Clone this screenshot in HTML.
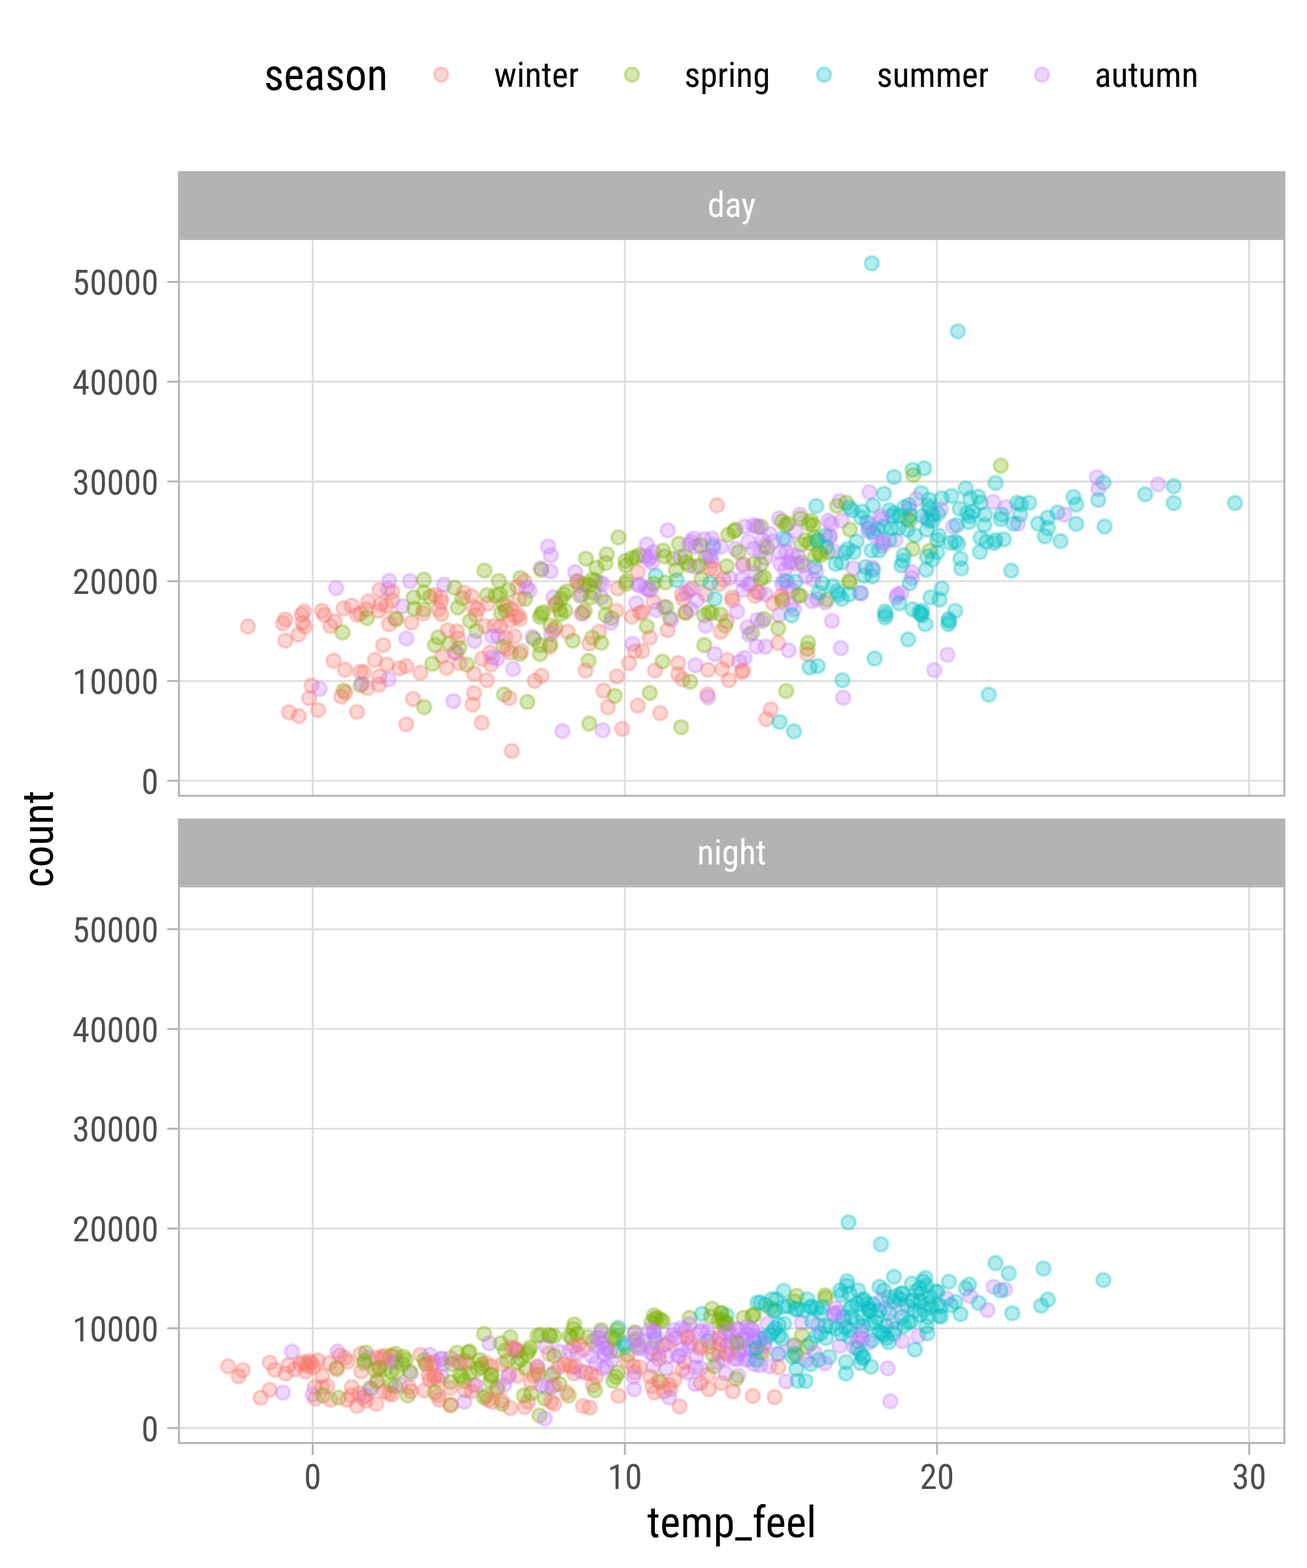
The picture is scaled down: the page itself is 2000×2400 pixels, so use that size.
<!DOCTYPE html><html><head><meta charset="utf-8"><style>html,body{margin:0;padding:0;background:#fff;}svg{display:block}text{font-family:'Roboto Condensed','Liberation Sans',sans-serif;}</style></head><body>
<svg width="2000" height="2400" viewBox="0 0 2000 2400">
<rect width="2000" height="2400" fill="#fff"/>
<text x="403.9" y="138.2" font-size="68.7" fill="#000" textLength="189.72" lengthAdjust="spacingAndGlyphs">season</text>
<circle cx="675.1" cy="114.3" r="10.7" fill="#F8766D" fill-opacity="0.3" stroke="#F8766D" stroke-opacity="0.3" stroke-width="4"/>
<text x="756.1" y="133.2" font-size="53.33" fill="#000" textLength="129.77" lengthAdjust="spacingAndGlyphs">winter</text>
<circle cx="967" cy="114.3" r="10.7" fill="#7CAE00" fill-opacity="0.3" stroke="#7CAE00" stroke-opacity="0.3" stroke-width="4"/>
<text x="1047.2" y="133.2" font-size="53.33" fill="#000" textLength="131.25" lengthAdjust="spacingAndGlyphs">spring</text>
<circle cx="1261" cy="114.3" r="10.7" fill="#00BFC4" fill-opacity="0.3" stroke="#00BFC4" stroke-opacity="0.3" stroke-width="4"/>
<text x="1341.4" y="133.2" font-size="53.33" fill="#000" textLength="171.66" lengthAdjust="spacingAndGlyphs">summer</text>
<circle cx="1594.5" cy="114.3" r="10.7" fill="#C77CFF" fill-opacity="0.3" stroke="#C77CFF" stroke-opacity="0.3" stroke-width="4"/>
<text x="1674.9" y="133.2" font-size="53.33" fill="#000" textLength="158.88" lengthAdjust="spacingAndGlyphs">autumn</text>
<rect x="272.3" y="262.0" width="1694.6000000000001" height="102.30000000000001" fill="#B3B3B3"/>
<text x="1119.6" y="332.0" font-size="53.33" fill="#fff" text-anchor="middle" textLength="73.83" lengthAdjust="spacingAndGlyphs">day</text>
<clipPath id="cp0"><rect x="272.3" y="364.3" width="1694.6000000000001" height="855.2"/></clipPath>
<g clip-path="url(#cp0)">
<rect x="272.3" y="364.3" width="1694.6000000000001" height="855.2" fill="#fff"/>
<line x1="478.50" y1="364.3" x2="478.50" y2="1219.5" stroke="#DEDEDE" stroke-width="2.9"/>
<line x1="956.17" y1="364.3" x2="956.17" y2="1219.5" stroke="#DEDEDE" stroke-width="2.9"/>
<line x1="1433.84" y1="364.3" x2="1433.84" y2="1219.5" stroke="#DEDEDE" stroke-width="2.9"/>
<line x1="1911.51" y1="364.3" x2="1911.51" y2="1219.5" stroke="#DEDEDE" stroke-width="2.9"/>
<line x1="272.3" y1="1195.10" x2="1966.9" y2="1195.10" stroke="#DEDEDE" stroke-width="2.9"/>
<line x1="272.3" y1="1042.38" x2="1966.9" y2="1042.38" stroke="#DEDEDE" stroke-width="2.9"/>
<line x1="272.3" y1="889.66" x2="1966.9" y2="889.66" stroke="#DEDEDE" stroke-width="2.9"/>
<line x1="272.3" y1="736.94" x2="1966.9" y2="736.94" stroke="#DEDEDE" stroke-width="2.9"/>
<line x1="272.3" y1="584.22" x2="1966.9" y2="584.22" stroke="#DEDEDE" stroke-width="2.9"/>
<line x1="272.3" y1="431.50" x2="1966.9" y2="431.50" stroke="#DEDEDE" stroke-width="2.9"/>
<circle cx="1334.1" cy="403.0" r="10.7" fill="#00BFC4" fill-opacity="0.3" stroke="#00BFC4" stroke-opacity="0.3" stroke-width="4"/>
<circle cx="1465.7" cy="507.1" r="10.7" fill="#00BFC4" fill-opacity="0.3" stroke="#00BFC4" stroke-opacity="0.3" stroke-width="4"/>
<circle cx="379.4" cy="958.9" r="10.7" fill="#F8766D" fill-opacity="0.3" stroke="#F8766D" stroke-opacity="0.3" stroke-width="4"/>
<circle cx="436.6" cy="948.1" r="10.7" fill="#F8766D" fill-opacity="0.3" stroke="#F8766D" stroke-opacity="0.3" stroke-width="4"/>
<circle cx="433.1" cy="954.3" r="10.7" fill="#F8766D" fill-opacity="0.3" stroke="#F8766D" stroke-opacity="0.3" stroke-width="4"/>
<circle cx="465.1" cy="936.0" r="10.7" fill="#F8766D" fill-opacity="0.3" stroke="#F8766D" stroke-opacity="0.3" stroke-width="4"/>
<circle cx="461.7" cy="940.6" r="10.7" fill="#F8766D" fill-opacity="0.3" stroke="#F8766D" stroke-opacity="0.3" stroke-width="4"/>
<circle cx="462.9" cy="953.1" r="10.7" fill="#F8766D" fill-opacity="0.3" stroke="#F8766D" stroke-opacity="0.3" stroke-width="4"/>
<circle cx="466.3" cy="958.9" r="10.7" fill="#F8766D" fill-opacity="0.3" stroke="#F8766D" stroke-opacity="0.3" stroke-width="4"/>
<circle cx="456.5" cy="971.4" r="10.7" fill="#F8766D" fill-opacity="0.3" stroke="#F8766D" stroke-opacity="0.3" stroke-width="4"/>
<circle cx="436.6" cy="980.6" r="10.7" fill="#F8766D" fill-opacity="0.3" stroke="#F8766D" stroke-opacity="0.3" stroke-width="4"/>
<circle cx="492.6" cy="934.9" r="10.7" fill="#F8766D" fill-opacity="0.3" stroke="#F8766D" stroke-opacity="0.3" stroke-width="4"/>
<circle cx="496.5" cy="941.3" r="10.7" fill="#F8766D" fill-opacity="0.3" stroke="#F8766D" stroke-opacity="0.3" stroke-width="4"/>
<circle cx="512.0" cy="951.3" r="10.7" fill="#F8766D" fill-opacity="0.3" stroke="#F8766D" stroke-opacity="0.3" stroke-width="4"/>
<circle cx="505.8" cy="958.2" r="10.7" fill="#F8766D" fill-opacity="0.3" stroke="#F8766D" stroke-opacity="0.3" stroke-width="4"/>
<circle cx="524.1" cy="968.0" r="10.7" fill="#7CAE00" fill-opacity="0.3" stroke="#7CAE00" stroke-opacity="0.3" stroke-width="4"/>
<circle cx="514.3" cy="900.1" r="10.7" fill="#C77CFF" fill-opacity="0.3" stroke="#C77CFF" stroke-opacity="0.3" stroke-width="4"/>
<circle cx="525.7" cy="931.4" r="10.7" fill="#F8766D" fill-opacity="0.3" stroke="#F8766D" stroke-opacity="0.3" stroke-width="4"/>
<circle cx="538.3" cy="926.9" r="10.7" fill="#F8766D" fill-opacity="0.3" stroke="#F8766D" stroke-opacity="0.3" stroke-width="4"/>
<circle cx="546.3" cy="941.3" r="10.7" fill="#F8766D" fill-opacity="0.3" stroke="#F8766D" stroke-opacity="0.3" stroke-width="4"/>
<circle cx="551.5" cy="939.0" r="10.7" fill="#F8766D" fill-opacity="0.3" stroke="#F8766D" stroke-opacity="0.3" stroke-width="4"/>
<circle cx="563.4" cy="920.7" r="10.7" fill="#F8766D" fill-opacity="0.3" stroke="#F8766D" stroke-opacity="0.3" stroke-width="4"/>
<circle cx="560.7" cy="932.6" r="10.7" fill="#F8766D" fill-opacity="0.3" stroke="#F8766D" stroke-opacity="0.3" stroke-width="4"/>
<circle cx="561.6" cy="945.8" r="10.7" fill="#7CAE00" fill-opacity="0.3" stroke="#7CAE00" stroke-opacity="0.3" stroke-width="4"/>
<circle cx="580.6" cy="902.9" r="10.7" fill="#F8766D" fill-opacity="0.3" stroke="#F8766D" stroke-opacity="0.3" stroke-width="4"/>
<circle cx="595.4" cy="889.1" r="10.7" fill="#C77CFF" fill-opacity="0.3" stroke="#C77CFF" stroke-opacity="0.3" stroke-width="4"/>
<circle cx="593.6" cy="901.7" r="10.7" fill="#C77CFF" fill-opacity="0.3" stroke="#C77CFF" stroke-opacity="0.3" stroke-width="4"/>
<circle cx="600.0" cy="905.6" r="10.7" fill="#F8766D" fill-opacity="0.3" stroke="#F8766D" stroke-opacity="0.3" stroke-width="4"/>
<circle cx="582.9" cy="924.6" r="10.7" fill="#F8766D" fill-opacity="0.3" stroke="#F8766D" stroke-opacity="0.3" stroke-width="4"/>
<circle cx="579.9" cy="934.9" r="10.7" fill="#F8766D" fill-opacity="0.3" stroke="#F8766D" stroke-opacity="0.3" stroke-width="4"/>
<circle cx="591.3" cy="926.9" r="10.7" fill="#F8766D" fill-opacity="0.3" stroke="#F8766D" stroke-opacity="0.3" stroke-width="4"/>
<circle cx="600.0" cy="919.3" r="10.7" fill="#F8766D" fill-opacity="0.3" stroke="#F8766D" stroke-opacity="0.3" stroke-width="4"/>
<circle cx="616.0" cy="928.0" r="10.7" fill="#C77CFF" fill-opacity="0.3" stroke="#C77CFF" stroke-opacity="0.3" stroke-width="4"/>
<circle cx="604.6" cy="946.3" r="10.7" fill="#F8766D" fill-opacity="0.3" stroke="#F8766D" stroke-opacity="0.3" stroke-width="4"/>
<circle cx="606.4" cy="948.1" r="10.7" fill="#7CAE00" fill-opacity="0.3" stroke="#7CAE00" stroke-opacity="0.3" stroke-width="4"/>
<circle cx="595.4" cy="955.4" r="10.7" fill="#F8766D" fill-opacity="0.3" stroke="#F8766D" stroke-opacity="0.3" stroke-width="4"/>
<circle cx="629.7" cy="953.1" r="10.7" fill="#F8766D" fill-opacity="0.3" stroke="#F8766D" stroke-opacity="0.3" stroke-width="4"/>
<circle cx="627.4" cy="889.6" r="10.7" fill="#C77CFF" fill-opacity="0.3" stroke="#C77CFF" stroke-opacity="0.3" stroke-width="4"/>
<circle cx="648.5" cy="887.3" r="10.7" fill="#7CAE00" fill-opacity="0.3" stroke="#7CAE00" stroke-opacity="0.3" stroke-width="4"/>
<circle cx="633.1" cy="914.3" r="10.7" fill="#7CAE00" fill-opacity="0.3" stroke="#7CAE00" stroke-opacity="0.3" stroke-width="4"/>
<circle cx="633.8" cy="931.4" r="10.7" fill="#7CAE00" fill-opacity="0.3" stroke="#7CAE00" stroke-opacity="0.3" stroke-width="4"/>
<circle cx="648.5" cy="907.0" r="10.7" fill="#7CAE00" fill-opacity="0.3" stroke="#7CAE00" stroke-opacity="0.3" stroke-width="4"/>
<circle cx="648.5" cy="933.0" r="10.7" fill="#7CAE00" fill-opacity="0.3" stroke="#7CAE00" stroke-opacity="0.3" stroke-width="4"/>
<circle cx="658.3" cy="913.8" r="10.7" fill="#7CAE00" fill-opacity="0.3" stroke="#7CAE00" stroke-opacity="0.3" stroke-width="4"/>
<circle cx="647.5" cy="939.0" r="10.7" fill="#F8766D" fill-opacity="0.3" stroke="#F8766D" stroke-opacity="0.3" stroke-width="4"/>
<circle cx="665.1" cy="910.9" r="10.7" fill="#F8766D" fill-opacity="0.3" stroke="#F8766D" stroke-opacity="0.3" stroke-width="4"/>
<circle cx="674.3" cy="914.3" r="10.7" fill="#F8766D" fill-opacity="0.3" stroke="#F8766D" stroke-opacity="0.3" stroke-width="4"/>
<circle cx="675.0" cy="921.1" r="10.7" fill="#F8766D" fill-opacity="0.3" stroke="#F8766D" stroke-opacity="0.3" stroke-width="4"/>
<circle cx="671.3" cy="933.0" r="10.7" fill="#F8766D" fill-opacity="0.3" stroke="#F8766D" stroke-opacity="0.3" stroke-width="4"/>
<circle cx="675.4" cy="939.9" r="10.7" fill="#F8766D" fill-opacity="0.3" stroke="#F8766D" stroke-opacity="0.3" stroke-width="4"/>
<circle cx="679.5" cy="894.9" r="10.7" fill="#C77CFF" fill-opacity="0.3" stroke="#C77CFF" stroke-opacity="0.3" stroke-width="4"/>
<circle cx="695.5" cy="899.4" r="10.7" fill="#7CAE00" fill-opacity="0.3" stroke="#7CAE00" stroke-opacity="0.3" stroke-width="4"/>
<circle cx="700.6" cy="929.8" r="10.7" fill="#7CAE00" fill-opacity="0.3" stroke="#7CAE00" stroke-opacity="0.3" stroke-width="4"/>
<circle cx="707.4" cy="915.4" r="10.7" fill="#7CAE00" fill-opacity="0.3" stroke="#7CAE00" stroke-opacity="0.3" stroke-width="4"/>
<circle cx="709.7" cy="907.0" r="10.7" fill="#F8766D" fill-opacity="0.3" stroke="#F8766D" stroke-opacity="0.3" stroke-width="4"/>
<circle cx="721.6" cy="912.5" r="10.7" fill="#F8766D" fill-opacity="0.3" stroke="#F8766D" stroke-opacity="0.3" stroke-width="4"/>
<circle cx="723.9" cy="928.5" r="10.7" fill="#F8766D" fill-opacity="0.3" stroke="#F8766D" stroke-opacity="0.3" stroke-width="4"/>
<circle cx="730.7" cy="932.1" r="10.7" fill="#F8766D" fill-opacity="0.3" stroke="#F8766D" stroke-opacity="0.3" stroke-width="4"/>
<circle cx="728.0" cy="941.3" r="10.7" fill="#F8766D" fill-opacity="0.3" stroke="#F8766D" stroke-opacity="0.3" stroke-width="4"/>
<circle cx="719.3" cy="950.4" r="10.7" fill="#7CAE00" fill-opacity="0.3" stroke="#7CAE00" stroke-opacity="0.3" stroke-width="4"/>
<circle cx="729.1" cy="965.7" r="10.7" fill="#7CAE00" fill-opacity="0.3" stroke="#7CAE00" stroke-opacity="0.3" stroke-width="4"/>
<circle cx="745.1" cy="910.9" r="10.7" fill="#7CAE00" fill-opacity="0.3" stroke="#7CAE00" stroke-opacity="0.3" stroke-width="4"/>
<circle cx="746.3" cy="923.9" r="10.7" fill="#F8766D" fill-opacity="0.3" stroke="#F8766D" stroke-opacity="0.3" stroke-width="4"/>
<circle cx="758.2" cy="911.5" r="10.7" fill="#7CAE00" fill-opacity="0.3" stroke="#7CAE00" stroke-opacity="0.3" stroke-width="4"/>
<circle cx="742.2" cy="958.2" r="10.7" fill="#F8766D" fill-opacity="0.3" stroke="#F8766D" stroke-opacity="0.3" stroke-width="4"/>
<circle cx="756.6" cy="957.7" r="10.7" fill="#F8766D" fill-opacity="0.3" stroke="#F8766D" stroke-opacity="0.3" stroke-width="4"/>
<circle cx="621.7" cy="977.1" r="10.7" fill="#C77CFF" fill-opacity="0.3" stroke="#C77CFF" stroke-opacity="0.3" stroke-width="4"/>
<circle cx="586.3" cy="987.4" r="10.7" fill="#F8766D" fill-opacity="0.3" stroke="#F8766D" stroke-opacity="0.3" stroke-width="4"/>
<circle cx="670.9" cy="975.5" r="10.7" fill="#7CAE00" fill-opacity="0.3" stroke="#7CAE00" stroke-opacity="0.3" stroke-width="4"/>
<circle cx="665.8" cy="987.4" r="10.7" fill="#7CAE00" fill-opacity="0.3" stroke="#7CAE00" stroke-opacity="0.3" stroke-width="4"/>
<circle cx="685.0" cy="964.6" r="10.7" fill="#F8766D" fill-opacity="0.3" stroke="#F8766D" stroke-opacity="0.3" stroke-width="4"/>
<circle cx="699.4" cy="966.4" r="10.7" fill="#F8766D" fill-opacity="0.3" stroke="#F8766D" stroke-opacity="0.3" stroke-width="4"/>
<circle cx="688.0" cy="985.1" r="10.7" fill="#7CAE00" fill-opacity="0.3" stroke="#7CAE00" stroke-opacity="0.3" stroke-width="4"/>
<circle cx="701.0" cy="977.1" r="10.7" fill="#F8766D" fill-opacity="0.3" stroke="#F8766D" stroke-opacity="0.3" stroke-width="4"/>
<circle cx="725.7" cy="981.0" r="10.7" fill="#C77CFF" fill-opacity="0.3" stroke="#C77CFF" stroke-opacity="0.3" stroke-width="4"/>
<circle cx="753.6" cy="974.2" r="10.7" fill="#C77CFF" fill-opacity="0.3" stroke="#C77CFF" stroke-opacity="0.3" stroke-width="4"/>
<circle cx="676.6" cy="1004.6" r="10.7" fill="#F8766D" fill-opacity="0.3" stroke="#F8766D" stroke-opacity="0.3" stroke-width="4"/>
<circle cx="696.0" cy="998.9" r="10.7" fill="#F8766D" fill-opacity="0.3" stroke="#F8766D" stroke-opacity="0.3" stroke-width="4"/>
<circle cx="698.7" cy="999.3" r="10.7" fill="#C77CFF" fill-opacity="0.3" stroke="#C77CFF" stroke-opacity="0.3" stroke-width="4"/>
<circle cx="702.9" cy="991.5" r="10.7" fill="#7CAE00" fill-opacity="0.3" stroke="#7CAE00" stroke-opacity="0.3" stroke-width="4"/>
<circle cx="661.7" cy="1016.0" r="10.7" fill="#7CAE00" fill-opacity="0.3" stroke="#7CAE00" stroke-opacity="0.3" stroke-width="4"/>
<circle cx="683.4" cy="1022.2" r="10.7" fill="#F8766D" fill-opacity="0.3" stroke="#F8766D" stroke-opacity="0.3" stroke-width="4"/>
<circle cx="714.3" cy="1017.1" r="10.7" fill="#7CAE00" fill-opacity="0.3" stroke="#7CAE00" stroke-opacity="0.3" stroke-width="4"/>
<circle cx="703.3" cy="1014.9" r="10.7" fill="#F8766D" fill-opacity="0.3" stroke="#F8766D" stroke-opacity="0.3" stroke-width="4"/>
<circle cx="725.3" cy="1031.3" r="10.7" fill="#F8766D" fill-opacity="0.3" stroke="#F8766D" stroke-opacity="0.3" stroke-width="4"/>
<circle cx="737.6" cy="1008.5" r="10.7" fill="#F8766D" fill-opacity="0.3" stroke="#F8766D" stroke-opacity="0.3" stroke-width="4"/>
<circle cx="749.7" cy="998.9" r="10.7" fill="#F8766D" fill-opacity="0.3" stroke="#F8766D" stroke-opacity="0.3" stroke-width="4"/>
<circle cx="753.6" cy="1006.2" r="10.7" fill="#C77CFF" fill-opacity="0.3" stroke="#C77CFF" stroke-opacity="0.3" stroke-width="4"/>
<circle cx="751.3" cy="1017.1" r="10.7" fill="#F8766D" fill-opacity="0.3" stroke="#F8766D" stroke-opacity="0.3" stroke-width="4"/>
<circle cx="510.4" cy="1011.4" r="10.7" fill="#F8766D" fill-opacity="0.3" stroke="#F8766D" stroke-opacity="0.3" stroke-width="4"/>
<circle cx="528.0" cy="1025.1" r="10.7" fill="#F8766D" fill-opacity="0.3" stroke="#F8766D" stroke-opacity="0.3" stroke-width="4"/>
<circle cx="551.5" cy="1028.1" r="10.7" fill="#F8766D" fill-opacity="0.3" stroke="#F8766D" stroke-opacity="0.3" stroke-width="4"/>
<circle cx="557.0" cy="1029.0" r="10.7" fill="#F8766D" fill-opacity="0.3" stroke="#F8766D" stroke-opacity="0.3" stroke-width="4"/>
<circle cx="573.7" cy="1010.3" r="10.7" fill="#F8766D" fill-opacity="0.3" stroke="#F8766D" stroke-opacity="0.3" stroke-width="4"/>
<circle cx="592.0" cy="1017.1" r="10.7" fill="#F8766D" fill-opacity="0.3" stroke="#F8766D" stroke-opacity="0.3" stroke-width="4"/>
<circle cx="611.4" cy="1022.9" r="10.7" fill="#F8766D" fill-opacity="0.3" stroke="#F8766D" stroke-opacity="0.3" stroke-width="4"/>
<circle cx="621.7" cy="1019.4" r="10.7" fill="#F8766D" fill-opacity="0.3" stroke="#F8766D" stroke-opacity="0.3" stroke-width="4"/>
<circle cx="643.4" cy="1029.7" r="10.7" fill="#F8766D" fill-opacity="0.3" stroke="#F8766D" stroke-opacity="0.3" stroke-width="4"/>
<circle cx="580.6" cy="1035.4" r="10.7" fill="#F8766D" fill-opacity="0.3" stroke="#F8766D" stroke-opacity="0.3" stroke-width="4"/>
<circle cx="594.3" cy="1040.0" r="10.7" fill="#C77CFF" fill-opacity="0.3" stroke="#C77CFF" stroke-opacity="0.3" stroke-width="4"/>
<circle cx="476.6" cy="1049.1" r="10.7" fill="#F8766D" fill-opacity="0.3" stroke="#F8766D" stroke-opacity="0.3" stroke-width="4"/>
<circle cx="489.1" cy="1054.2" r="10.7" fill="#C77CFF" fill-opacity="0.3" stroke="#C77CFF" stroke-opacity="0.3" stroke-width="4"/>
<circle cx="473.1" cy="1068.6" r="10.7" fill="#F8766D" fill-opacity="0.3" stroke="#F8766D" stroke-opacity="0.3" stroke-width="4"/>
<circle cx="525.7" cy="1057.1" r="10.7" fill="#7CAE00" fill-opacity="0.3" stroke="#7CAE00" stroke-opacity="0.3" stroke-width="4"/>
<circle cx="528.7" cy="1060.1" r="10.7" fill="#F8766D" fill-opacity="0.3" stroke="#F8766D" stroke-opacity="0.3" stroke-width="4"/>
<circle cx="522.3" cy="1066.3" r="10.7" fill="#F8766D" fill-opacity="0.3" stroke="#F8766D" stroke-opacity="0.3" stroke-width="4"/>
<circle cx="552.0" cy="1049.1" r="10.7" fill="#7CAE00" fill-opacity="0.3" stroke="#7CAE00" stroke-opacity="0.3" stroke-width="4"/>
<circle cx="553.8" cy="1046.4" r="10.7" fill="#C77CFF" fill-opacity="0.3" stroke="#C77CFF" stroke-opacity="0.3" stroke-width="4"/>
<circle cx="562.3" cy="1053.3" r="10.7" fill="#F8766D" fill-opacity="0.3" stroke="#F8766D" stroke-opacity="0.3" stroke-width="4"/>
<circle cx="579.9" cy="1048.0" r="10.7" fill="#F8766D" fill-opacity="0.3" stroke="#F8766D" stroke-opacity="0.3" stroke-width="4"/>
<circle cx="745.1" cy="1041.1" r="10.7" fill="#F8766D" fill-opacity="0.3" stroke="#F8766D" stroke-opacity="0.3" stroke-width="4"/>
<circle cx="632.0" cy="1069.7" r="10.7" fill="#F8766D" fill-opacity="0.3" stroke="#F8766D" stroke-opacity="0.3" stroke-width="4"/>
<circle cx="649.1" cy="1082.3" r="10.7" fill="#7CAE00" fill-opacity="0.3" stroke="#7CAE00" stroke-opacity="0.3" stroke-width="4"/>
<circle cx="693.7" cy="1073.1" r="10.7" fill="#C77CFF" fill-opacity="0.3" stroke="#C77CFF" stroke-opacity="0.3" stroke-width="4"/>
<circle cx="725.3" cy="1061.0" r="10.7" fill="#F8766D" fill-opacity="0.3" stroke="#F8766D" stroke-opacity="0.3" stroke-width="4"/>
<circle cx="723.4" cy="1078.4" r="10.7" fill="#F8766D" fill-opacity="0.3" stroke="#F8766D" stroke-opacity="0.3" stroke-width="4"/>
<circle cx="442.3" cy="1090.3" r="10.7" fill="#F8766D" fill-opacity="0.3" stroke="#F8766D" stroke-opacity="0.3" stroke-width="4"/>
<circle cx="457.1" cy="1096.0" r="10.7" fill="#F8766D" fill-opacity="0.3" stroke="#F8766D" stroke-opacity="0.3" stroke-width="4"/>
<circle cx="486.9" cy="1086.9" r="10.7" fill="#F8766D" fill-opacity="0.3" stroke="#F8766D" stroke-opacity="0.3" stroke-width="4"/>
<circle cx="546.3" cy="1089.8" r="10.7" fill="#F8766D" fill-opacity="0.3" stroke="#F8766D" stroke-opacity="0.3" stroke-width="4"/>
<circle cx="621.7" cy="1108.6" r="10.7" fill="#F8766D" fill-opacity="0.3" stroke="#F8766D" stroke-opacity="0.3" stroke-width="4"/>
<circle cx="737.1" cy="1106.3" r="10.7" fill="#F8766D" fill-opacity="0.3" stroke="#F8766D" stroke-opacity="0.3" stroke-width="4"/>
<circle cx="763.4" cy="889.1" r="10.7" fill="#7CAE00" fill-opacity="0.3" stroke="#7CAE00" stroke-opacity="0.3" stroke-width="4"/>
<circle cx="796.6" cy="884.6" r="10.7" fill="#7CAE00" fill-opacity="0.3" stroke="#7CAE00" stroke-opacity="0.3" stroke-width="4"/>
<circle cx="802.3" cy="889.1" r="10.7" fill="#F8766D" fill-opacity="0.3" stroke="#F8766D" stroke-opacity="0.3" stroke-width="4"/>
<circle cx="792.0" cy="898.3" r="10.7" fill="#F8766D" fill-opacity="0.3" stroke="#F8766D" stroke-opacity="0.3" stroke-width="4"/>
<circle cx="810.3" cy="904.0" r="10.7" fill="#C77CFF" fill-opacity="0.3" stroke="#C77CFF" stroke-opacity="0.3" stroke-width="4"/>
<circle cx="805.7" cy="899.4" r="10.7" fill="#C77CFF" fill-opacity="0.3" stroke="#C77CFF" stroke-opacity="0.3" stroke-width="4"/>
<circle cx="778.3" cy="902.9" r="10.7" fill="#7CAE00" fill-opacity="0.3" stroke="#7CAE00" stroke-opacity="0.3" stroke-width="4"/>
<circle cx="764.6" cy="909.7" r="10.7" fill="#7CAE00" fill-opacity="0.3" stroke="#7CAE00" stroke-opacity="0.3" stroke-width="4"/>
<circle cx="803.4" cy="916.6" r="10.7" fill="#7CAE00" fill-opacity="0.3" stroke="#7CAE00" stroke-opacity="0.3" stroke-width="4"/>
<circle cx="794.3" cy="917.7" r="10.7" fill="#F8766D" fill-opacity="0.3" stroke="#F8766D" stroke-opacity="0.3" stroke-width="4"/>
<circle cx="770.3" cy="924.6" r="10.7" fill="#7CAE00" fill-opacity="0.3" stroke="#7CAE00" stroke-opacity="0.3" stroke-width="4"/>
<circle cx="774.9" cy="928.0" r="10.7" fill="#F8766D" fill-opacity="0.3" stroke="#F8766D" stroke-opacity="0.3" stroke-width="4"/>
<circle cx="766.9" cy="938.3" r="10.7" fill="#7CAE00" fill-opacity="0.3" stroke="#7CAE00" stroke-opacity="0.3" stroke-width="4"/>
<circle cx="773.7" cy="934.9" r="10.7" fill="#7CAE00" fill-opacity="0.3" stroke="#7CAE00" stroke-opacity="0.3" stroke-width="4"/>
<circle cx="781.7" cy="932.6" r="10.7" fill="#F8766D" fill-opacity="0.3" stroke="#F8766D" stroke-opacity="0.3" stroke-width="4"/>
<circle cx="788.6" cy="944.0" r="10.7" fill="#F8766D" fill-opacity="0.3" stroke="#F8766D" stroke-opacity="0.3" stroke-width="4"/>
<circle cx="795.4" cy="947.4" r="10.7" fill="#F8766D" fill-opacity="0.3" stroke="#F8766D" stroke-opacity="0.3" stroke-width="4"/>
<circle cx="793.1" cy="941.7" r="10.7" fill="#F8766D" fill-opacity="0.3" stroke="#F8766D" stroke-opacity="0.3" stroke-width="4"/>
<circle cx="779.4" cy="949.7" r="10.7" fill="#F8766D" fill-opacity="0.3" stroke="#F8766D" stroke-opacity="0.3" stroke-width="4"/>
<circle cx="765.7" cy="958.9" r="10.7" fill="#F8766D" fill-opacity="0.3" stroke="#F8766D" stroke-opacity="0.3" stroke-width="4"/>
<circle cx="762.3" cy="973.7" r="10.7" fill="#C77CFF" fill-opacity="0.3" stroke="#C77CFF" stroke-opacity="0.3" stroke-width="4"/>
<circle cx="787.4" cy="973.7" r="10.7" fill="#F8766D" fill-opacity="0.3" stroke="#F8766D" stroke-opacity="0.3" stroke-width="4"/>
<circle cx="773.7" cy="976.0" r="10.7" fill="#F8766D" fill-opacity="0.3" stroke="#F8766D" stroke-opacity="0.3" stroke-width="4"/>
<circle cx="770.3" cy="989.7" r="10.7" fill="#7CAE00" fill-opacity="0.3" stroke="#7CAE00" stroke-opacity="0.3" stroke-width="4"/>
<circle cx="776.0" cy="993.1" r="10.7" fill="#F8766D" fill-opacity="0.3" stroke="#F8766D" stroke-opacity="0.3" stroke-width="4"/>
<circle cx="781.7" cy="998.9" r="10.7" fill="#F8766D" fill-opacity="0.3" stroke="#F8766D" stroke-opacity="0.3" stroke-width="4"/>
<circle cx="795.4" cy="1001.1" r="10.7" fill="#7CAE00" fill-opacity="0.3" stroke="#7CAE00" stroke-opacity="0.3" stroke-width="4"/>
<circle cx="797.7" cy="996.6" r="10.7" fill="#F8766D" fill-opacity="0.3" stroke="#F8766D" stroke-opacity="0.3" stroke-width="4"/>
<circle cx="761.1" cy="1008.0" r="10.7" fill="#C77CFF" fill-opacity="0.3" stroke="#C77CFF" stroke-opacity="0.3" stroke-width="4"/>
<circle cx="785.1" cy="1024.0" r="10.7" fill="#C77CFF" fill-opacity="0.3" stroke="#C77CFF" stroke-opacity="0.3" stroke-width="4"/>
<circle cx="846.9" cy="914.3" r="10.7" fill="#C77CFF" fill-opacity="0.3" stroke="#C77CFF" stroke-opacity="0.3" stroke-width="4"/>
<circle cx="862.9" cy="909.7" r="10.7" fill="#7CAE00" fill-opacity="0.3" stroke="#7CAE00" stroke-opacity="0.3" stroke-width="4"/>
<circle cx="867.4" cy="905.1" r="10.7" fill="#7CAE00" fill-opacity="0.3" stroke="#7CAE00" stroke-opacity="0.3" stroke-width="4"/>
<circle cx="858.3" cy="916.6" r="10.7" fill="#7CAE00" fill-opacity="0.3" stroke="#7CAE00" stroke-opacity="0.3" stroke-width="4"/>
<circle cx="851.4" cy="923.4" r="10.7" fill="#7CAE00" fill-opacity="0.3" stroke="#7CAE00" stroke-opacity="0.3" stroke-width="4"/>
<circle cx="849.1" cy="925.7" r="10.7" fill="#F8766D" fill-opacity="0.3" stroke="#F8766D" stroke-opacity="0.3" stroke-width="4"/>
<circle cx="856.0" cy="932.6" r="10.7" fill="#7CAE00" fill-opacity="0.3" stroke="#7CAE00" stroke-opacity="0.3" stroke-width="4"/>
<circle cx="828.6" cy="939.4" r="10.7" fill="#7CAE00" fill-opacity="0.3" stroke="#7CAE00" stroke-opacity="0.3" stroke-width="4"/>
<circle cx="830.9" cy="937.1" r="10.7" fill="#7CAE00" fill-opacity="0.3" stroke="#7CAE00" stroke-opacity="0.3" stroke-width="4"/>
<circle cx="826.3" cy="944.0" r="10.7" fill="#7CAE00" fill-opacity="0.3" stroke="#7CAE00" stroke-opacity="0.3" stroke-width="4"/>
<circle cx="865.1" cy="934.9" r="10.7" fill="#7CAE00" fill-opacity="0.3" stroke="#7CAE00" stroke-opacity="0.3" stroke-width="4"/>
<circle cx="858.3" cy="939.4" r="10.7" fill="#7CAE00" fill-opacity="0.3" stroke="#7CAE00" stroke-opacity="0.3" stroke-width="4"/>
<circle cx="842.3" cy="957.7" r="10.7" fill="#7CAE00" fill-opacity="0.3" stroke="#7CAE00" stroke-opacity="0.3" stroke-width="4"/>
<circle cx="850.3" cy="961.1" r="10.7" fill="#7CAE00" fill-opacity="0.3" stroke="#7CAE00" stroke-opacity="0.3" stroke-width="4"/>
<circle cx="843.4" cy="970.3" r="10.7" fill="#C77CFF" fill-opacity="0.3" stroke="#C77CFF" stroke-opacity="0.3" stroke-width="4"/>
<circle cx="846.9" cy="964.6" r="10.7" fill="#F8766D" fill-opacity="0.3" stroke="#F8766D" stroke-opacity="0.3" stroke-width="4"/>
<circle cx="868.6" cy="966.9" r="10.7" fill="#F8766D" fill-opacity="0.3" stroke="#F8766D" stroke-opacity="0.3" stroke-width="4"/>
<circle cx="814.9" cy="974.9" r="10.7" fill="#C77CFF" fill-opacity="0.3" stroke="#C77CFF" stroke-opacity="0.3" stroke-width="4"/>
<circle cx="817.1" cy="978.3" r="10.7" fill="#7CAE00" fill-opacity="0.3" stroke="#7CAE00" stroke-opacity="0.3" stroke-width="4"/>
<circle cx="826.3" cy="987.4" r="10.7" fill="#7CAE00" fill-opacity="0.3" stroke="#7CAE00" stroke-opacity="0.3" stroke-width="4"/>
<circle cx="841.1" cy="989.7" r="10.7" fill="#F8766D" fill-opacity="0.3" stroke="#F8766D" stroke-opacity="0.3" stroke-width="4"/>
<circle cx="842.3" cy="986.3" r="10.7" fill="#7CAE00" fill-opacity="0.3" stroke="#7CAE00" stroke-opacity="0.3" stroke-width="4"/>
<circle cx="826.3" cy="1001.1" r="10.7" fill="#7CAE00" fill-opacity="0.3" stroke="#7CAE00" stroke-opacity="0.3" stroke-width="4"/>
<circle cx="876.6" cy="980.6" r="10.7" fill="#7CAE00" fill-opacity="0.3" stroke="#7CAE00" stroke-opacity="0.3" stroke-width="4"/>
<circle cx="883.4" cy="890.3" r="10.7" fill="#7CAE00" fill-opacity="0.3" stroke="#7CAE00" stroke-opacity="0.3" stroke-width="4"/>
<circle cx="883.4" cy="889.1" r="10.7" fill="#F8766D" fill-opacity="0.3" stroke="#F8766D" stroke-opacity="0.3" stroke-width="4"/>
<circle cx="888.0" cy="896.0" r="10.7" fill="#F8766D" fill-opacity="0.3" stroke="#F8766D" stroke-opacity="0.3" stroke-width="4"/>
<circle cx="894.9" cy="893.7" r="10.7" fill="#7CAE00" fill-opacity="0.3" stroke="#7CAE00" stroke-opacity="0.3" stroke-width="4"/>
<circle cx="901.7" cy="896.0" r="10.7" fill="#7CAE00" fill-opacity="0.3" stroke="#7CAE00" stroke-opacity="0.3" stroke-width="4"/>
<circle cx="917.7" cy="891.4" r="10.7" fill="#C77CFF" fill-opacity="0.3" stroke="#C77CFF" stroke-opacity="0.3" stroke-width="4"/>
<circle cx="922.3" cy="893.7" r="10.7" fill="#C77CFF" fill-opacity="0.3" stroke="#C77CFF" stroke-opacity="0.3" stroke-width="4"/>
<circle cx="910.9" cy="889.1" r="10.7" fill="#7CAE00" fill-opacity="0.3" stroke="#7CAE00" stroke-opacity="0.3" stroke-width="4"/>
<circle cx="906.3" cy="886.9" r="10.7" fill="#7CAE00" fill-opacity="0.3" stroke="#7CAE00" stroke-opacity="0.3" stroke-width="4"/>
<circle cx="888.0" cy="912.0" r="10.7" fill="#7CAE00" fill-opacity="0.3" stroke="#7CAE00" stroke-opacity="0.3" stroke-width="4"/>
<circle cx="890.3" cy="909.7" r="10.7" fill="#C77CFF" fill-opacity="0.3" stroke="#C77CFF" stroke-opacity="0.3" stroke-width="4"/>
<circle cx="904.0" cy="914.3" r="10.7" fill="#7CAE00" fill-opacity="0.3" stroke="#7CAE00" stroke-opacity="0.3" stroke-width="4"/>
<circle cx="908.6" cy="907.4" r="10.7" fill="#7CAE00" fill-opacity="0.3" stroke="#7CAE00" stroke-opacity="0.3" stroke-width="4"/>
<circle cx="920.0" cy="914.3" r="10.7" fill="#C77CFF" fill-opacity="0.3" stroke="#C77CFF" stroke-opacity="0.3" stroke-width="4"/>
<circle cx="925.7" cy="921.1" r="10.7" fill="#7CAE00" fill-opacity="0.3" stroke="#7CAE00" stroke-opacity="0.3" stroke-width="4"/>
<circle cx="890.3" cy="939.4" r="10.7" fill="#C77CFF" fill-opacity="0.3" stroke="#C77CFF" stroke-opacity="0.3" stroke-width="4"/>
<circle cx="891.4" cy="938.3" r="10.7" fill="#F8766D" fill-opacity="0.3" stroke="#F8766D" stroke-opacity="0.3" stroke-width="4"/>
<circle cx="894.9" cy="934.9" r="10.7" fill="#7CAE00" fill-opacity="0.3" stroke="#7CAE00" stroke-opacity="0.3" stroke-width="4"/>
<circle cx="926.9" cy="941.7" r="10.7" fill="#7CAE00" fill-opacity="0.3" stroke="#7CAE00" stroke-opacity="0.3" stroke-width="4"/>
<circle cx="942.9" cy="934.9" r="10.7" fill="#F8766D" fill-opacity="0.3" stroke="#F8766D" stroke-opacity="0.3" stroke-width="4"/>
<circle cx="936.0" cy="946.3" r="10.7" fill="#7CAE00" fill-opacity="0.3" stroke="#7CAE00" stroke-opacity="0.3" stroke-width="4"/>
<circle cx="934.9" cy="953.1" r="10.7" fill="#C77CFF" fill-opacity="0.3" stroke="#C77CFF" stroke-opacity="0.3" stroke-width="4"/>
<circle cx="945.1" cy="900.6" r="10.7" fill="#F8766D" fill-opacity="0.3" stroke="#F8766D" stroke-opacity="0.3" stroke-width="4"/>
<circle cx="957.7" cy="893.7" r="10.7" fill="#7CAE00" fill-opacity="0.3" stroke="#7CAE00" stroke-opacity="0.3" stroke-width="4"/>
<circle cx="958.9" cy="889.1" r="10.7" fill="#7CAE00" fill-opacity="0.3" stroke="#7CAE00" stroke-opacity="0.3" stroke-width="4"/>
<circle cx="916.6" cy="966.9" r="10.7" fill="#F8766D" fill-opacity="0.3" stroke="#F8766D" stroke-opacity="0.3" stroke-width="4"/>
<circle cx="906.3" cy="976.0" r="10.7" fill="#7CAE00" fill-opacity="0.3" stroke="#7CAE00" stroke-opacity="0.3" stroke-width="4"/>
<circle cx="901.7" cy="985.1" r="10.7" fill="#F8766D" fill-opacity="0.3" stroke="#F8766D" stroke-opacity="0.3" stroke-width="4"/>
<circle cx="920.0" cy="984.0" r="10.7" fill="#7CAE00" fill-opacity="0.3" stroke="#7CAE00" stroke-opacity="0.3" stroke-width="4"/>
<circle cx="900.6" cy="1011.4" r="10.7" fill="#7CAE00" fill-opacity="0.3" stroke="#7CAE00" stroke-opacity="0.3" stroke-width="4"/>
<circle cx="896.0" cy="1026.3" r="10.7" fill="#F8766D" fill-opacity="0.3" stroke="#F8766D" stroke-opacity="0.3" stroke-width="4"/>
<circle cx="944.0" cy="1035.4" r="10.7" fill="#F8766D" fill-opacity="0.3" stroke="#F8766D" stroke-opacity="0.3" stroke-width="4"/>
<circle cx="828.6" cy="1034.3" r="10.7" fill="#F8766D" fill-opacity="0.3" stroke="#F8766D" stroke-opacity="0.3" stroke-width="4"/>
<circle cx="818.3" cy="1042.3" r="10.7" fill="#F8766D" fill-opacity="0.3" stroke="#F8766D" stroke-opacity="0.3" stroke-width="4"/>
<circle cx="771.4" cy="1062.9" r="10.7" fill="#7CAE00" fill-opacity="0.3" stroke="#7CAE00" stroke-opacity="0.3" stroke-width="4"/>
<circle cx="779.4" cy="1068.6" r="10.7" fill="#F8766D" fill-opacity="0.3" stroke="#F8766D" stroke-opacity="0.3" stroke-width="4"/>
<circle cx="806.9" cy="1074.3" r="10.7" fill="#7CAE00" fill-opacity="0.3" stroke="#7CAE00" stroke-opacity="0.3" stroke-width="4"/>
<circle cx="923.4" cy="1057.1" r="10.7" fill="#F8766D" fill-opacity="0.3" stroke="#F8766D" stroke-opacity="0.3" stroke-width="4"/>
<circle cx="940.6" cy="1065.1" r="10.7" fill="#7CAE00" fill-opacity="0.3" stroke="#7CAE00" stroke-opacity="0.3" stroke-width="4"/>
<circle cx="930.3" cy="1082.3" r="10.7" fill="#F8766D" fill-opacity="0.3" stroke="#F8766D" stroke-opacity="0.3" stroke-width="4"/>
<circle cx="901.7" cy="1107.4" r="10.7" fill="#7CAE00" fill-opacity="0.3" stroke="#7CAE00" stroke-opacity="0.3" stroke-width="4"/>
<circle cx="860.6" cy="1118.9" r="10.7" fill="#C77CFF" fill-opacity="0.3" stroke="#C77CFF" stroke-opacity="0.3" stroke-width="4"/>
<circle cx="922.3" cy="1117.7" r="10.7" fill="#C77CFF" fill-opacity="0.3" stroke="#C77CFF" stroke-opacity="0.3" stroke-width="4"/>
<circle cx="952.0" cy="1115.4" r="10.7" fill="#F8766D" fill-opacity="0.3" stroke="#F8766D" stroke-opacity="0.3" stroke-width="4"/>
<circle cx="1003.4" cy="881.1" r="10.7" fill="#00BFC4" fill-opacity="0.3" stroke="#00BFC4" stroke-opacity="0.3" stroke-width="4"/>
<circle cx="1035.4" cy="888.0" r="10.7" fill="#00BFC4" fill-opacity="0.3" stroke="#00BFC4" stroke-opacity="0.3" stroke-width="4"/>
<circle cx="1018.3" cy="891.4" r="10.7" fill="#7CAE00" fill-opacity="0.3" stroke="#7CAE00" stroke-opacity="0.3" stroke-width="4"/>
<circle cx="1073.1" cy="886.9" r="10.7" fill="#7CAE00" fill-opacity="0.3" stroke="#7CAE00" stroke-opacity="0.3" stroke-width="4"/>
<circle cx="1100.6" cy="893.7" r="10.7" fill="#F8766D" fill-opacity="0.3" stroke="#F8766D" stroke-opacity="0.3" stroke-width="4"/>
<circle cx="1107.4" cy="886.9" r="10.7" fill="#F8766D" fill-opacity="0.3" stroke="#F8766D" stroke-opacity="0.3" stroke-width="4"/>
<circle cx="1116.6" cy="884.6" r="10.7" fill="#C77CFF" fill-opacity="0.3" stroke="#C77CFF" stroke-opacity="0.3" stroke-width="4"/>
<circle cx="977.1" cy="896.0" r="10.7" fill="#C77CFF" fill-opacity="0.3" stroke="#C77CFF" stroke-opacity="0.3" stroke-width="4"/>
<circle cx="988.6" cy="900.6" r="10.7" fill="#C77CFF" fill-opacity="0.3" stroke="#C77CFF" stroke-opacity="0.3" stroke-width="4"/>
<circle cx="995.4" cy="902.9" r="10.7" fill="#C77CFF" fill-opacity="0.3" stroke="#C77CFF" stroke-opacity="0.3" stroke-width="4"/>
<circle cx="1000.0" cy="893.7" r="10.7" fill="#7CAE00" fill-opacity="0.3" stroke="#7CAE00" stroke-opacity="0.3" stroke-width="4"/>
<circle cx="1059.4" cy="900.6" r="10.7" fill="#C77CFF" fill-opacity="0.3" stroke="#C77CFF" stroke-opacity="0.3" stroke-width="4"/>
<circle cx="1054.9" cy="902.9" r="10.7" fill="#F8766D" fill-opacity="0.3" stroke="#F8766D" stroke-opacity="0.3" stroke-width="4"/>
<circle cx="1086.9" cy="892.6" r="10.7" fill="#00BFC4" fill-opacity="0.3" stroke="#00BFC4" stroke-opacity="0.3" stroke-width="4"/>
<circle cx="1043.4" cy="909.7" r="10.7" fill="#F8766D" fill-opacity="0.3" stroke="#F8766D" stroke-opacity="0.3" stroke-width="4"/>
<circle cx="1045.7" cy="916.6" r="10.7" fill="#F8766D" fill-opacity="0.3" stroke="#F8766D" stroke-opacity="0.3" stroke-width="4"/>
<circle cx="1050.3" cy="907.4" r="10.7" fill="#C77CFF" fill-opacity="0.3" stroke="#C77CFF" stroke-opacity="0.3" stroke-width="4"/>
<circle cx="1080.0" cy="909.7" r="10.7" fill="#F8766D" fill-opacity="0.3" stroke="#F8766D" stroke-opacity="0.3" stroke-width="4"/>
<circle cx="1093.7" cy="916.6" r="10.7" fill="#00BFC4" fill-opacity="0.3" stroke="#00BFC4" stroke-opacity="0.3" stroke-width="4"/>
<circle cx="1066.3" cy="918.9" r="10.7" fill="#C77CFF" fill-opacity="0.3" stroke="#C77CFF" stroke-opacity="0.3" stroke-width="4"/>
<circle cx="1120.0" cy="914.3" r="10.7" fill="#F8766D" fill-opacity="0.3" stroke="#F8766D" stroke-opacity="0.3" stroke-width="4"/>
<circle cx="1121.1" cy="918.9" r="10.7" fill="#F8766D" fill-opacity="0.3" stroke="#F8766D" stroke-opacity="0.3" stroke-width="4"/>
<circle cx="1137.1" cy="902.9" r="10.7" fill="#C77CFF" fill-opacity="0.3" stroke="#C77CFF" stroke-opacity="0.3" stroke-width="4"/>
<circle cx="1148.6" cy="893.7" r="10.7" fill="#C77CFF" fill-opacity="0.3" stroke="#C77CFF" stroke-opacity="0.3" stroke-width="4"/>
<circle cx="1155.4" cy="912.0" r="10.7" fill="#F8766D" fill-opacity="0.3" stroke="#F8766D" stroke-opacity="0.3" stroke-width="4"/>
<circle cx="1134.9" cy="886.9" r="10.7" fill="#C77CFF" fill-opacity="0.3" stroke="#C77CFF" stroke-opacity="0.3" stroke-width="4"/>
<circle cx="973.7" cy="923.4" r="10.7" fill="#C77CFF" fill-opacity="0.3" stroke="#C77CFF" stroke-opacity="0.3" stroke-width="4"/>
<circle cx="1000.0" cy="921.1" r="10.7" fill="#F8766D" fill-opacity="0.3" stroke="#F8766D" stroke-opacity="0.3" stroke-width="4"/>
<circle cx="1004.6" cy="933.7" r="10.7" fill="#C77CFF" fill-opacity="0.3" stroke="#C77CFF" stroke-opacity="0.3" stroke-width="4"/>
<circle cx="1016.0" cy="929.1" r="10.7" fill="#C77CFF" fill-opacity="0.3" stroke="#C77CFF" stroke-opacity="0.3" stroke-width="4"/>
<circle cx="1019.4" cy="929.1" r="10.7" fill="#7CAE00" fill-opacity="0.3" stroke="#7CAE00" stroke-opacity="0.3" stroke-width="4"/>
<circle cx="966.9" cy="944.0" r="10.7" fill="#F8766D" fill-opacity="0.3" stroke="#F8766D" stroke-opacity="0.3" stroke-width="4"/>
<circle cx="979.4" cy="938.3" r="10.7" fill="#F8766D" fill-opacity="0.3" stroke="#F8766D" stroke-opacity="0.3" stroke-width="4"/>
<circle cx="982.9" cy="937.1" r="10.7" fill="#F8766D" fill-opacity="0.3" stroke="#F8766D" stroke-opacity="0.3" stroke-width="4"/>
<circle cx="1025.1" cy="946.3" r="10.7" fill="#7CAE00" fill-opacity="0.3" stroke="#7CAE00" stroke-opacity="0.3" stroke-width="4"/>
<circle cx="1027.4" cy="948.6" r="10.7" fill="#C77CFF" fill-opacity="0.3" stroke="#C77CFF" stroke-opacity="0.3" stroke-width="4"/>
<circle cx="1049.1" cy="938.3" r="10.7" fill="#F8766D" fill-opacity="0.3" stroke="#F8766D" stroke-opacity="0.3" stroke-width="4"/>
<circle cx="1049.1" cy="937.1" r="10.7" fill="#7CAE00" fill-opacity="0.3" stroke="#7CAE00" stroke-opacity="0.3" stroke-width="4"/>
<circle cx="1057.1" cy="932.6" r="10.7" fill="#C77CFF" fill-opacity="0.3" stroke="#C77CFF" stroke-opacity="0.3" stroke-width="4"/>
<circle cx="1077.7" cy="941.7" r="10.7" fill="#7CAE00" fill-opacity="0.3" stroke="#7CAE00" stroke-opacity="0.3" stroke-width="4"/>
<circle cx="1084.6" cy="937.1" r="10.7" fill="#7CAE00" fill-opacity="0.3" stroke="#7CAE00" stroke-opacity="0.3" stroke-width="4"/>
<circle cx="1089.1" cy="938.3" r="10.7" fill="#7CAE00" fill-opacity="0.3" stroke="#7CAE00" stroke-opacity="0.3" stroke-width="4"/>
<circle cx="1102.9" cy="940.6" r="10.7" fill="#7CAE00" fill-opacity="0.3" stroke="#7CAE00" stroke-opacity="0.3" stroke-width="4"/>
<circle cx="1112.0" cy="950.9" r="10.7" fill="#F8766D" fill-opacity="0.3" stroke="#F8766D" stroke-opacity="0.3" stroke-width="4"/>
<circle cx="1109.7" cy="957.7" r="10.7" fill="#7CAE00" fill-opacity="0.3" stroke="#7CAE00" stroke-opacity="0.3" stroke-width="4"/>
<circle cx="1102.9" cy="966.9" r="10.7" fill="#F8766D" fill-opacity="0.3" stroke="#F8766D" stroke-opacity="0.3" stroke-width="4"/>
<circle cx="1080.0" cy="957.7" r="10.7" fill="#C77CFF" fill-opacity="0.3" stroke="#C77CFF" stroke-opacity="0.3" stroke-width="4"/>
<circle cx="1128.0" cy="936.0" r="10.7" fill="#C77CFF" fill-opacity="0.3" stroke="#C77CFF" stroke-opacity="0.3" stroke-width="4"/>
<circle cx="1144.0" cy="960.0" r="10.7" fill="#C77CFF" fill-opacity="0.3" stroke="#C77CFF" stroke-opacity="0.3" stroke-width="4"/>
<circle cx="1150.9" cy="969.1" r="10.7" fill="#7CAE00" fill-opacity="0.3" stroke="#7CAE00" stroke-opacity="0.3" stroke-width="4"/>
<circle cx="1146.3" cy="971.4" r="10.7" fill="#C77CFF" fill-opacity="0.3" stroke="#C77CFF" stroke-opacity="0.3" stroke-width="4"/>
<circle cx="1158.9" cy="948.6" r="10.7" fill="#C77CFF" fill-opacity="0.3" stroke="#C77CFF" stroke-opacity="0.3" stroke-width="4"/>
<circle cx="1157.7" cy="989.7" r="10.7" fill="#C77CFF" fill-opacity="0.3" stroke="#C77CFF" stroke-opacity="0.3" stroke-width="4"/>
<circle cx="989.7" cy="958.9" r="10.7" fill="#7CAE00" fill-opacity="0.3" stroke="#7CAE00" stroke-opacity="0.3" stroke-width="4"/>
<circle cx="1021.7" cy="964.6" r="10.7" fill="#F8766D" fill-opacity="0.3" stroke="#F8766D" stroke-opacity="0.3" stroke-width="4"/>
<circle cx="994.3" cy="976.0" r="10.7" fill="#F8766D" fill-opacity="0.3" stroke="#F8766D" stroke-opacity="0.3" stroke-width="4"/>
<circle cx="968.0" cy="985.1" r="10.7" fill="#C77CFF" fill-opacity="0.3" stroke="#C77CFF" stroke-opacity="0.3" stroke-width="4"/>
<circle cx="971.4" cy="996.6" r="10.7" fill="#F8766D" fill-opacity="0.3" stroke="#F8766D" stroke-opacity="0.3" stroke-width="4"/>
<circle cx="982.9" cy="996.6" r="10.7" fill="#F8766D" fill-opacity="0.3" stroke="#F8766D" stroke-opacity="0.3" stroke-width="4"/>
<circle cx="1077.7" cy="987.4" r="10.7" fill="#7CAE00" fill-opacity="0.3" stroke="#7CAE00" stroke-opacity="0.3" stroke-width="4"/>
<circle cx="1093.7" cy="1001.1" r="10.7" fill="#C77CFF" fill-opacity="0.3" stroke="#C77CFF" stroke-opacity="0.3" stroke-width="4"/>
<circle cx="962.3" cy="1014.9" r="10.7" fill="#F8766D" fill-opacity="0.3" stroke="#F8766D" stroke-opacity="0.3" stroke-width="4"/>
<circle cx="1013.7" cy="1012.6" r="10.7" fill="#7CAE00" fill-opacity="0.3" stroke="#7CAE00" stroke-opacity="0.3" stroke-width="4"/>
<circle cx="1002.3" cy="1026.3" r="10.7" fill="#F8766D" fill-opacity="0.3" stroke="#F8766D" stroke-opacity="0.3" stroke-width="4"/>
<circle cx="1037.7" cy="1014.9" r="10.7" fill="#F8766D" fill-opacity="0.3" stroke="#F8766D" stroke-opacity="0.3" stroke-width="4"/>
<circle cx="1037.7" cy="1032.0" r="10.7" fill="#F8766D" fill-opacity="0.3" stroke="#F8766D" stroke-opacity="0.3" stroke-width="4"/>
<circle cx="1044.6" cy="1040.0" r="10.7" fill="#F8766D" fill-opacity="0.3" stroke="#F8766D" stroke-opacity="0.3" stroke-width="4"/>
<circle cx="1056.0" cy="1043.4" r="10.7" fill="#7CAE00" fill-opacity="0.3" stroke="#7CAE00" stroke-opacity="0.3" stroke-width="4"/>
<circle cx="1064.0" cy="1018.3" r="10.7" fill="#C77CFF" fill-opacity="0.3" stroke="#C77CFF" stroke-opacity="0.3" stroke-width="4"/>
<circle cx="1083.4" cy="1025.1" r="10.7" fill="#F8766D" fill-opacity="0.3" stroke="#F8766D" stroke-opacity="0.3" stroke-width="4"/>
<circle cx="1105.1" cy="1024.0" r="10.7" fill="#F8766D" fill-opacity="0.3" stroke="#F8766D" stroke-opacity="0.3" stroke-width="4"/>
<circle cx="1113.1" cy="1010.3" r="10.7" fill="#F8766D" fill-opacity="0.3" stroke="#F8766D" stroke-opacity="0.3" stroke-width="4"/>
<circle cx="1131.4" cy="1012.6" r="10.7" fill="#C77CFF" fill-opacity="0.3" stroke="#C77CFF" stroke-opacity="0.3" stroke-width="4"/>
<circle cx="1139.4" cy="1006.9" r="10.7" fill="#C77CFF" fill-opacity="0.3" stroke="#C77CFF" stroke-opacity="0.3" stroke-width="4"/>
<circle cx="1134.9" cy="1028.6" r="10.7" fill="#F8766D" fill-opacity="0.3" stroke="#F8766D" stroke-opacity="0.3" stroke-width="4"/>
<circle cx="1115.4" cy="1041.1" r="10.7" fill="#F8766D" fill-opacity="0.3" stroke="#F8766D" stroke-opacity="0.3" stroke-width="4"/>
<circle cx="1137.1" cy="1026.3" r="10.7" fill="#F8766D" fill-opacity="0.3" stroke="#F8766D" stroke-opacity="0.3" stroke-width="4"/>
<circle cx="994.3" cy="1060.6" r="10.7" fill="#7CAE00" fill-opacity="0.3" stroke="#7CAE00" stroke-opacity="0.3" stroke-width="4"/>
<circle cx="976.0" cy="1080.0" r="10.7" fill="#F8766D" fill-opacity="0.3" stroke="#F8766D" stroke-opacity="0.3" stroke-width="4"/>
<circle cx="1010.3" cy="1091.4" r="10.7" fill="#F8766D" fill-opacity="0.3" stroke="#F8766D" stroke-opacity="0.3" stroke-width="4"/>
<circle cx="1082.3" cy="1062.9" r="10.7" fill="#F8766D" fill-opacity="0.3" stroke="#F8766D" stroke-opacity="0.3" stroke-width="4"/>
<circle cx="1083.4" cy="1067.4" r="10.7" fill="#C77CFF" fill-opacity="0.3" stroke="#C77CFF" stroke-opacity="0.3" stroke-width="4"/>
<circle cx="1042.3" cy="1113.1" r="10.7" fill="#7CAE00" fill-opacity="0.3" stroke="#7CAE00" stroke-opacity="0.3" stroke-width="4"/>
<circle cx="1169.1" cy="883.4" r="10.7" fill="#7CAE00" fill-opacity="0.3" stroke="#7CAE00" stroke-opacity="0.3" stroke-width="4"/>
<circle cx="1162.3" cy="907.4" r="10.7" fill="#C77CFF" fill-opacity="0.3" stroke="#C77CFF" stroke-opacity="0.3" stroke-width="4"/>
<circle cx="1171.4" cy="909.7" r="10.7" fill="#C77CFF" fill-opacity="0.3" stroke="#C77CFF" stroke-opacity="0.3" stroke-width="4"/>
<circle cx="1198.9" cy="889.1" r="10.7" fill="#C77CFF" fill-opacity="0.3" stroke="#C77CFF" stroke-opacity="0.3" stroke-width="4"/>
<circle cx="1196.6" cy="893.7" r="10.7" fill="#C77CFF" fill-opacity="0.3" stroke="#C77CFF" stroke-opacity="0.3" stroke-width="4"/>
<circle cx="1203.4" cy="889.1" r="10.7" fill="#00BFC4" fill-opacity="0.3" stroke="#00BFC4" stroke-opacity="0.3" stroke-width="4"/>
<circle cx="1217.1" cy="890.3" r="10.7" fill="#00BFC4" fill-opacity="0.3" stroke="#00BFC4" stroke-opacity="0.3" stroke-width="4"/>
<circle cx="1205.7" cy="898.3" r="10.7" fill="#C77CFF" fill-opacity="0.3" stroke="#C77CFF" stroke-opacity="0.3" stroke-width="4"/>
<circle cx="1212.6" cy="902.9" r="10.7" fill="#C77CFF" fill-opacity="0.3" stroke="#C77CFF" stroke-opacity="0.3" stroke-width="4"/>
<circle cx="1195.4" cy="912.0" r="10.7" fill="#F8766D" fill-opacity="0.3" stroke="#F8766D" stroke-opacity="0.3" stroke-width="4"/>
<circle cx="1197.7" cy="916.6" r="10.7" fill="#F8766D" fill-opacity="0.3" stroke="#F8766D" stroke-opacity="0.3" stroke-width="4"/>
<circle cx="1182.9" cy="923.4" r="10.7" fill="#F8766D" fill-opacity="0.3" stroke="#F8766D" stroke-opacity="0.3" stroke-width="4"/>
<circle cx="1221.7" cy="910.9" r="10.7" fill="#7CAE00" fill-opacity="0.3" stroke="#7CAE00" stroke-opacity="0.3" stroke-width="4"/>
<circle cx="1225.1" cy="912.0" r="10.7" fill="#7CAE00" fill-opacity="0.3" stroke="#7CAE00" stroke-opacity="0.3" stroke-width="4"/>
<circle cx="1196.6" cy="920.0" r="10.7" fill="#7CAE00" fill-opacity="0.3" stroke="#7CAE00" stroke-opacity="0.3" stroke-width="4"/>
<circle cx="1214.9" cy="932.6" r="10.7" fill="#C77CFF" fill-opacity="0.3" stroke="#C77CFF" stroke-opacity="0.3" stroke-width="4"/>
<circle cx="1210.3" cy="925.7" r="10.7" fill="#C77CFF" fill-opacity="0.3" stroke="#C77CFF" stroke-opacity="0.3" stroke-width="4"/>
<circle cx="1192.0" cy="941.7" r="10.7" fill="#C77CFF" fill-opacity="0.3" stroke="#C77CFF" stroke-opacity="0.3" stroke-width="4"/>
<circle cx="1211.4" cy="941.7" r="10.7" fill="#00BFC4" fill-opacity="0.3" stroke="#00BFC4" stroke-opacity="0.3" stroke-width="4"/>
<circle cx="1169.1" cy="947.4" r="10.7" fill="#7CAE00" fill-opacity="0.3" stroke="#7CAE00" stroke-opacity="0.3" stroke-width="4"/>
<circle cx="1165.7" cy="950.9" r="10.7" fill="#C77CFF" fill-opacity="0.3" stroke="#C77CFF" stroke-opacity="0.3" stroke-width="4"/>
<circle cx="1190.9" cy="961.8" r="10.7" fill="#7CAE00" fill-opacity="0.3" stroke="#7CAE00" stroke-opacity="0.3" stroke-width="4"/>
<circle cx="1171.4" cy="989.7" r="10.7" fill="#C77CFF" fill-opacity="0.3" stroke="#C77CFF" stroke-opacity="0.3" stroke-width="4"/>
<circle cx="1190.9" cy="984.0" r="10.7" fill="#F8766D" fill-opacity="0.3" stroke="#F8766D" stroke-opacity="0.3" stroke-width="4"/>
<circle cx="1206.9" cy="995.4" r="10.7" fill="#C77CFF" fill-opacity="0.3" stroke="#C77CFF" stroke-opacity="0.3" stroke-width="4"/>
<circle cx="1236.6" cy="984.0" r="10.7" fill="#7CAE00" fill-opacity="0.3" stroke="#7CAE00" stroke-opacity="0.3" stroke-width="4"/>
<circle cx="1235.4" cy="993.1" r="10.7" fill="#7CAE00" fill-opacity="0.3" stroke="#7CAE00" stroke-opacity="0.3" stroke-width="4"/>
<circle cx="1235.4" cy="1001.1" r="10.7" fill="#F8766D" fill-opacity="0.3" stroke="#F8766D" stroke-opacity="0.3" stroke-width="4"/>
<circle cx="1238.9" cy="1021.7" r="10.7" fill="#00BFC4" fill-opacity="0.3" stroke="#00BFC4" stroke-opacity="0.3" stroke-width="4"/>
<circle cx="1251.4" cy="1019.4" r="10.7" fill="#00BFC4" fill-opacity="0.3" stroke="#00BFC4" stroke-opacity="0.3" stroke-width="4"/>
<circle cx="1242.3" cy="920.0" r="10.7" fill="#C77CFF" fill-opacity="0.3" stroke="#C77CFF" stroke-opacity="0.3" stroke-width="4"/>
<circle cx="1250.3" cy="916.6" r="10.7" fill="#C77CFF" fill-opacity="0.3" stroke="#C77CFF" stroke-opacity="0.3" stroke-width="4"/>
<circle cx="1262.9" cy="922.3" r="10.7" fill="#C77CFF" fill-opacity="0.3" stroke="#C77CFF" stroke-opacity="0.3" stroke-width="4"/>
<circle cx="1265.1" cy="917.7" r="10.7" fill="#7CAE00" fill-opacity="0.3" stroke="#7CAE00" stroke-opacity="0.3" stroke-width="4"/>
<circle cx="1244.6" cy="886.9" r="10.7" fill="#C77CFF" fill-opacity="0.3" stroke="#C77CFF" stroke-opacity="0.3" stroke-width="4"/>
<circle cx="1233.1" cy="882.3" r="10.7" fill="#C77CFF" fill-opacity="0.3" stroke="#C77CFF" stroke-opacity="0.3" stroke-width="4"/>
<circle cx="1258.3" cy="892.6" r="10.7" fill="#00BFC4" fill-opacity="0.3" stroke="#00BFC4" stroke-opacity="0.3" stroke-width="4"/>
<circle cx="1252.6" cy="907.4" r="10.7" fill="#00BFC4" fill-opacity="0.3" stroke="#00BFC4" stroke-opacity="0.3" stroke-width="4"/>
<circle cx="1274.3" cy="897.1" r="10.7" fill="#00BFC4" fill-opacity="0.3" stroke="#00BFC4" stroke-opacity="0.3" stroke-width="4"/>
<circle cx="1300.6" cy="891.4" r="10.7" fill="#7CAE00" fill-opacity="0.3" stroke="#7CAE00" stroke-opacity="0.3" stroke-width="4"/>
<circle cx="1299.4" cy="889.1" r="10.7" fill="#7CAE00" fill-opacity="0.3" stroke="#7CAE00" stroke-opacity="0.3" stroke-width="4"/>
<circle cx="1283.4" cy="909.7" r="10.7" fill="#00BFC4" fill-opacity="0.3" stroke="#00BFC4" stroke-opacity="0.3" stroke-width="4"/>
<circle cx="1288.0" cy="916.6" r="10.7" fill="#00BFC4" fill-opacity="0.3" stroke="#00BFC4" stroke-opacity="0.3" stroke-width="4"/>
<circle cx="1299.4" cy="909.7" r="10.7" fill="#00BFC4" fill-opacity="0.3" stroke="#00BFC4" stroke-opacity="0.3" stroke-width="4"/>
<circle cx="1281.1" cy="905.1" r="10.7" fill="#00BFC4" fill-opacity="0.3" stroke="#00BFC4" stroke-opacity="0.3" stroke-width="4"/>
<circle cx="1316.6" cy="907.4" r="10.7" fill="#00BFC4" fill-opacity="0.3" stroke="#00BFC4" stroke-opacity="0.3" stroke-width="4"/>
<circle cx="1317.7" cy="908.6" r="10.7" fill="#C77CFF" fill-opacity="0.3" stroke="#C77CFF" stroke-opacity="0.3" stroke-width="4"/>
<circle cx="1322.3" cy="881.1" r="10.7" fill="#00BFC4" fill-opacity="0.3" stroke="#00BFC4" stroke-opacity="0.3" stroke-width="4"/>
<circle cx="1334.9" cy="882.3" r="10.7" fill="#00BFC4" fill-opacity="0.3" stroke="#00BFC4" stroke-opacity="0.3" stroke-width="4"/>
<circle cx="1273.1" cy="950.4" r="10.7" fill="#C77CFF" fill-opacity="0.3" stroke="#C77CFF" stroke-opacity="0.3" stroke-width="4"/>
<circle cx="1286.9" cy="992.0" r="10.7" fill="#C77CFF" fill-opacity="0.3" stroke="#C77CFF" stroke-opacity="0.3" stroke-width="4"/>
<circle cx="1338.3" cy="1008.0" r="10.7" fill="#00BFC4" fill-opacity="0.3" stroke="#00BFC4" stroke-opacity="0.3" stroke-width="4"/>
<circle cx="1289.1" cy="1041.1" r="10.7" fill="#00BFC4" fill-opacity="0.3" stroke="#00BFC4" stroke-opacity="0.3" stroke-width="4"/>
<circle cx="1203.0" cy="1057.8" r="10.7" fill="#7CAE00" fill-opacity="0.3" stroke="#7CAE00" stroke-opacity="0.3" stroke-width="4"/>
<circle cx="1290.3" cy="1067.9" r="10.7" fill="#C77CFF" fill-opacity="0.3" stroke="#C77CFF" stroke-opacity="0.3" stroke-width="4"/>
<circle cx="1179.4" cy="1085.7" r="10.7" fill="#F8766D" fill-opacity="0.3" stroke="#F8766D" stroke-opacity="0.3" stroke-width="4"/>
<circle cx="1172.6" cy="1100.6" r="10.7" fill="#F8766D" fill-opacity="0.3" stroke="#F8766D" stroke-opacity="0.3" stroke-width="4"/>
<circle cx="1193.1" cy="1105.1" r="10.7" fill="#00BFC4" fill-opacity="0.3" stroke="#00BFC4" stroke-opacity="0.3" stroke-width="4"/>
<circle cx="1214.9" cy="1119.5" r="10.7" fill="#00BFC4" fill-opacity="0.3" stroke="#00BFC4" stroke-opacity="0.3" stroke-width="4"/>
<circle cx="1395.4" cy="884.6" r="10.7" fill="#C77CFF" fill-opacity="0.3" stroke="#C77CFF" stroke-opacity="0.3" stroke-width="4"/>
<circle cx="1392.0" cy="892.6" r="10.7" fill="#00BFC4" fill-opacity="0.3" stroke="#00BFC4" stroke-opacity="0.3" stroke-width="4"/>
<circle cx="1373.7" cy="909.7" r="10.7" fill="#C77CFF" fill-opacity="0.3" stroke="#C77CFF" stroke-opacity="0.3" stroke-width="4"/>
<circle cx="1379.4" cy="907.4" r="10.7" fill="#C77CFF" fill-opacity="0.3" stroke="#C77CFF" stroke-opacity="0.3" stroke-width="4"/>
<circle cx="1371.4" cy="914.3" r="10.7" fill="#C77CFF" fill-opacity="0.3" stroke="#C77CFF" stroke-opacity="0.3" stroke-width="4"/>
<circle cx="1376.0" cy="923.4" r="10.7" fill="#00BFC4" fill-opacity="0.3" stroke="#00BFC4" stroke-opacity="0.3" stroke-width="4"/>
<circle cx="1354.3" cy="936.0" r="10.7" fill="#00BFC4" fill-opacity="0.3" stroke="#00BFC4" stroke-opacity="0.3" stroke-width="4"/>
<circle cx="1354.3" cy="945.1" r="10.7" fill="#00BFC4" fill-opacity="0.3" stroke="#00BFC4" stroke-opacity="0.3" stroke-width="4"/>
<circle cx="1355.4" cy="940.6" r="10.7" fill="#00BFC4" fill-opacity="0.3" stroke="#00BFC4" stroke-opacity="0.3" stroke-width="4"/>
<circle cx="1396.6" cy="932.6" r="10.7" fill="#00BFC4" fill-opacity="0.3" stroke="#00BFC4" stroke-opacity="0.3" stroke-width="4"/>
<circle cx="1406.9" cy="937.1" r="10.7" fill="#00BFC4" fill-opacity="0.3" stroke="#00BFC4" stroke-opacity="0.3" stroke-width="4"/>
<circle cx="1409.1" cy="939.4" r="10.7" fill="#00BFC4" fill-opacity="0.3" stroke="#00BFC4" stroke-opacity="0.3" stroke-width="4"/>
<circle cx="1411.4" cy="934.9" r="10.7" fill="#00BFC4" fill-opacity="0.3" stroke="#00BFC4" stroke-opacity="0.3" stroke-width="4"/>
<circle cx="1410.3" cy="941.7" r="10.7" fill="#00BFC4" fill-opacity="0.3" stroke="#00BFC4" stroke-opacity="0.3" stroke-width="4"/>
<circle cx="1416.0" cy="955.4" r="10.7" fill="#00BFC4" fill-opacity="0.3" stroke="#00BFC4" stroke-opacity="0.3" stroke-width="4"/>
<circle cx="1424.0" cy="914.3" r="10.7" fill="#00BFC4" fill-opacity="0.3" stroke="#00BFC4" stroke-opacity="0.3" stroke-width="4"/>
<circle cx="1437.7" cy="917.7" r="10.7" fill="#00BFC4" fill-opacity="0.3" stroke="#00BFC4" stroke-opacity="0.3" stroke-width="4"/>
<circle cx="1441.1" cy="900.6" r="10.7" fill="#00BFC4" fill-opacity="0.3" stroke="#00BFC4" stroke-opacity="0.3" stroke-width="4"/>
<circle cx="1461.7" cy="934.9" r="10.7" fill="#00BFC4" fill-opacity="0.3" stroke="#00BFC4" stroke-opacity="0.3" stroke-width="4"/>
<circle cx="1451.4" cy="947.4" r="10.7" fill="#00BFC4" fill-opacity="0.3" stroke="#00BFC4" stroke-opacity="0.3" stroke-width="4"/>
<circle cx="1451.4" cy="955.4" r="10.7" fill="#00BFC4" fill-opacity="0.3" stroke="#00BFC4" stroke-opacity="0.3" stroke-width="4"/>
<circle cx="1452.6" cy="950.9" r="10.7" fill="#00BFC4" fill-opacity="0.3" stroke="#00BFC4" stroke-opacity="0.3" stroke-width="4"/>
<circle cx="1389.7" cy="978.7" r="10.7" fill="#00BFC4" fill-opacity="0.3" stroke="#00BFC4" stroke-opacity="0.3" stroke-width="4"/>
<circle cx="1449.8" cy="1002.3" r="10.7" fill="#C77CFF" fill-opacity="0.3" stroke="#C77CFF" stroke-opacity="0.3" stroke-width="4"/>
<circle cx="1429.7" cy="1025.6" r="10.7" fill="#C77CFF" fill-opacity="0.3" stroke="#C77CFF" stroke-opacity="0.3" stroke-width="4"/>
<circle cx="1513.1" cy="1063.3" r="10.7" fill="#00BFC4" fill-opacity="0.3" stroke="#00BFC4" stroke-opacity="0.3" stroke-width="4"/>
<circle cx="783.1" cy="1149.4" r="10.7" fill="#F8766D" fill-opacity="0.3" stroke="#F8766D" stroke-opacity="0.3" stroke-width="4"/>
<circle cx="741.3" cy="873.4" r="10.7" fill="#7CAE00" fill-opacity="0.3" stroke="#7CAE00" stroke-opacity="0.3" stroke-width="4"/>
<circle cx="1097.1" cy="773.5" r="10.7" fill="#F8766D" fill-opacity="0.3" stroke="#F8766D" stroke-opacity="0.3" stroke-width="4"/>
<circle cx="1021.7" cy="811.7" r="10.7" fill="#C77CFF" fill-opacity="0.3" stroke="#C77CFF" stroke-opacity="0.3" stroke-width="4"/>
<circle cx="946.3" cy="822.5" r="10.7" fill="#7CAE00" fill-opacity="0.3" stroke="#7CAE00" stroke-opacity="0.3" stroke-width="4"/>
<circle cx="838.9" cy="836.4" r="10.7" fill="#C77CFF" fill-opacity="0.3" stroke="#C77CFF" stroke-opacity="0.3" stroke-width="4"/>
<circle cx="842.7" cy="849.9" r="10.7" fill="#C77CFF" fill-opacity="0.3" stroke="#C77CFF" stroke-opacity="0.3" stroke-width="4"/>
<circle cx="896.7" cy="855.1" r="10.7" fill="#7CAE00" fill-opacity="0.3" stroke="#7CAE00" stroke-opacity="0.3" stroke-width="4"/>
<circle cx="928.5" cy="848.3" r="10.7" fill="#7CAE00" fill-opacity="0.3" stroke="#7CAE00" stroke-opacity="0.3" stroke-width="4"/>
<circle cx="926.4" cy="862.0" r="10.7" fill="#7CAE00" fill-opacity="0.3" stroke="#7CAE00" stroke-opacity="0.3" stroke-width="4"/>
<circle cx="912.7" cy="868.9" r="10.7" fill="#7CAE00" fill-opacity="0.3" stroke="#7CAE00" stroke-opacity="0.3" stroke-width="4"/>
<circle cx="827.4" cy="870.0" r="10.7" fill="#C77CFF" fill-opacity="0.3" stroke="#C77CFF" stroke-opacity="0.3" stroke-width="4"/>
<circle cx="828.6" cy="872.3" r="10.7" fill="#7CAE00" fill-opacity="0.3" stroke="#7CAE00" stroke-opacity="0.3" stroke-width="4"/>
<circle cx="842.7" cy="874.6" r="10.7" fill="#C77CFF" fill-opacity="0.3" stroke="#C77CFF" stroke-opacity="0.3" stroke-width="4"/>
<circle cx="880.0" cy="875.7" r="10.7" fill="#C77CFF" fill-opacity="0.3" stroke="#C77CFF" stroke-opacity="0.3" stroke-width="4"/>
<circle cx="957.0" cy="858.6" r="10.7" fill="#7CAE00" fill-opacity="0.3" stroke="#7CAE00" stroke-opacity="0.3" stroke-width="4"/>
<circle cx="957.7" cy="865.4" r="10.7" fill="#7CAE00" fill-opacity="0.3" stroke="#7CAE00" stroke-opacity="0.3" stroke-width="4"/>
<circle cx="978.3" cy="849.4" r="10.7" fill="#7CAE00" fill-opacity="0.3" stroke="#7CAE00" stroke-opacity="0.3" stroke-width="4"/>
<circle cx="973.7" cy="852.9" r="10.7" fill="#7CAE00" fill-opacity="0.3" stroke="#7CAE00" stroke-opacity="0.3" stroke-width="4"/>
<circle cx="989.7" cy="833.4" r="10.7" fill="#C77CFF" fill-opacity="0.3" stroke="#C77CFF" stroke-opacity="0.3" stroke-width="4"/>
<circle cx="1000.0" cy="844.9" r="10.7" fill="#C77CFF" fill-opacity="0.3" stroke="#C77CFF" stroke-opacity="0.3" stroke-width="4"/>
<circle cx="993.1" cy="856.3" r="10.7" fill="#C77CFF" fill-opacity="0.3" stroke="#C77CFF" stroke-opacity="0.3" stroke-width="4"/>
<circle cx="995.4" cy="851.7" r="10.7" fill="#C77CFF" fill-opacity="0.3" stroke="#C77CFF" stroke-opacity="0.3" stroke-width="4"/>
<circle cx="997.7" cy="860.9" r="10.7" fill="#C77CFF" fill-opacity="0.3" stroke="#C77CFF" stroke-opacity="0.3" stroke-width="4"/>
<circle cx="1014.9" cy="842.6" r="10.7" fill="#7CAE00" fill-opacity="0.3" stroke="#7CAE00" stroke-opacity="0.3" stroke-width="4"/>
<circle cx="1017.1" cy="851.7" r="10.7" fill="#7CAE00" fill-opacity="0.3" stroke="#7CAE00" stroke-opacity="0.3" stroke-width="4"/>
<circle cx="1038.9" cy="832.3" r="10.7" fill="#7CAE00" fill-opacity="0.3" stroke="#7CAE00" stroke-opacity="0.3" stroke-width="4"/>
<circle cx="1030.9" cy="855.1" r="10.7" fill="#7CAE00" fill-opacity="0.3" stroke="#7CAE00" stroke-opacity="0.3" stroke-width="4"/>
<circle cx="1057.1" cy="828.9" r="10.7" fill="#C77CFF" fill-opacity="0.3" stroke="#C77CFF" stroke-opacity="0.3" stroke-width="4"/>
<circle cx="1054.9" cy="833.4" r="10.7" fill="#C77CFF" fill-opacity="0.3" stroke="#C77CFF" stroke-opacity="0.3" stroke-width="4"/>
<circle cx="1061.7" cy="824.3" r="10.7" fill="#C77CFF" fill-opacity="0.3" stroke="#C77CFF" stroke-opacity="0.3" stroke-width="4"/>
<circle cx="1077.7" cy="825.4" r="10.7" fill="#C77CFF" fill-opacity="0.3" stroke="#C77CFF" stroke-opacity="0.3" stroke-width="4"/>
<circle cx="1089.1" cy="824.3" r="10.7" fill="#C77CFF" fill-opacity="0.3" stroke="#C77CFF" stroke-opacity="0.3" stroke-width="4"/>
<circle cx="1091.4" cy="838.0" r="10.7" fill="#00BFC4" fill-opacity="0.3" stroke="#00BFC4" stroke-opacity="0.3" stroke-width="4"/>
<circle cx="1091.4" cy="833.4" r="10.7" fill="#C77CFF" fill-opacity="0.3" stroke="#C77CFF" stroke-opacity="0.3" stroke-width="4"/>
<circle cx="1102.9" cy="836.9" r="10.7" fill="#C77CFF" fill-opacity="0.3" stroke="#C77CFF" stroke-opacity="0.3" stroke-width="4"/>
<circle cx="1070.9" cy="834.6" r="10.7" fill="#7CAE00" fill-opacity="0.3" stroke="#7CAE00" stroke-opacity="0.3" stroke-width="4"/>
<circle cx="1041.1" cy="852.9" r="10.7" fill="#C77CFF" fill-opacity="0.3" stroke="#C77CFF" stroke-opacity="0.3" stroke-width="4"/>
<circle cx="1050.3" cy="860.9" r="10.7" fill="#7CAE00" fill-opacity="0.3" stroke="#7CAE00" stroke-opacity="0.3" stroke-width="4"/>
<circle cx="1054.9" cy="865.4" r="10.7" fill="#7CAE00" fill-opacity="0.3" stroke="#7CAE00" stroke-opacity="0.3" stroke-width="4"/>
<circle cx="1064.0" cy="867.7" r="10.7" fill="#C77CFF" fill-opacity="0.3" stroke="#C77CFF" stroke-opacity="0.3" stroke-width="4"/>
<circle cx="1048.0" cy="851.7" r="10.7" fill="#7CAE00" fill-opacity="0.3" stroke="#7CAE00" stroke-opacity="0.3" stroke-width="4"/>
<circle cx="1080.0" cy="852.9" r="10.7" fill="#7CAE00" fill-opacity="0.3" stroke="#7CAE00" stroke-opacity="0.3" stroke-width="4"/>
<circle cx="1084.6" cy="849.4" r="10.7" fill="#C77CFF" fill-opacity="0.3" stroke="#C77CFF" stroke-opacity="0.3" stroke-width="4"/>
<circle cx="1089.1" cy="858.6" r="10.7" fill="#C77CFF" fill-opacity="0.3" stroke="#C77CFF" stroke-opacity="0.3" stroke-width="4"/>
<circle cx="1137.1" cy="863.1" r="10.7" fill="#F8766D" fill-opacity="0.3" stroke="#F8766D" stroke-opacity="0.3" stroke-width="4"/>
<circle cx="1137.1" cy="865.4" r="10.7" fill="#C77CFF" fill-opacity="0.3" stroke="#C77CFF" stroke-opacity="0.3" stroke-width="4"/>
<circle cx="1114.3" cy="818.6" r="10.7" fill="#7CAE00" fill-opacity="0.3" stroke="#7CAE00" stroke-opacity="0.3" stroke-width="4"/>
<circle cx="1123.4" cy="812.9" r="10.7" fill="#7CAE00" fill-opacity="0.3" stroke="#7CAE00" stroke-opacity="0.3" stroke-width="4"/>
<circle cx="1125.7" cy="810.6" r="10.7" fill="#7CAE00" fill-opacity="0.3" stroke="#7CAE00" stroke-opacity="0.3" stroke-width="4"/>
<circle cx="1139.4" cy="806.0" r="10.7" fill="#C77CFF" fill-opacity="0.3" stroke="#C77CFF" stroke-opacity="0.3" stroke-width="4"/>
<circle cx="1153.1" cy="803.7" r="10.7" fill="#C77CFF" fill-opacity="0.3" stroke="#C77CFF" stroke-opacity="0.3" stroke-width="4"/>
<circle cx="1157.7" cy="806.0" r="10.7" fill="#C77CFF" fill-opacity="0.3" stroke="#C77CFF" stroke-opacity="0.3" stroke-width="4"/>
<circle cx="1125.7" cy="840.3" r="10.7" fill="#C77CFF" fill-opacity="0.3" stroke="#C77CFF" stroke-opacity="0.3" stroke-width="4"/>
<circle cx="1145.1" cy="828.9" r="10.7" fill="#C77CFF" fill-opacity="0.3" stroke="#C77CFF" stroke-opacity="0.3" stroke-width="4"/>
<circle cx="1153.1" cy="840.3" r="10.7" fill="#C77CFF" fill-opacity="0.3" stroke="#C77CFF" stroke-opacity="0.3" stroke-width="4"/>
<circle cx="1130.3" cy="844.9" r="10.7" fill="#7CAE00" fill-opacity="0.3" stroke="#7CAE00" stroke-opacity="0.3" stroke-width="4"/>
<circle cx="1112.0" cy="866.6" r="10.7" fill="#7CAE00" fill-opacity="0.3" stroke="#7CAE00" stroke-opacity="0.3" stroke-width="4"/>
<circle cx="1153.1" cy="863.1" r="10.7" fill="#7CAE00" fill-opacity="0.3" stroke="#7CAE00" stroke-opacity="0.3" stroke-width="4"/>
<circle cx="976.0" cy="875.7" r="10.7" fill="#F8766D" fill-opacity="0.3" stroke="#F8766D" stroke-opacity="0.3" stroke-width="4"/>
<circle cx="1034.3" cy="872.3" r="10.7" fill="#7CAE00" fill-opacity="0.3" stroke="#7CAE00" stroke-opacity="0.3" stroke-width="4"/>
<circle cx="1086.9" cy="870.0" r="10.7" fill="#F8766D" fill-opacity="0.3" stroke="#F8766D" stroke-opacity="0.3" stroke-width="4"/>
<circle cx="1368.0" cy="730.1" r="10.7" fill="#00BFC4" fill-opacity="0.3" stroke="#00BFC4" stroke-opacity="0.3" stroke-width="4"/>
<circle cx="1396.6" cy="719.1" r="10.7" fill="#00BFC4" fill-opacity="0.3" stroke="#00BFC4" stroke-opacity="0.3" stroke-width="4"/>
<circle cx="1397.7" cy="727.1" r="10.7" fill="#7CAE00" fill-opacity="0.3" stroke="#7CAE00" stroke-opacity="0.3" stroke-width="4"/>
<circle cx="1414.2" cy="716.9" r="10.7" fill="#00BFC4" fill-opacity="0.3" stroke="#00BFC4" stroke-opacity="0.3" stroke-width="4"/>
<circle cx="1531.4" cy="712.7" r="10.7" fill="#7CAE00" fill-opacity="0.3" stroke="#7CAE00" stroke-opacity="0.3" stroke-width="4"/>
<circle cx="1523.4" cy="739.3" r="10.7" fill="#00BFC4" fill-opacity="0.3" stroke="#00BFC4" stroke-opacity="0.3" stroke-width="4"/>
<circle cx="1249.1" cy="774.5" r="10.7" fill="#00BFC4" fill-opacity="0.3" stroke="#00BFC4" stroke-opacity="0.3" stroke-width="4"/>
<circle cx="1330.3" cy="753.4" r="10.7" fill="#C77CFF" fill-opacity="0.3" stroke="#C77CFF" stroke-opacity="0.3" stroke-width="4"/>
<circle cx="1352.7" cy="755.7" r="10.7" fill="#00BFC4" fill-opacity="0.3" stroke="#00BFC4" stroke-opacity="0.3" stroke-width="4"/>
<circle cx="1284.6" cy="767.1" r="10.7" fill="#C77CFF" fill-opacity="0.3" stroke="#C77CFF" stroke-opacity="0.3" stroke-width="4"/>
<circle cx="1280.7" cy="774.5" r="10.7" fill="#7CAE00" fill-opacity="0.3" stroke="#7CAE00" stroke-opacity="0.3" stroke-width="4"/>
<circle cx="1294.9" cy="769.4" r="10.7" fill="#7CAE00" fill-opacity="0.3" stroke="#7CAE00" stroke-opacity="0.3" stroke-width="4"/>
<circle cx="1409.6" cy="754.6" r="10.7" fill="#00BFC4" fill-opacity="0.3" stroke="#00BFC4" stroke-opacity="0.3" stroke-width="4"/>
<circle cx="1402.3" cy="763.7" r="10.7" fill="#C77CFF" fill-opacity="0.3" stroke="#C77CFF" stroke-opacity="0.3" stroke-width="4"/>
<circle cx="1441.1" cy="762.6" r="10.7" fill="#00BFC4" fill-opacity="0.3" stroke="#00BFC4" stroke-opacity="0.3" stroke-width="4"/>
<circle cx="1456.0" cy="759.1" r="10.7" fill="#00BFC4" fill-opacity="0.3" stroke="#00BFC4" stroke-opacity="0.3" stroke-width="4"/>
<circle cx="1477.7" cy="747.7" r="10.7" fill="#00BFC4" fill-opacity="0.3" stroke="#00BFC4" stroke-opacity="0.3" stroke-width="4"/>
<circle cx="1484.6" cy="762.6" r="10.7" fill="#00BFC4" fill-opacity="0.3" stroke="#00BFC4" stroke-opacity="0.3" stroke-width="4"/>
<circle cx="1497.1" cy="760.3" r="10.7" fill="#00BFC4" fill-opacity="0.3" stroke="#00BFC4" stroke-opacity="0.3" stroke-width="4"/>
<circle cx="1500.6" cy="769.4" r="10.7" fill="#00BFC4" fill-opacity="0.3" stroke="#00BFC4" stroke-opacity="0.3" stroke-width="4"/>
<circle cx="1520.0" cy="768.3" r="10.7" fill="#C77CFF" fill-opacity="0.3" stroke="#C77CFF" stroke-opacity="0.3" stroke-width="4"/>
<circle cx="1539.4" cy="776.3" r="10.7" fill="#C77CFF" fill-opacity="0.3" stroke="#C77CFF" stroke-opacity="0.3" stroke-width="4"/>
<circle cx="1556.6" cy="769.4" r="10.7" fill="#00BFC4" fill-opacity="0.3" stroke="#00BFC4" stroke-opacity="0.3" stroke-width="4"/>
<circle cx="1421.7" cy="764.9" r="10.7" fill="#00BFC4" fill-opacity="0.3" stroke="#00BFC4" stroke-opacity="0.3" stroke-width="4"/>
<circle cx="1420.6" cy="774.0" r="10.7" fill="#00BFC4" fill-opacity="0.3" stroke="#00BFC4" stroke-opacity="0.3" stroke-width="4"/>
<circle cx="1422.9" cy="778.6" r="10.7" fill="#00BFC4" fill-opacity="0.3" stroke="#00BFC4" stroke-opacity="0.3" stroke-width="4"/>
<circle cx="1440.0" cy="779.7" r="10.7" fill="#C77CFF" fill-opacity="0.3" stroke="#C77CFF" stroke-opacity="0.3" stroke-width="4"/>
<circle cx="1390.9" cy="772.9" r="10.7" fill="#00BFC4" fill-opacity="0.3" stroke="#00BFC4" stroke-opacity="0.3" stroke-width="4"/>
<circle cx="1390.9" cy="778.6" r="10.7" fill="#C77CFF" fill-opacity="0.3" stroke="#C77CFF" stroke-opacity="0.3" stroke-width="4"/>
<circle cx="1384.0" cy="776.3" r="10.7" fill="#00BFC4" fill-opacity="0.3" stroke="#00BFC4" stroke-opacity="0.3" stroke-width="4"/>
<circle cx="1361.1" cy="780.9" r="10.7" fill="#00BFC4" fill-opacity="0.3" stroke="#00BFC4" stroke-opacity="0.3" stroke-width="4"/>
<circle cx="1368.0" cy="785.4" r="10.7" fill="#00BFC4" fill-opacity="0.3" stroke="#00BFC4" stroke-opacity="0.3" stroke-width="4"/>
<circle cx="1365.7" cy="790.0" r="10.7" fill="#00BFC4" fill-opacity="0.3" stroke="#00BFC4" stroke-opacity="0.3" stroke-width="4"/>
<circle cx="1336.0" cy="774.0" r="10.7" fill="#00BFC4" fill-opacity="0.3" stroke="#00BFC4" stroke-opacity="0.3" stroke-width="4"/>
<circle cx="1320.0" cy="783.1" r="10.7" fill="#00BFC4" fill-opacity="0.3" stroke="#00BFC4" stroke-opacity="0.3" stroke-width="4"/>
<circle cx="1304.0" cy="780.9" r="10.7" fill="#00BFC4" fill-opacity="0.3" stroke="#00BFC4" stroke-opacity="0.3" stroke-width="4"/>
<circle cx="1299.4" cy="776.3" r="10.7" fill="#00BFC4" fill-opacity="0.3" stroke="#00BFC4" stroke-opacity="0.3" stroke-width="4"/>
<circle cx="1317.7" cy="792.3" r="10.7" fill="#00BFC4" fill-opacity="0.3" stroke="#00BFC4" stroke-opacity="0.3" stroke-width="4"/>
<circle cx="1326.9" cy="799.1" r="10.7" fill="#00BFC4" fill-opacity="0.3" stroke="#00BFC4" stroke-opacity="0.3" stroke-width="4"/>
<circle cx="1347.4" cy="790.0" r="10.7" fill="#C77CFF" fill-opacity="0.3" stroke="#C77CFF" stroke-opacity="0.3" stroke-width="4"/>
<circle cx="1349.7" cy="794.6" r="10.7" fill="#C77CFF" fill-opacity="0.3" stroke="#C77CFF" stroke-opacity="0.3" stroke-width="4"/>
<circle cx="1392.0" cy="796.9" r="10.7" fill="#7CAE00" fill-opacity="0.3" stroke="#7CAE00" stroke-opacity="0.3" stroke-width="4"/>
<circle cx="1388.6" cy="794.6" r="10.7" fill="#7CAE00" fill-opacity="0.3" stroke="#7CAE00" stroke-opacity="0.3" stroke-width="4"/>
<circle cx="1377.1" cy="790.0" r="10.7" fill="#00BFC4" fill-opacity="0.3" stroke="#00BFC4" stroke-opacity="0.3" stroke-width="4"/>
<circle cx="1418.3" cy="793.4" r="10.7" fill="#C77CFF" fill-opacity="0.3" stroke="#C77CFF" stroke-opacity="0.3" stroke-width="4"/>
<circle cx="1411.4" cy="790.0" r="10.7" fill="#00BFC4" fill-opacity="0.3" stroke="#00BFC4" stroke-opacity="0.3" stroke-width="4"/>
<circle cx="1427.4" cy="796.9" r="10.7" fill="#00BFC4" fill-opacity="0.3" stroke="#00BFC4" stroke-opacity="0.3" stroke-width="4"/>
<circle cx="1427.4" cy="787.7" r="10.7" fill="#00BFC4" fill-opacity="0.3" stroke="#00BFC4" stroke-opacity="0.3" stroke-width="4"/>
<circle cx="1468.6" cy="778.6" r="10.7" fill="#00BFC4" fill-opacity="0.3" stroke="#00BFC4" stroke-opacity="0.3" stroke-width="4"/>
<circle cx="1480.0" cy="785.4" r="10.7" fill="#00BFC4" fill-opacity="0.3" stroke="#00BFC4" stroke-opacity="0.3" stroke-width="4"/>
<circle cx="1484.6" cy="790.0" r="10.7" fill="#00BFC4" fill-opacity="0.3" stroke="#00BFC4" stroke-opacity="0.3" stroke-width="4"/>
<circle cx="1489.1" cy="783.1" r="10.7" fill="#00BFC4" fill-opacity="0.3" stroke="#00BFC4" stroke-opacity="0.3" stroke-width="4"/>
<circle cx="1482.3" cy="799.1" r="10.7" fill="#00BFC4" fill-opacity="0.3" stroke="#00BFC4" stroke-opacity="0.3" stroke-width="4"/>
<circle cx="1507.4" cy="787.7" r="10.7" fill="#00BFC4" fill-opacity="0.3" stroke="#00BFC4" stroke-opacity="0.3" stroke-width="4"/>
<circle cx="1506.3" cy="803.7" r="10.7" fill="#00BFC4" fill-opacity="0.3" stroke="#00BFC4" stroke-opacity="0.3" stroke-width="4"/>
<circle cx="1531.4" cy="794.6" r="10.7" fill="#00BFC4" fill-opacity="0.3" stroke="#00BFC4" stroke-opacity="0.3" stroke-width="4"/>
<circle cx="1532.6" cy="787.7" r="10.7" fill="#00BFC4" fill-opacity="0.3" stroke="#00BFC4" stroke-opacity="0.3" stroke-width="4"/>
<circle cx="1458.3" cy="806.0" r="10.7" fill="#C77CFF" fill-opacity="0.3" stroke="#C77CFF" stroke-opacity="0.3" stroke-width="4"/>
<circle cx="1464.0" cy="803.7" r="10.7" fill="#00BFC4" fill-opacity="0.3" stroke="#00BFC4" stroke-opacity="0.3" stroke-width="4"/>
<circle cx="1557.7" cy="801.4" r="10.7" fill="#C77CFF" fill-opacity="0.3" stroke="#C77CFF" stroke-opacity="0.3" stroke-width="4"/>
<circle cx="1550.9" cy="801.4" r="10.7" fill="#00BFC4" fill-opacity="0.3" stroke="#00BFC4" stroke-opacity="0.3" stroke-width="4"/>
<circle cx="1164.6" cy="806.0" r="10.7" fill="#7CAE00" fill-opacity="0.3" stroke="#7CAE00" stroke-opacity="0.3" stroke-width="4"/>
<circle cx="1160.0" cy="806.0" r="10.7" fill="#C77CFF" fill-opacity="0.3" stroke="#C77CFF" stroke-opacity="0.3" stroke-width="4"/>
<circle cx="1192.0" cy="793.4" r="10.7" fill="#C77CFF" fill-opacity="0.3" stroke="#C77CFF" stroke-opacity="0.3" stroke-width="4"/>
<circle cx="1196.6" cy="798.0" r="10.7" fill="#7CAE00" fill-opacity="0.3" stroke="#7CAE00" stroke-opacity="0.3" stroke-width="4"/>
<circle cx="1202.3" cy="803.7" r="10.7" fill="#7CAE00" fill-opacity="0.3" stroke="#7CAE00" stroke-opacity="0.3" stroke-width="4"/>
<circle cx="1205.7" cy="801.4" r="10.7" fill="#7CAE00" fill-opacity="0.3" stroke="#7CAE00" stroke-opacity="0.3" stroke-width="4"/>
<circle cx="1224.0" cy="787.7" r="10.7" fill="#C77CFF" fill-opacity="0.3" stroke="#C77CFF" stroke-opacity="0.3" stroke-width="4"/>
<circle cx="1225.1" cy="793.4" r="10.7" fill="#7CAE00" fill-opacity="0.3" stroke="#7CAE00" stroke-opacity="0.3" stroke-width="4"/>
<circle cx="1241.1" cy="796.9" r="10.7" fill="#7CAE00" fill-opacity="0.3" stroke="#7CAE00" stroke-opacity="0.3" stroke-width="4"/>
<circle cx="1244.6" cy="803.7" r="10.7" fill="#7CAE00" fill-opacity="0.3" stroke="#7CAE00" stroke-opacity="0.3" stroke-width="4"/>
<circle cx="1237.7" cy="801.4" r="10.7" fill="#7CAE00" fill-opacity="0.3" stroke="#7CAE00" stroke-opacity="0.3" stroke-width="4"/>
<circle cx="1267.4" cy="796.9" r="10.7" fill="#C77CFF" fill-opacity="0.3" stroke="#C77CFF" stroke-opacity="0.3" stroke-width="4"/>
<circle cx="1272.0" cy="801.4" r="10.7" fill="#C77CFF" fill-opacity="0.3" stroke="#C77CFF" stroke-opacity="0.3" stroke-width="4"/>
<circle cx="1288.0" cy="796.9" r="10.7" fill="#C77CFF" fill-opacity="0.3" stroke="#C77CFF" stroke-opacity="0.3" stroke-width="4"/>
<circle cx="1300.6" cy="810.6" r="10.7" fill="#7CAE00" fill-opacity="0.3" stroke="#7CAE00" stroke-opacity="0.3" stroke-width="4"/>
<circle cx="1269.7" cy="822.0" r="10.7" fill="#C77CFF" fill-opacity="0.3" stroke="#C77CFF" stroke-opacity="0.3" stroke-width="4"/>
<circle cx="1262.9" cy="819.7" r="10.7" fill="#00BFC4" fill-opacity="0.3" stroke="#00BFC4" stroke-opacity="0.3" stroke-width="4"/>
<circle cx="1251.4" cy="826.6" r="10.7" fill="#00BFC4" fill-opacity="0.3" stroke="#00BFC4" stroke-opacity="0.3" stroke-width="4"/>
<circle cx="1246.9" cy="822.0" r="10.7" fill="#7CAE00" fill-opacity="0.3" stroke="#7CAE00" stroke-opacity="0.3" stroke-width="4"/>
<circle cx="1238.9" cy="831.1" r="10.7" fill="#7CAE00" fill-opacity="0.3" stroke="#7CAE00" stroke-opacity="0.3" stroke-width="4"/>
<circle cx="1233.1" cy="826.6" r="10.7" fill="#7CAE00" fill-opacity="0.3" stroke="#7CAE00" stroke-opacity="0.3" stroke-width="4"/>
<circle cx="1226.3" cy="833.4" r="10.7" fill="#7CAE00" fill-opacity="0.3" stroke="#7CAE00" stroke-opacity="0.3" stroke-width="4"/>
<circle cx="1203.4" cy="826.6" r="10.7" fill="#C77CFF" fill-opacity="0.3" stroke="#C77CFF" stroke-opacity="0.3" stroke-width="4"/>
<circle cx="1217.1" cy="812.9" r="10.7" fill="#C77CFF" fill-opacity="0.3" stroke="#C77CFF" stroke-opacity="0.3" stroke-width="4"/>
<circle cx="1198.9" cy="824.3" r="10.7" fill="#00BFC4" fill-opacity="0.3" stroke="#00BFC4" stroke-opacity="0.3" stroke-width="4"/>
<circle cx="1178.3" cy="817.4" r="10.7" fill="#C77CFF" fill-opacity="0.3" stroke="#C77CFF" stroke-opacity="0.3" stroke-width="4"/>
<circle cx="1166.9" cy="826.6" r="10.7" fill="#C77CFF" fill-opacity="0.3" stroke="#C77CFF" stroke-opacity="0.3" stroke-width="4"/>
<circle cx="1169.1" cy="835.7" r="10.7" fill="#C77CFF" fill-opacity="0.3" stroke="#C77CFF" stroke-opacity="0.3" stroke-width="4"/>
<circle cx="1163.4" cy="844.9" r="10.7" fill="#C77CFF" fill-opacity="0.3" stroke="#C77CFF" stroke-opacity="0.3" stroke-width="4"/>
<circle cx="1171.4" cy="854.0" r="10.7" fill="#C77CFF" fill-opacity="0.3" stroke="#C77CFF" stroke-opacity="0.3" stroke-width="4"/>
<circle cx="1173.7" cy="838.0" r="10.7" fill="#7CAE00" fill-opacity="0.3" stroke="#7CAE00" stroke-opacity="0.3" stroke-width="4"/>
<circle cx="1164.6" cy="863.1" r="10.7" fill="#7CAE00" fill-opacity="0.3" stroke="#7CAE00" stroke-opacity="0.3" stroke-width="4"/>
<circle cx="1203.4" cy="844.9" r="10.7" fill="#C77CFF" fill-opacity="0.3" stroke="#C77CFF" stroke-opacity="0.3" stroke-width="4"/>
<circle cx="1212.6" cy="849.4" r="10.7" fill="#C77CFF" fill-opacity="0.3" stroke="#C77CFF" stroke-opacity="0.3" stroke-width="4"/>
<circle cx="1194.3" cy="863.1" r="10.7" fill="#C77CFF" fill-opacity="0.3" stroke="#C77CFF" stroke-opacity="0.3" stroke-width="4"/>
<circle cx="1210.3" cy="860.9" r="10.7" fill="#C77CFF" fill-opacity="0.3" stroke="#C77CFF" stroke-opacity="0.3" stroke-width="4"/>
<circle cx="1219.4" cy="863.1" r="10.7" fill="#C77CFF" fill-opacity="0.3" stroke="#C77CFF" stroke-opacity="0.3" stroke-width="4"/>
<circle cx="1226.3" cy="860.9" r="10.7" fill="#7CAE00" fill-opacity="0.3" stroke="#7CAE00" stroke-opacity="0.3" stroke-width="4"/>
<circle cx="1182.9" cy="828.9" r="10.7" fill="#C77CFF" fill-opacity="0.3" stroke="#C77CFF" stroke-opacity="0.3" stroke-width="4"/>
<circle cx="1246.9" cy="851.7" r="10.7" fill="#7CAE00" fill-opacity="0.3" stroke="#7CAE00" stroke-opacity="0.3" stroke-width="4"/>
<circle cx="1267.4" cy="844.9" r="10.7" fill="#7CAE00" fill-opacity="0.3" stroke="#7CAE00" stroke-opacity="0.3" stroke-width="4"/>
<circle cx="1274.3" cy="842.6" r="10.7" fill="#C77CFF" fill-opacity="0.3" stroke="#C77CFF" stroke-opacity="0.3" stroke-width="4"/>
<circle cx="1256.0" cy="849.4" r="10.7" fill="#7CAE00" fill-opacity="0.3" stroke="#7CAE00" stroke-opacity="0.3" stroke-width="4"/>
<circle cx="1246.9" cy="867.7" r="10.7" fill="#00BFC4" fill-opacity="0.3" stroke="#00BFC4" stroke-opacity="0.3" stroke-width="4"/>
<circle cx="1249.1" cy="874.6" r="10.7" fill="#C77CFF" fill-opacity="0.3" stroke="#C77CFF" stroke-opacity="0.3" stroke-width="4"/>
<circle cx="1278.9" cy="863.1" r="10.7" fill="#00BFC4" fill-opacity="0.3" stroke="#00BFC4" stroke-opacity="0.3" stroke-width="4"/>
<circle cx="1288.0" cy="860.9" r="10.7" fill="#00BFC4" fill-opacity="0.3" stroke="#00BFC4" stroke-opacity="0.3" stroke-width="4"/>
<circle cx="1306.3" cy="844.9" r="10.7" fill="#00BFC4" fill-opacity="0.3" stroke="#00BFC4" stroke-opacity="0.3" stroke-width="4"/>
<circle cx="1297.1" cy="840.3" r="10.7" fill="#00BFC4" fill-opacity="0.3" stroke="#00BFC4" stroke-opacity="0.3" stroke-width="4"/>
<circle cx="1310.9" cy="828.9" r="10.7" fill="#00BFC4" fill-opacity="0.3" stroke="#00BFC4" stroke-opacity="0.3" stroke-width="4"/>
<circle cx="1329.1" cy="808.3" r="10.7" fill="#00BFC4" fill-opacity="0.3" stroke="#00BFC4" stroke-opacity="0.3" stroke-width="4"/>
<circle cx="1329.1" cy="812.9" r="10.7" fill="#C77CFF" fill-opacity="0.3" stroke="#C77CFF" stroke-opacity="0.3" stroke-width="4"/>
<circle cx="1342.9" cy="810.6" r="10.7" fill="#00BFC4" fill-opacity="0.3" stroke="#00BFC4" stroke-opacity="0.3" stroke-width="4"/>
<circle cx="1338.3" cy="819.7" r="10.7" fill="#C77CFF" fill-opacity="0.3" stroke="#C77CFF" stroke-opacity="0.3" stroke-width="4"/>
<circle cx="1352.0" cy="806.0" r="10.7" fill="#00BFC4" fill-opacity="0.3" stroke="#00BFC4" stroke-opacity="0.3" stroke-width="4"/>
<circle cx="1352.0" cy="831.1" r="10.7" fill="#C77CFF" fill-opacity="0.3" stroke="#C77CFF" stroke-opacity="0.3" stroke-width="4"/>
<circle cx="1370.3" cy="826.6" r="10.7" fill="#C77CFF" fill-opacity="0.3" stroke="#C77CFF" stroke-opacity="0.3" stroke-width="4"/>
<circle cx="1361.1" cy="826.6" r="10.7" fill="#00BFC4" fill-opacity="0.3" stroke="#00BFC4" stroke-opacity="0.3" stroke-width="4"/>
<circle cx="1349.7" cy="835.7" r="10.7" fill="#C77CFF" fill-opacity="0.3" stroke="#C77CFF" stroke-opacity="0.3" stroke-width="4"/>
<circle cx="1333.7" cy="842.6" r="10.7" fill="#00BFC4" fill-opacity="0.3" stroke="#00BFC4" stroke-opacity="0.3" stroke-width="4"/>
<circle cx="1345.1" cy="842.6" r="10.7" fill="#00BFC4" fill-opacity="0.3" stroke="#00BFC4" stroke-opacity="0.3" stroke-width="4"/>
<circle cx="1374.9" cy="808.3" r="10.7" fill="#00BFC4" fill-opacity="0.3" stroke="#00BFC4" stroke-opacity="0.3" stroke-width="4"/>
<circle cx="1388.6" cy="810.6" r="10.7" fill="#00BFC4" fill-opacity="0.3" stroke="#00BFC4" stroke-opacity="0.3" stroke-width="4"/>
<circle cx="1400.0" cy="819.7" r="10.7" fill="#00BFC4" fill-opacity="0.3" stroke="#00BFC4" stroke-opacity="0.3" stroke-width="4"/>
<circle cx="1418.3" cy="810.6" r="10.7" fill="#00BFC4" fill-opacity="0.3" stroke="#00BFC4" stroke-opacity="0.3" stroke-width="4"/>
<circle cx="1436.6" cy="819.7" r="10.7" fill="#00BFC4" fill-opacity="0.3" stroke="#00BFC4" stroke-opacity="0.3" stroke-width="4"/>
<circle cx="1434.3" cy="826.6" r="10.7" fill="#00BFC4" fill-opacity="0.3" stroke="#00BFC4" stroke-opacity="0.3" stroke-width="4"/>
<circle cx="1396.6" cy="840.3" r="10.7" fill="#7CAE00" fill-opacity="0.3" stroke="#7CAE00" stroke-opacity="0.3" stroke-width="4"/>
<circle cx="1382.9" cy="849.4" r="10.7" fill="#00BFC4" fill-opacity="0.3" stroke="#00BFC4" stroke-opacity="0.3" stroke-width="4"/>
<circle cx="1379.4" cy="865.4" r="10.7" fill="#00BFC4" fill-opacity="0.3" stroke="#00BFC4" stroke-opacity="0.3" stroke-width="4"/>
<circle cx="1381.7" cy="858.6" r="10.7" fill="#00BFC4" fill-opacity="0.3" stroke="#00BFC4" stroke-opacity="0.3" stroke-width="4"/>
<circle cx="1422.9" cy="842.6" r="10.7" fill="#7CAE00" fill-opacity="0.3" stroke="#7CAE00" stroke-opacity="0.3" stroke-width="4"/>
<circle cx="1418.3" cy="851.7" r="10.7" fill="#00BFC4" fill-opacity="0.3" stroke="#00BFC4" stroke-opacity="0.3" stroke-width="4"/>
<circle cx="1427.4" cy="856.3" r="10.7" fill="#00BFC4" fill-opacity="0.3" stroke="#00BFC4" stroke-opacity="0.3" stroke-width="4"/>
<circle cx="1434.3" cy="844.9" r="10.7" fill="#00BFC4" fill-opacity="0.3" stroke="#00BFC4" stroke-opacity="0.3" stroke-width="4"/>
<circle cx="1454.9" cy="831.1" r="10.7" fill="#00BFC4" fill-opacity="0.3" stroke="#00BFC4" stroke-opacity="0.3" stroke-width="4"/>
<circle cx="1466.3" cy="832.3" r="10.7" fill="#00BFC4" fill-opacity="0.3" stroke="#00BFC4" stroke-opacity="0.3" stroke-width="4"/>
<circle cx="1461.7" cy="828.9" r="10.7" fill="#00BFC4" fill-opacity="0.3" stroke="#00BFC4" stroke-opacity="0.3" stroke-width="4"/>
<circle cx="1469.7" cy="855.1" r="10.7" fill="#00BFC4" fill-opacity="0.3" stroke="#00BFC4" stroke-opacity="0.3" stroke-width="4"/>
<circle cx="1470.9" cy="870.0" r="10.7" fill="#00BFC4" fill-opacity="0.3" stroke="#00BFC4" stroke-opacity="0.3" stroke-width="4"/>
<circle cx="1500.6" cy="823.1" r="10.7" fill="#00BFC4" fill-opacity="0.3" stroke="#00BFC4" stroke-opacity="0.3" stroke-width="4"/>
<circle cx="1509.7" cy="828.9" r="10.7" fill="#00BFC4" fill-opacity="0.3" stroke="#00BFC4" stroke-opacity="0.3" stroke-width="4"/>
<circle cx="1521.1" cy="831.1" r="10.7" fill="#00BFC4" fill-opacity="0.3" stroke="#00BFC4" stroke-opacity="0.3" stroke-width="4"/>
<circle cx="1536.0" cy="825.4" r="10.7" fill="#00BFC4" fill-opacity="0.3" stroke="#00BFC4" stroke-opacity="0.3" stroke-width="4"/>
<circle cx="1523.4" cy="826.6" r="10.7" fill="#00BFC4" fill-opacity="0.3" stroke="#00BFC4" stroke-opacity="0.3" stroke-width="4"/>
<circle cx="1499.4" cy="844.9" r="10.7" fill="#00BFC4" fill-opacity="0.3" stroke="#00BFC4" stroke-opacity="0.3" stroke-width="4"/>
<circle cx="1417.1" cy="872.3" r="10.7" fill="#00BFC4" fill-opacity="0.3" stroke="#00BFC4" stroke-opacity="0.3" stroke-width="4"/>
<circle cx="1395.4" cy="875.7" r="10.7" fill="#C77CFF" fill-opacity="0.3" stroke="#C77CFF" stroke-opacity="0.3" stroke-width="4"/>
<circle cx="1306.3" cy="870.0" r="10.7" fill="#C77CFF" fill-opacity="0.3" stroke="#C77CFF" stroke-opacity="0.3" stroke-width="4"/>
<circle cx="1324.6" cy="867.7" r="10.7" fill="#00BFC4" fill-opacity="0.3" stroke="#00BFC4" stroke-opacity="0.3" stroke-width="4"/>
<circle cx="1334.9" cy="868.9" r="10.7" fill="#C77CFF" fill-opacity="0.3" stroke="#C77CFF" stroke-opacity="0.3" stroke-width="4"/>
<circle cx="1336.0" cy="872.3" r="10.7" fill="#00BFC4" fill-opacity="0.3" stroke="#00BFC4" stroke-opacity="0.3" stroke-width="4"/>
<circle cx="1547.4" cy="873.4" r="10.7" fill="#00BFC4" fill-opacity="0.3" stroke="#00BFC4" stroke-opacity="0.3" stroke-width="4"/>
<circle cx="1678.4" cy="730.6" r="10.7" fill="#C77CFF" fill-opacity="0.3" stroke="#C77CFF" stroke-opacity="0.3" stroke-width="4"/>
<circle cx="1688.5" cy="738.6" r="10.7" fill="#00BFC4" fill-opacity="0.3" stroke="#00BFC4" stroke-opacity="0.3" stroke-width="4"/>
<circle cx="1680.7" cy="748.4" r="10.7" fill="#C77CFF" fill-opacity="0.3" stroke="#C77CFF" stroke-opacity="0.3" stroke-width="4"/>
<circle cx="1680.7" cy="765.3" r="10.7" fill="#00BFC4" fill-opacity="0.3" stroke="#00BFC4" stroke-opacity="0.3" stroke-width="4"/>
<circle cx="1772.1" cy="741.3" r="10.7" fill="#C77CFF" fill-opacity="0.3" stroke="#C77CFF" stroke-opacity="0.3" stroke-width="4"/>
<circle cx="1796.1" cy="744.3" r="10.7" fill="#00BFC4" fill-opacity="0.3" stroke="#00BFC4" stroke-opacity="0.3" stroke-width="4"/>
<circle cx="1752.5" cy="756.4" r="10.7" fill="#00BFC4" fill-opacity="0.3" stroke="#00BFC4" stroke-opacity="0.3" stroke-width="4"/>
<circle cx="1796.1" cy="769.9" r="10.7" fill="#00BFC4" fill-opacity="0.3" stroke="#00BFC4" stroke-opacity="0.3" stroke-width="4"/>
<circle cx="1889.8" cy="769.9" r="10.7" fill="#00BFC4" fill-opacity="0.3" stroke="#00BFC4" stroke-opacity="0.3" stroke-width="4"/>
<circle cx="1642.7" cy="760.7" r="10.7" fill="#00BFC4" fill-opacity="0.3" stroke="#00BFC4" stroke-opacity="0.3" stroke-width="4"/>
<circle cx="1646.9" cy="772.2" r="10.7" fill="#00BFC4" fill-opacity="0.3" stroke="#00BFC4" stroke-opacity="0.3" stroke-width="4"/>
<circle cx="1574.9" cy="769.4" r="10.7" fill="#00BFC4" fill-opacity="0.3" stroke="#00BFC4" stroke-opacity="0.3" stroke-width="4"/>
<circle cx="1562.3" cy="771.7" r="10.7" fill="#00BFC4" fill-opacity="0.3" stroke="#00BFC4" stroke-opacity="0.3" stroke-width="4"/>
<circle cx="1618.3" cy="784.3" r="10.7" fill="#00BFC4" fill-opacity="0.3" stroke="#00BFC4" stroke-opacity="0.3" stroke-width="4"/>
<circle cx="1628.6" cy="787.7" r="10.7" fill="#C77CFF" fill-opacity="0.3" stroke="#C77CFF" stroke-opacity="0.3" stroke-width="4"/>
<circle cx="1561.1" cy="787.7" r="10.7" fill="#00BFC4" fill-opacity="0.3" stroke="#00BFC4" stroke-opacity="0.3" stroke-width="4"/>
<circle cx="1588.6" cy="801.4" r="10.7" fill="#00BFC4" fill-opacity="0.3" stroke="#00BFC4" stroke-opacity="0.3" stroke-width="4"/>
<circle cx="1603.4" cy="792.3" r="10.7" fill="#00BFC4" fill-opacity="0.3" stroke="#00BFC4" stroke-opacity="0.3" stroke-width="4"/>
<circle cx="1603.4" cy="808.3" r="10.7" fill="#00BFC4" fill-opacity="0.3" stroke="#00BFC4" stroke-opacity="0.3" stroke-width="4"/>
<circle cx="1598.9" cy="820.9" r="10.7" fill="#00BFC4" fill-opacity="0.3" stroke="#00BFC4" stroke-opacity="0.3" stroke-width="4"/>
<circle cx="1622.9" cy="828.2" r="10.7" fill="#00BFC4" fill-opacity="0.3" stroke="#00BFC4" stroke-opacity="0.3" stroke-width="4"/>
<circle cx="1646.9" cy="801.9" r="10.7" fill="#00BFC4" fill-opacity="0.3" stroke="#00BFC4" stroke-opacity="0.3" stroke-width="4"/>
<circle cx="1690.3" cy="806.0" r="10.7" fill="#00BFC4" fill-opacity="0.3" stroke="#00BFC4" stroke-opacity="0.3" stroke-width="4"/>
<circle cx="1192.9" cy="845.7" r="10.7" fill="#C77CFF" fill-opacity="0.3" stroke="#C77CFF" stroke-opacity="0.3" stroke-width="4"/>
<circle cx="1207.1" cy="860.0" r="10.7" fill="#C77CFF" fill-opacity="0.3" stroke="#C77CFF" stroke-opacity="0.3" stroke-width="4"/>
<circle cx="1221.4" cy="851.4" r="10.7" fill="#C77CFF" fill-opacity="0.3" stroke="#C77CFF" stroke-opacity="0.3" stroke-width="4"/>
<circle cx="1201.4" cy="871.4" r="10.7" fill="#C77CFF" fill-opacity="0.3" stroke="#C77CFF" stroke-opacity="0.3" stroke-width="4"/>
<circle cx="1230.0" cy="865.7" r="10.7" fill="#C77CFF" fill-opacity="0.3" stroke="#C77CFF" stroke-opacity="0.3" stroke-width="4"/>
<circle cx="1250.0" cy="828.6" r="10.7" fill="#00BFC4" fill-opacity="0.3" stroke="#00BFC4" stroke-opacity="0.3" stroke-width="4"/>
<circle cx="1270.0" cy="820.0" r="10.7" fill="#C77CFF" fill-opacity="0.3" stroke="#C77CFF" stroke-opacity="0.3" stroke-width="4"/>
<circle cx="1264.3" cy="837.1" r="10.7" fill="#00BFC4" fill-opacity="0.3" stroke="#00BFC4" stroke-opacity="0.3" stroke-width="4"/>
<circle cx="1252.9" cy="845.7" r="10.7" fill="#7CAE00" fill-opacity="0.3" stroke="#7CAE00" stroke-opacity="0.3" stroke-width="4"/>
<circle cx="1292.9" cy="845.7" r="10.7" fill="#00BFC4" fill-opacity="0.3" stroke="#00BFC4" stroke-opacity="0.3" stroke-width="4"/>
<circle cx="1335.7" cy="814.3" r="10.7" fill="#00BFC4" fill-opacity="0.3" stroke="#00BFC4" stroke-opacity="0.3" stroke-width="4"/>
<circle cx="1350.0" cy="828.6" r="10.7" fill="#C77CFF" fill-opacity="0.3" stroke="#C77CFF" stroke-opacity="0.3" stroke-width="4"/>
<circle cx="1364.3" cy="808.6" r="10.7" fill="#00BFC4" fill-opacity="0.3" stroke="#00BFC4" stroke-opacity="0.3" stroke-width="4"/>
<circle cx="1330.0" cy="802.9" r="10.7" fill="#C77CFF" fill-opacity="0.3" stroke="#C77CFF" stroke-opacity="0.3" stroke-width="4"/>
<circle cx="1392.9" cy="788.6" r="10.7" fill="#00BFC4" fill-opacity="0.3" stroke="#00BFC4" stroke-opacity="0.3" stroke-width="4"/>
<circle cx="1421.4" cy="797.1" r="10.7" fill="#00BFC4" fill-opacity="0.3" stroke="#00BFC4" stroke-opacity="0.3" stroke-width="4"/>
<circle cx="1435.7" cy="785.7" r="10.7" fill="#00BFC4" fill-opacity="0.3" stroke="#00BFC4" stroke-opacity="0.3" stroke-width="4"/>
<circle cx="987.1" cy="851.4" r="10.7" fill="#C77CFF" fill-opacity="0.3" stroke="#C77CFF" stroke-opacity="0.3" stroke-width="4"/>
<circle cx="967.1" cy="854.3" r="10.7" fill="#7CAE00" fill-opacity="0.3" stroke="#7CAE00" stroke-opacity="0.3" stroke-width="4"/>
<circle cx="978.6" cy="894.3" r="10.7" fill="#C77CFF" fill-opacity="0.3" stroke="#C77CFF" stroke-opacity="0.3" stroke-width="4"/>
<circle cx="992.9" cy="902.9" r="10.7" fill="#C77CFF" fill-opacity="0.3" stroke="#C77CFF" stroke-opacity="0.3" stroke-width="4"/>
<circle cx="1064.3" cy="837.1" r="10.7" fill="#C77CFF" fill-opacity="0.3" stroke="#C77CFF" stroke-opacity="0.3" stroke-width="4"/>
<circle cx="1070.0" cy="865.7" r="10.7" fill="#7CAE00" fill-opacity="0.3" stroke="#7CAE00" stroke-opacity="0.3" stroke-width="4"/>
<circle cx="1087.1" cy="851.4" r="10.7" fill="#C77CFF" fill-opacity="0.3" stroke="#C77CFF" stroke-opacity="0.3" stroke-width="4"/>
<circle cx="1092.9" cy="871.4" r="10.7" fill="#F8766D" fill-opacity="0.3" stroke="#F8766D" stroke-opacity="0.3" stroke-width="4"/>
<circle cx="1144.3" cy="894.3" r="10.7" fill="#C77CFF" fill-opacity="0.3" stroke="#C77CFF" stroke-opacity="0.3" stroke-width="4"/>
<circle cx="1155.7" cy="877.1" r="10.7" fill="#C77CFF" fill-opacity="0.3" stroke="#C77CFF" stroke-opacity="0.3" stroke-width="4"/>
<circle cx="1164.3" cy="885.7" r="10.7" fill="#7CAE00" fill-opacity="0.3" stroke="#7CAE00" stroke-opacity="0.3" stroke-width="4"/>
<circle cx="1158.6" cy="905.7" r="10.7" fill="#F8766D" fill-opacity="0.3" stroke="#F8766D" stroke-opacity="0.3" stroke-width="4"/>
<rect x="272.3" y="364.3" width="1694.6000000000001" height="855.2" fill="none" stroke="#B3B3B3" stroke-width="6"/>
</g>
<line x1="255.9" y1="1195.10" x2="272.3" y2="1195.10" stroke="#B3B3B3" stroke-width="2.9"/>
<text x="242.5" y="1214.8" font-size="53.33" fill="#4D4D4D" text-anchor="end" textLength="26.33" lengthAdjust="spacingAndGlyphs">0</text>
<line x1="255.9" y1="1042.38" x2="272.3" y2="1042.38" stroke="#B3B3B3" stroke-width="2.9"/>
<text x="242.5" y="1062.1" font-size="53.33" fill="#4D4D4D" text-anchor="end" textLength="131.64" lengthAdjust="spacingAndGlyphs">10000</text>
<line x1="255.9" y1="889.66" x2="272.3" y2="889.66" stroke="#B3B3B3" stroke-width="2.9"/>
<text x="242.5" y="909.4" font-size="53.33" fill="#4D4D4D" text-anchor="end" textLength="131.64" lengthAdjust="spacingAndGlyphs">20000</text>
<line x1="255.9" y1="736.94" x2="272.3" y2="736.94" stroke="#B3B3B3" stroke-width="2.9"/>
<text x="242.5" y="756.6" font-size="53.33" fill="#4D4D4D" text-anchor="end" textLength="131.64" lengthAdjust="spacingAndGlyphs">30000</text>
<line x1="255.9" y1="584.22" x2="272.3" y2="584.22" stroke="#B3B3B3" stroke-width="2.9"/>
<text x="242.5" y="603.9" font-size="53.33" fill="#4D4D4D" text-anchor="end" textLength="131.64" lengthAdjust="spacingAndGlyphs">40000</text>
<line x1="255.9" y1="431.50" x2="272.3" y2="431.50" stroke="#B3B3B3" stroke-width="2.9"/>
<text x="242.5" y="451.2" font-size="53.33" fill="#4D4D4D" text-anchor="end" textLength="131.64" lengthAdjust="spacingAndGlyphs">50000</text>
<rect x="272.3" y="1252.9" width="1694.6000000000001" height="102.29999999999995" fill="#B3B3B3"/>
<text x="1119.6" y="1322.8" font-size="53.33" fill="#fff" text-anchor="middle" textLength="105.91" lengthAdjust="spacingAndGlyphs">night</text>
<clipPath id="cp1"><rect x="272.3" y="1355.2" width="1694.6000000000001" height="855.1000000000001"/></clipPath>
<g clip-path="url(#cp1)">
<rect x="272.3" y="1355.2" width="1694.6000000000001" height="855.1000000000001" fill="#fff"/>
<line x1="478.50" y1="1355.2" x2="478.50" y2="2210.3" stroke="#DEDEDE" stroke-width="2.9"/>
<line x1="956.17" y1="1355.2" x2="956.17" y2="2210.3" stroke="#DEDEDE" stroke-width="2.9"/>
<line x1="1433.84" y1="1355.2" x2="1433.84" y2="2210.3" stroke="#DEDEDE" stroke-width="2.9"/>
<line x1="1911.51" y1="1355.2" x2="1911.51" y2="2210.3" stroke="#DEDEDE" stroke-width="2.9"/>
<line x1="272.3" y1="2185.80" x2="1966.9" y2="2185.80" stroke="#DEDEDE" stroke-width="2.9"/>
<line x1="272.3" y1="2033.08" x2="1966.9" y2="2033.08" stroke="#DEDEDE" stroke-width="2.9"/>
<line x1="272.3" y1="1880.36" x2="1966.9" y2="1880.36" stroke="#DEDEDE" stroke-width="2.9"/>
<line x1="272.3" y1="1727.64" x2="1966.9" y2="1727.64" stroke="#DEDEDE" stroke-width="2.9"/>
<line x1="272.3" y1="1574.92" x2="1966.9" y2="1574.92" stroke="#DEDEDE" stroke-width="2.9"/>
<line x1="272.3" y1="1422.20" x2="1966.9" y2="1422.20" stroke="#DEDEDE" stroke-width="2.9"/>
<circle cx="1298.4" cy="1870.9" r="10.7" fill="#00BFC4" fill-opacity="0.3" stroke="#00BFC4" stroke-opacity="0.3" stroke-width="4"/>
<circle cx="1348.1" cy="1904.5" r="10.7" fill="#00BFC4" fill-opacity="0.3" stroke="#00BFC4" stroke-opacity="0.3" stroke-width="4"/>
<circle cx="1523.3" cy="1933.3" r="10.7" fill="#00BFC4" fill-opacity="0.3" stroke="#00BFC4" stroke-opacity="0.3" stroke-width="4"/>
<circle cx="1543.5" cy="1949.0" r="10.7" fill="#00BFC4" fill-opacity="0.3" stroke="#00BFC4" stroke-opacity="0.3" stroke-width="4"/>
<circle cx="1596.7" cy="1941.8" r="10.7" fill="#00BFC4" fill-opacity="0.3" stroke="#00BFC4" stroke-opacity="0.3" stroke-width="4"/>
<circle cx="1688.6" cy="1959.3" r="10.7" fill="#00BFC4" fill-opacity="0.3" stroke="#00BFC4" stroke-opacity="0.3" stroke-width="4"/>
<circle cx="1452.0" cy="1961.7" r="10.7" fill="#00BFC4" fill-opacity="0.3" stroke="#00BFC4" stroke-opacity="0.3" stroke-width="4"/>
<circle cx="1482.9" cy="1966.2" r="10.7" fill="#00BFC4" fill-opacity="0.3" stroke="#00BFC4" stroke-opacity="0.3" stroke-width="4"/>
<circle cx="1477.7" cy="1972.0" r="10.7" fill="#00BFC4" fill-opacity="0.3" stroke="#00BFC4" stroke-opacity="0.3" stroke-width="4"/>
<circle cx="1520.6" cy="1969.6" r="10.7" fill="#C77CFF" fill-opacity="0.3" stroke="#C77CFF" stroke-opacity="0.3" stroke-width="4"/>
<circle cx="1537.7" cy="1973.7" r="10.7" fill="#C77CFF" fill-opacity="0.3" stroke="#C77CFF" stroke-opacity="0.3" stroke-width="4"/>
<circle cx="1530.9" cy="1975.4" r="10.7" fill="#00BFC4" fill-opacity="0.3" stroke="#00BFC4" stroke-opacity="0.3" stroke-width="4"/>
<circle cx="1448.6" cy="1987.4" r="10.7" fill="#C77CFF" fill-opacity="0.3" stroke="#C77CFF" stroke-opacity="0.3" stroke-width="4"/>
<circle cx="1462.3" cy="1992.6" r="10.7" fill="#00BFC4" fill-opacity="0.3" stroke="#00BFC4" stroke-opacity="0.3" stroke-width="4"/>
<circle cx="1484.6" cy="1984.0" r="10.7" fill="#C77CFF" fill-opacity="0.3" stroke="#C77CFF" stroke-opacity="0.3" stroke-width="4"/>
<circle cx="1497.6" cy="1994.3" r="10.7" fill="#00BFC4" fill-opacity="0.3" stroke="#00BFC4" stroke-opacity="0.3" stroke-width="4"/>
<circle cx="1511.3" cy="2005.3" r="10.7" fill="#C77CFF" fill-opacity="0.3" stroke="#C77CFF" stroke-opacity="0.3" stroke-width="4"/>
<circle cx="1549.0" cy="2010.1" r="10.7" fill="#00BFC4" fill-opacity="0.3" stroke="#00BFC4" stroke-opacity="0.3" stroke-width="4"/>
<circle cx="1593.3" cy="1998.4" r="10.7" fill="#00BFC4" fill-opacity="0.3" stroke="#00BFC4" stroke-opacity="0.3" stroke-width="4"/>
<circle cx="1603.5" cy="1989.1" r="10.7" fill="#00BFC4" fill-opacity="0.3" stroke="#00BFC4" stroke-opacity="0.3" stroke-width="4"/>
<circle cx="1469.8" cy="2011.4" r="10.7" fill="#00BFC4" fill-opacity="0.3" stroke="#00BFC4" stroke-opacity="0.3" stroke-width="4"/>
<circle cx="1440.0" cy="2014.9" r="10.7" fill="#00BFC4" fill-opacity="0.3" stroke="#00BFC4" stroke-opacity="0.3" stroke-width="4"/>
<circle cx="1455.4" cy="1997.7" r="10.7" fill="#00BFC4" fill-opacity="0.3" stroke="#00BFC4" stroke-opacity="0.3" stroke-width="4"/>
<circle cx="1434.9" cy="1977.1" r="10.7" fill="#00BFC4" fill-opacity="0.3" stroke="#00BFC4" stroke-opacity="0.3" stroke-width="4"/>
<circle cx="349.1" cy="2091.2" r="10.7" fill="#F8766D" fill-opacity="0.3" stroke="#F8766D" stroke-opacity="0.3" stroke-width="4"/>
<circle cx="371.5" cy="2097.3" r="10.7" fill="#F8766D" fill-opacity="0.3" stroke="#F8766D" stroke-opacity="0.3" stroke-width="4"/>
<circle cx="365.1" cy="2106.4" r="10.7" fill="#F8766D" fill-opacity="0.3" stroke="#F8766D" stroke-opacity="0.3" stroke-width="4"/>
<circle cx="412.8" cy="2085.6" r="10.7" fill="#F8766D" fill-opacity="0.3" stroke="#F8766D" stroke-opacity="0.3" stroke-width="4"/>
<circle cx="420.5" cy="2096.8" r="10.7" fill="#F8766D" fill-opacity="0.3" stroke="#F8766D" stroke-opacity="0.3" stroke-width="4"/>
<circle cx="436.8" cy="2102.4" r="10.7" fill="#F8766D" fill-opacity="0.3" stroke="#F8766D" stroke-opacity="0.3" stroke-width="4"/>
<circle cx="441.6" cy="2089.6" r="10.7" fill="#F8766D" fill-opacity="0.3" stroke="#F8766D" stroke-opacity="0.3" stroke-width="4"/>
<circle cx="451.2" cy="2096.0" r="10.7" fill="#F8766D" fill-opacity="0.3" stroke="#F8766D" stroke-opacity="0.3" stroke-width="4"/>
<circle cx="446.7" cy="2068.8" r="10.7" fill="#C77CFF" fill-opacity="0.3" stroke="#C77CFF" stroke-opacity="0.3" stroke-width="4"/>
<circle cx="459.2" cy="2088.0" r="10.7" fill="#F8766D" fill-opacity="0.3" stroke="#F8766D" stroke-opacity="0.3" stroke-width="4"/>
<circle cx="464.0" cy="2084.8" r="10.7" fill="#F8766D" fill-opacity="0.3" stroke="#F8766D" stroke-opacity="0.3" stroke-width="4"/>
<circle cx="468.8" cy="2088.0" r="10.7" fill="#F8766D" fill-opacity="0.3" stroke="#F8766D" stroke-opacity="0.3" stroke-width="4"/>
<circle cx="472.0" cy="2091.2" r="10.7" fill="#F8766D" fill-opacity="0.3" stroke="#F8766D" stroke-opacity="0.3" stroke-width="4"/>
<circle cx="476.8" cy="2086.4" r="10.7" fill="#F8766D" fill-opacity="0.3" stroke="#F8766D" stroke-opacity="0.3" stroke-width="4"/>
<circle cx="480.0" cy="2092.8" r="10.7" fill="#F8766D" fill-opacity="0.3" stroke="#F8766D" stroke-opacity="0.3" stroke-width="4"/>
<circle cx="468.0" cy="2099.2" r="10.7" fill="#F8766D" fill-opacity="0.3" stroke="#F8766D" stroke-opacity="0.3" stroke-width="4"/>
<circle cx="473.6" cy="2083.2" r="10.7" fill="#F8766D" fill-opacity="0.3" stroke="#F8766D" stroke-opacity="0.3" stroke-width="4"/>
<circle cx="486.4" cy="2082.4" r="10.7" fill="#F8766D" fill-opacity="0.3" stroke="#F8766D" stroke-opacity="0.3" stroke-width="4"/>
<circle cx="492.8" cy="2105.6" r="10.7" fill="#F8766D" fill-opacity="0.3" stroke="#F8766D" stroke-opacity="0.3" stroke-width="4"/>
<circle cx="504.0" cy="2086.4" r="10.7" fill="#F8766D" fill-opacity="0.3" stroke="#F8766D" stroke-opacity="0.3" stroke-width="4"/>
<circle cx="516.5" cy="2068.8" r="10.7" fill="#C77CFF" fill-opacity="0.3" stroke="#C77CFF" stroke-opacity="0.3" stroke-width="4"/>
<circle cx="520.0" cy="2074.4" r="10.7" fill="#F8766D" fill-opacity="0.3" stroke="#F8766D" stroke-opacity="0.3" stroke-width="4"/>
<circle cx="515.2" cy="2093.6" r="10.7" fill="#7CAE00" fill-opacity="0.3" stroke="#7CAE00" stroke-opacity="0.3" stroke-width="4"/>
<circle cx="515.2" cy="2096.0" r="10.7" fill="#F8766D" fill-opacity="0.3" stroke="#F8766D" stroke-opacity="0.3" stroke-width="4"/>
<circle cx="532.0" cy="2084.0" r="10.7" fill="#F8766D" fill-opacity="0.3" stroke="#F8766D" stroke-opacity="0.3" stroke-width="4"/>
<circle cx="528.0" cy="2078.4" r="10.7" fill="#F8766D" fill-opacity="0.3" stroke="#F8766D" stroke-opacity="0.3" stroke-width="4"/>
<circle cx="552.0" cy="2072.0" r="10.7" fill="#F8766D" fill-opacity="0.3" stroke="#F8766D" stroke-opacity="0.3" stroke-width="4"/>
<circle cx="560.0" cy="2070.4" r="10.7" fill="#7CAE00" fill-opacity="0.3" stroke="#7CAE00" stroke-opacity="0.3" stroke-width="4"/>
<circle cx="563.2" cy="2078.4" r="10.7" fill="#C77CFF" fill-opacity="0.3" stroke="#C77CFF" stroke-opacity="0.3" stroke-width="4"/>
<circle cx="556.8" cy="2086.4" r="10.7" fill="#7CAE00" fill-opacity="0.3" stroke="#7CAE00" stroke-opacity="0.3" stroke-width="4"/>
<circle cx="552.8" cy="2099.2" r="10.7" fill="#F8766D" fill-opacity="0.3" stroke="#F8766D" stroke-opacity="0.3" stroke-width="4"/>
<circle cx="576.0" cy="2078.4" r="10.7" fill="#F8766D" fill-opacity="0.3" stroke="#F8766D" stroke-opacity="0.3" stroke-width="4"/>
<circle cx="584.0" cy="2076.8" r="10.7" fill="#F8766D" fill-opacity="0.3" stroke="#F8766D" stroke-opacity="0.3" stroke-width="4"/>
<circle cx="588.8" cy="2075.2" r="10.7" fill="#F8766D" fill-opacity="0.3" stroke="#F8766D" stroke-opacity="0.3" stroke-width="4"/>
<circle cx="574.4" cy="2097.6" r="10.7" fill="#7CAE00" fill-opacity="0.3" stroke="#7CAE00" stroke-opacity="0.3" stroke-width="4"/>
<circle cx="588.8" cy="2096.0" r="10.7" fill="#7CAE00" fill-opacity="0.3" stroke="#7CAE00" stroke-opacity="0.3" stroke-width="4"/>
<circle cx="579.2" cy="2094.4" r="10.7" fill="#F8766D" fill-opacity="0.3" stroke="#F8766D" stroke-opacity="0.3" stroke-width="4"/>
<circle cx="598.4" cy="2075.2" r="10.7" fill="#7CAE00" fill-opacity="0.3" stroke="#7CAE00" stroke-opacity="0.3" stroke-width="4"/>
<circle cx="598.4" cy="2099.2" r="10.7" fill="#7CAE00" fill-opacity="0.3" stroke="#7CAE00" stroke-opacity="0.3" stroke-width="4"/>
<circle cx="599.2" cy="2084.8" r="10.7" fill="#C77CFF" fill-opacity="0.3" stroke="#C77CFF" stroke-opacity="0.3" stroke-width="4"/>
<circle cx="412.8" cy="2127.2" r="10.7" fill="#F8766D" fill-opacity="0.3" stroke="#F8766D" stroke-opacity="0.3" stroke-width="4"/>
<circle cx="398.9" cy="2139.5" r="10.7" fill="#F8766D" fill-opacity="0.3" stroke="#F8766D" stroke-opacity="0.3" stroke-width="4"/>
<circle cx="432.8" cy="2131.5" r="10.7" fill="#C77CFF" fill-opacity="0.3" stroke="#C77CFF" stroke-opacity="0.3" stroke-width="4"/>
<circle cx="481.6" cy="2123.2" r="10.7" fill="#F8766D" fill-opacity="0.3" stroke="#F8766D" stroke-opacity="0.3" stroke-width="4"/>
<circle cx="478.4" cy="2134.4" r="10.7" fill="#C77CFF" fill-opacity="0.3" stroke="#C77CFF" stroke-opacity="0.3" stroke-width="4"/>
<circle cx="482.4" cy="2140.8" r="10.7" fill="#F8766D" fill-opacity="0.3" stroke="#F8766D" stroke-opacity="0.3" stroke-width="4"/>
<circle cx="492.8" cy="2123.2" r="10.7" fill="#F8766D" fill-opacity="0.3" stroke="#F8766D" stroke-opacity="0.3" stroke-width="4"/>
<circle cx="500.8" cy="2121.6" r="10.7" fill="#F8766D" fill-opacity="0.3" stroke="#F8766D" stroke-opacity="0.3" stroke-width="4"/>
<circle cx="494.4" cy="2136.0" r="10.7" fill="#7CAE00" fill-opacity="0.3" stroke="#7CAE00" stroke-opacity="0.3" stroke-width="4"/>
<circle cx="505.6" cy="2142.4" r="10.7" fill="#F8766D" fill-opacity="0.3" stroke="#F8766D" stroke-opacity="0.3" stroke-width="4"/>
<circle cx="518.4" cy="2139.2" r="10.7" fill="#7CAE00" fill-opacity="0.3" stroke="#7CAE00" stroke-opacity="0.3" stroke-width="4"/>
<circle cx="531.2" cy="2142.4" r="10.7" fill="#F8766D" fill-opacity="0.3" stroke="#F8766D" stroke-opacity="0.3" stroke-width="4"/>
<circle cx="538.4" cy="2123.2" r="10.7" fill="#F8766D" fill-opacity="0.3" stroke="#F8766D" stroke-opacity="0.3" stroke-width="4"/>
<circle cx="537.6" cy="2136.0" r="10.7" fill="#F8766D" fill-opacity="0.3" stroke="#F8766D" stroke-opacity="0.3" stroke-width="4"/>
<circle cx="546.4" cy="2152.0" r="10.7" fill="#F8766D" fill-opacity="0.3" stroke="#F8766D" stroke-opacity="0.3" stroke-width="4"/>
<circle cx="550.4" cy="2132.8" r="10.7" fill="#F8766D" fill-opacity="0.3" stroke="#F8766D" stroke-opacity="0.3" stroke-width="4"/>
<circle cx="558.4" cy="2136.0" r="10.7" fill="#C77CFF" fill-opacity="0.3" stroke="#C77CFF" stroke-opacity="0.3" stroke-width="4"/>
<circle cx="566.4" cy="2124.8" r="10.7" fill="#7CAE00" fill-opacity="0.3" stroke="#7CAE00" stroke-opacity="0.3" stroke-width="4"/>
<circle cx="568.0" cy="2126.4" r="10.7" fill="#C77CFF" fill-opacity="0.3" stroke="#C77CFF" stroke-opacity="0.3" stroke-width="4"/>
<circle cx="560.0" cy="2144.0" r="10.7" fill="#F8766D" fill-opacity="0.3" stroke="#F8766D" stroke-opacity="0.3" stroke-width="4"/>
<circle cx="576.0" cy="2148.8" r="10.7" fill="#F8766D" fill-opacity="0.3" stroke="#F8766D" stroke-opacity="0.3" stroke-width="4"/>
<circle cx="576.0" cy="2115.2" r="10.7" fill="#F8766D" fill-opacity="0.3" stroke="#F8766D" stroke-opacity="0.3" stroke-width="4"/>
<circle cx="577.6" cy="2113.6" r="10.7" fill="#7CAE00" fill-opacity="0.3" stroke="#7CAE00" stroke-opacity="0.3" stroke-width="4"/>
<circle cx="588.8" cy="2129.6" r="10.7" fill="#F8766D" fill-opacity="0.3" stroke="#F8766D" stroke-opacity="0.3" stroke-width="4"/>
<circle cx="598.4" cy="2120.0" r="10.7" fill="#7CAE00" fill-opacity="0.3" stroke="#7CAE00" stroke-opacity="0.3" stroke-width="4"/>
<circle cx="595.2" cy="2132.8" r="10.7" fill="#F8766D" fill-opacity="0.3" stroke="#F8766D" stroke-opacity="0.3" stroke-width="4"/>
<circle cx="555.2" cy="2139.2" r="10.7" fill="#F8766D" fill-opacity="0.3" stroke="#F8766D" stroke-opacity="0.3" stroke-width="4"/>
<circle cx="604.8" cy="2072.0" r="10.7" fill="#7CAE00" fill-opacity="0.3" stroke="#7CAE00" stroke-opacity="0.3" stroke-width="4"/>
<circle cx="603.2" cy="2076.8" r="10.7" fill="#F8766D" fill-opacity="0.3" stroke="#F8766D" stroke-opacity="0.3" stroke-width="4"/>
<circle cx="606.4" cy="2084.8" r="10.7" fill="#C77CFF" fill-opacity="0.3" stroke="#C77CFF" stroke-opacity="0.3" stroke-width="4"/>
<circle cx="617.6" cy="2076.8" r="10.7" fill="#7CAE00" fill-opacity="0.3" stroke="#7CAE00" stroke-opacity="0.3" stroke-width="4"/>
<circle cx="608.0" cy="2099.2" r="10.7" fill="#7CAE00" fill-opacity="0.3" stroke="#7CAE00" stroke-opacity="0.3" stroke-width="4"/>
<circle cx="620.8" cy="2081.6" r="10.7" fill="#7CAE00" fill-opacity="0.3" stroke="#7CAE00" stroke-opacity="0.3" stroke-width="4"/>
<circle cx="628.8" cy="2102.4" r="10.7" fill="#C77CFF" fill-opacity="0.3" stroke="#C77CFF" stroke-opacity="0.3" stroke-width="4"/>
<circle cx="627.2" cy="2099.2" r="10.7" fill="#7CAE00" fill-opacity="0.3" stroke="#7CAE00" stroke-opacity="0.3" stroke-width="4"/>
<circle cx="604.8" cy="2121.6" r="10.7" fill="#7CAE00" fill-opacity="0.3" stroke="#7CAE00" stroke-opacity="0.3" stroke-width="4"/>
<circle cx="612.8" cy="2120.0" r="10.7" fill="#C77CFF" fill-opacity="0.3" stroke="#C77CFF" stroke-opacity="0.3" stroke-width="4"/>
<circle cx="625.6" cy="2123.2" r="10.7" fill="#F8766D" fill-opacity="0.3" stroke="#F8766D" stroke-opacity="0.3" stroke-width="4"/>
<circle cx="600.0" cy="2134.4" r="10.7" fill="#F8766D" fill-opacity="0.3" stroke="#F8766D" stroke-opacity="0.3" stroke-width="4"/>
<circle cx="624.0" cy="2136.0" r="10.7" fill="#7CAE00" fill-opacity="0.3" stroke="#7CAE00" stroke-opacity="0.3" stroke-width="4"/>
<circle cx="628.8" cy="2129.6" r="10.7" fill="#F8766D" fill-opacity="0.3" stroke="#F8766D" stroke-opacity="0.3" stroke-width="4"/>
<circle cx="643.2" cy="2073.6" r="10.7" fill="#F8766D" fill-opacity="0.3" stroke="#F8766D" stroke-opacity="0.3" stroke-width="4"/>
<circle cx="649.6" cy="2081.6" r="10.7" fill="#7CAE00" fill-opacity="0.3" stroke="#7CAE00" stroke-opacity="0.3" stroke-width="4"/>
<circle cx="657.6" cy="2073.6" r="10.7" fill="#C77CFF" fill-opacity="0.3" stroke="#C77CFF" stroke-opacity="0.3" stroke-width="4"/>
<circle cx="651.2" cy="2088.0" r="10.7" fill="#7CAE00" fill-opacity="0.3" stroke="#7CAE00" stroke-opacity="0.3" stroke-width="4"/>
<circle cx="660.8" cy="2088.0" r="10.7" fill="#F8766D" fill-opacity="0.3" stroke="#F8766D" stroke-opacity="0.3" stroke-width="4"/>
<circle cx="675.2" cy="2080.0" r="10.7" fill="#C77CFF" fill-opacity="0.3" stroke="#C77CFF" stroke-opacity="0.3" stroke-width="4"/>
<circle cx="664.0" cy="2084.8" r="10.7" fill="#F8766D" fill-opacity="0.3" stroke="#F8766D" stroke-opacity="0.3" stroke-width="4"/>
<circle cx="678.4" cy="2088.0" r="10.7" fill="#C77CFF" fill-opacity="0.3" stroke="#C77CFF" stroke-opacity="0.3" stroke-width="4"/>
<circle cx="656.0" cy="2104.0" r="10.7" fill="#F8766D" fill-opacity="0.3" stroke="#F8766D" stroke-opacity="0.3" stroke-width="4"/>
<circle cx="664.0" cy="2108.8" r="10.7" fill="#F8766D" fill-opacity="0.3" stroke="#F8766D" stroke-opacity="0.3" stroke-width="4"/>
<circle cx="675.2" cy="2105.6" r="10.7" fill="#C77CFF" fill-opacity="0.3" stroke="#C77CFF" stroke-opacity="0.3" stroke-width="4"/>
<circle cx="670.4" cy="2112.0" r="10.7" fill="#F8766D" fill-opacity="0.3" stroke="#F8766D" stroke-opacity="0.3" stroke-width="4"/>
<circle cx="657.6" cy="2112.0" r="10.7" fill="#F8766D" fill-opacity="0.3" stroke="#F8766D" stroke-opacity="0.3" stroke-width="4"/>
<circle cx="649.6" cy="2128.0" r="10.7" fill="#F8766D" fill-opacity="0.3" stroke="#F8766D" stroke-opacity="0.3" stroke-width="4"/>
<circle cx="665.6" cy="2131.2" r="10.7" fill="#7CAE00" fill-opacity="0.3" stroke="#7CAE00" stroke-opacity="0.3" stroke-width="4"/>
<circle cx="670.4" cy="2136.0" r="10.7" fill="#F8766D" fill-opacity="0.3" stroke="#F8766D" stroke-opacity="0.3" stroke-width="4"/>
<circle cx="672.0" cy="2142.4" r="10.7" fill="#F8766D" fill-opacity="0.3" stroke="#F8766D" stroke-opacity="0.3" stroke-width="4"/>
<circle cx="689.6" cy="2150.4" r="10.7" fill="#7CAE00" fill-opacity="0.3" stroke="#7CAE00" stroke-opacity="0.3" stroke-width="4"/>
<circle cx="689.6" cy="2150.4" r="10.7" fill="#F8766D" fill-opacity="0.3" stroke="#F8766D" stroke-opacity="0.3" stroke-width="4"/>
<circle cx="689.6" cy="2078.4" r="10.7" fill="#F8766D" fill-opacity="0.3" stroke="#F8766D" stroke-opacity="0.3" stroke-width="4"/>
<circle cx="699.2" cy="2070.4" r="10.7" fill="#7CAE00" fill-opacity="0.3" stroke="#7CAE00" stroke-opacity="0.3" stroke-width="4"/>
<circle cx="700.8" cy="2084.8" r="10.7" fill="#C77CFF" fill-opacity="0.3" stroke="#C77CFF" stroke-opacity="0.3" stroke-width="4"/>
<circle cx="712.0" cy="2083.2" r="10.7" fill="#7CAE00" fill-opacity="0.3" stroke="#7CAE00" stroke-opacity="0.3" stroke-width="4"/>
<circle cx="718.4" cy="2068.8" r="10.7" fill="#7CAE00" fill-opacity="0.3" stroke="#7CAE00" stroke-opacity="0.3" stroke-width="4"/>
<circle cx="715.2" cy="2086.4" r="10.7" fill="#F8766D" fill-opacity="0.3" stroke="#F8766D" stroke-opacity="0.3" stroke-width="4"/>
<circle cx="689.6" cy="2115.2" r="10.7" fill="#7CAE00" fill-opacity="0.3" stroke="#7CAE00" stroke-opacity="0.3" stroke-width="4"/>
<circle cx="689.6" cy="2124.8" r="10.7" fill="#F8766D" fill-opacity="0.3" stroke="#F8766D" stroke-opacity="0.3" stroke-width="4"/>
<circle cx="707.2" cy="2107.2" r="10.7" fill="#7CAE00" fill-opacity="0.3" stroke="#7CAE00" stroke-opacity="0.3" stroke-width="4"/>
<circle cx="710.4" cy="2113.6" r="10.7" fill="#7CAE00" fill-opacity="0.3" stroke="#7CAE00" stroke-opacity="0.3" stroke-width="4"/>
<circle cx="712.0" cy="2128.0" r="10.7" fill="#F8766D" fill-opacity="0.3" stroke="#F8766D" stroke-opacity="0.3" stroke-width="4"/>
<circle cx="710.4" cy="2145.6" r="10.7" fill="#C77CFF" fill-opacity="0.3" stroke="#C77CFF" stroke-opacity="0.3" stroke-width="4"/>
<circle cx="724.8" cy="2120.0" r="10.7" fill="#F8766D" fill-opacity="0.3" stroke="#F8766D" stroke-opacity="0.3" stroke-width="4"/>
<circle cx="728.0" cy="2120.0" r="10.7" fill="#C77CFF" fill-opacity="0.3" stroke="#C77CFF" stroke-opacity="0.3" stroke-width="4"/>
<circle cx="721.6" cy="2129.6" r="10.7" fill="#F8766D" fill-opacity="0.3" stroke="#F8766D" stroke-opacity="0.3" stroke-width="4"/>
<circle cx="718.4" cy="2102.4" r="10.7" fill="#7CAE00" fill-opacity="0.3" stroke="#7CAE00" stroke-opacity="0.3" stroke-width="4"/>
<circle cx="740.8" cy="2041.6" r="10.7" fill="#7CAE00" fill-opacity="0.3" stroke="#7CAE00" stroke-opacity="0.3" stroke-width="4"/>
<circle cx="748.8" cy="2056.0" r="10.7" fill="#C77CFF" fill-opacity="0.3" stroke="#C77CFF" stroke-opacity="0.3" stroke-width="4"/>
<circle cx="766.4" cy="2056.0" r="10.7" fill="#7CAE00" fill-opacity="0.3" stroke="#7CAE00" stroke-opacity="0.3" stroke-width="4"/>
<circle cx="734.4" cy="2081.6" r="10.7" fill="#7CAE00" fill-opacity="0.3" stroke="#7CAE00" stroke-opacity="0.3" stroke-width="4"/>
<circle cx="737.6" cy="2088.0" r="10.7" fill="#7CAE00" fill-opacity="0.3" stroke="#7CAE00" stroke-opacity="0.3" stroke-width="4"/>
<circle cx="744.0" cy="2086.4" r="10.7" fill="#F8766D" fill-opacity="0.3" stroke="#F8766D" stroke-opacity="0.3" stroke-width="4"/>
<circle cx="752.0" cy="2091.2" r="10.7" fill="#F8766D" fill-opacity="0.3" stroke="#F8766D" stroke-opacity="0.3" stroke-width="4"/>
<circle cx="752.0" cy="2104.0" r="10.7" fill="#7CAE00" fill-opacity="0.3" stroke="#7CAE00" stroke-opacity="0.3" stroke-width="4"/>
<circle cx="731.2" cy="2096.0" r="10.7" fill="#7CAE00" fill-opacity="0.3" stroke="#7CAE00" stroke-opacity="0.3" stroke-width="4"/>
<circle cx="750.4" cy="2113.6" r="10.7" fill="#7CAE00" fill-opacity="0.3" stroke="#7CAE00" stroke-opacity="0.3" stroke-width="4"/>
<circle cx="740.8" cy="2139.2" r="10.7" fill="#7CAE00" fill-opacity="0.3" stroke="#7CAE00" stroke-opacity="0.3" stroke-width="4"/>
<circle cx="747.2" cy="2142.4" r="10.7" fill="#F8766D" fill-opacity="0.3" stroke="#F8766D" stroke-opacity="0.3" stroke-width="4"/>
<circle cx="744.0" cy="2136.0" r="10.7" fill="#7CAE00" fill-opacity="0.3" stroke="#7CAE00" stroke-opacity="0.3" stroke-width="4"/>
<circle cx="760.0" cy="2126.4" r="10.7" fill="#F8766D" fill-opacity="0.3" stroke="#F8766D" stroke-opacity="0.3" stroke-width="4"/>
<circle cx="761.6" cy="2123.2" r="10.7" fill="#7CAE00" fill-opacity="0.3" stroke="#7CAE00" stroke-opacity="0.3" stroke-width="4"/>
<circle cx="753.6" cy="2145.6" r="10.7" fill="#F8766D" fill-opacity="0.3" stroke="#F8766D" stroke-opacity="0.3" stroke-width="4"/>
<circle cx="768.0" cy="2148.8" r="10.7" fill="#7CAE00" fill-opacity="0.3" stroke="#7CAE00" stroke-opacity="0.3" stroke-width="4"/>
<circle cx="768.0" cy="2144.0" r="10.7" fill="#F8766D" fill-opacity="0.3" stroke="#F8766D" stroke-opacity="0.3" stroke-width="4"/>
<circle cx="771.2" cy="2120.0" r="10.7" fill="#C77CFF" fill-opacity="0.3" stroke="#C77CFF" stroke-opacity="0.3" stroke-width="4"/>
<circle cx="768.0" cy="2088.0" r="10.7" fill="#F8766D" fill-opacity="0.3" stroke="#F8766D" stroke-opacity="0.3" stroke-width="4"/>
<circle cx="776.0" cy="2083.2" r="10.7" fill="#7CAE00" fill-opacity="0.3" stroke="#7CAE00" stroke-opacity="0.3" stroke-width="4"/>
<circle cx="780.8" cy="2046.4" r="10.7" fill="#7CAE00" fill-opacity="0.3" stroke="#7CAE00" stroke-opacity="0.3" stroke-width="4"/>
<circle cx="782.4" cy="2062.4" r="10.7" fill="#F8766D" fill-opacity="0.3" stroke="#F8766D" stroke-opacity="0.3" stroke-width="4"/>
<circle cx="788.8" cy="2064.0" r="10.7" fill="#F8766D" fill-opacity="0.3" stroke="#F8766D" stroke-opacity="0.3" stroke-width="4"/>
<circle cx="792.0" cy="2067.2" r="10.7" fill="#F8766D" fill-opacity="0.3" stroke="#F8766D" stroke-opacity="0.3" stroke-width="4"/>
<circle cx="790.4" cy="2068.8" r="10.7" fill="#C77CFF" fill-opacity="0.3" stroke="#C77CFF" stroke-opacity="0.3" stroke-width="4"/>
<circle cx="772.8" cy="2067.2" r="10.7" fill="#7CAE00" fill-opacity="0.3" stroke="#7CAE00" stroke-opacity="0.3" stroke-width="4"/>
<circle cx="792.0" cy="2084.8" r="10.7" fill="#7CAE00" fill-opacity="0.3" stroke="#7CAE00" stroke-opacity="0.3" stroke-width="4"/>
<circle cx="806.4" cy="2072.0" r="10.7" fill="#7CAE00" fill-opacity="0.3" stroke="#7CAE00" stroke-opacity="0.3" stroke-width="4"/>
<circle cx="809.6" cy="2067.2" r="10.7" fill="#7CAE00" fill-opacity="0.3" stroke="#7CAE00" stroke-opacity="0.3" stroke-width="4"/>
<circle cx="811.2" cy="2062.4" r="10.7" fill="#7CAE00" fill-opacity="0.3" stroke="#7CAE00" stroke-opacity="0.3" stroke-width="4"/>
<circle cx="779.2" cy="2104.0" r="10.7" fill="#F8766D" fill-opacity="0.3" stroke="#F8766D" stroke-opacity="0.3" stroke-width="4"/>
<circle cx="792.0" cy="2105.6" r="10.7" fill="#F8766D" fill-opacity="0.3" stroke="#F8766D" stroke-opacity="0.3" stroke-width="4"/>
<circle cx="777.6" cy="2107.2" r="10.7" fill="#C77CFF" fill-opacity="0.3" stroke="#C77CFF" stroke-opacity="0.3" stroke-width="4"/>
<circle cx="780.8" cy="2155.2" r="10.7" fill="#F8766D" fill-opacity="0.3" stroke="#F8766D" stroke-opacity="0.3" stroke-width="4"/>
<circle cx="803.2" cy="2153.6" r="10.7" fill="#F8766D" fill-opacity="0.3" stroke="#F8766D" stroke-opacity="0.3" stroke-width="4"/>
<circle cx="808.0" cy="2145.6" r="10.7" fill="#F8766D" fill-opacity="0.3" stroke="#F8766D" stroke-opacity="0.3" stroke-width="4"/>
<circle cx="801.6" cy="2136.0" r="10.7" fill="#7CAE00" fill-opacity="0.3" stroke="#7CAE00" stroke-opacity="0.3" stroke-width="4"/>
<circle cx="812.8" cy="2132.8" r="10.7" fill="#7CAE00" fill-opacity="0.3" stroke="#7CAE00" stroke-opacity="0.3" stroke-width="4"/>
<circle cx="812.8" cy="2116.8" r="10.7" fill="#F8766D" fill-opacity="0.3" stroke="#F8766D" stroke-opacity="0.3" stroke-width="4"/>
<circle cx="804.8" cy="2094.4" r="10.7" fill="#7CAE00" fill-opacity="0.3" stroke="#7CAE00" stroke-opacity="0.3" stroke-width="4"/>
<circle cx="822.4" cy="2091.2" r="10.7" fill="#C77CFF" fill-opacity="0.3" stroke="#C77CFF" stroke-opacity="0.3" stroke-width="4"/>
<circle cx="822.4" cy="2097.6" r="10.7" fill="#F8766D" fill-opacity="0.3" stroke="#F8766D" stroke-opacity="0.3" stroke-width="4"/>
<circle cx="824.0" cy="2104.0" r="10.7" fill="#7CAE00" fill-opacity="0.3" stroke="#7CAE00" stroke-opacity="0.3" stroke-width="4"/>
<circle cx="822.4" cy="2044.8" r="10.7" fill="#7CAE00" fill-opacity="0.3" stroke="#7CAE00" stroke-opacity="0.3" stroke-width="4"/>
<circle cx="827.2" cy="2043.2" r="10.7" fill="#7CAE00" fill-opacity="0.3" stroke="#7CAE00" stroke-opacity="0.3" stroke-width="4"/>
<circle cx="848.0" cy="2044.8" r="10.7" fill="#7CAE00" fill-opacity="0.3" stroke="#7CAE00" stroke-opacity="0.3" stroke-width="4"/>
<circle cx="840.0" cy="2043.2" r="10.7" fill="#7CAE00" fill-opacity="0.3" stroke="#7CAE00" stroke-opacity="0.3" stroke-width="4"/>
<circle cx="872.0" cy="2044.8" r="10.7" fill="#7CAE00" fill-opacity="0.3" stroke="#7CAE00" stroke-opacity="0.3" stroke-width="4"/>
<circle cx="875.2" cy="2048.0" r="10.7" fill="#7CAE00" fill-opacity="0.3" stroke="#7CAE00" stroke-opacity="0.3" stroke-width="4"/>
<circle cx="835.2" cy="2060.8" r="10.7" fill="#C77CFF" fill-opacity="0.3" stroke="#C77CFF" stroke-opacity="0.3" stroke-width="4"/>
<circle cx="840.0" cy="2072.0" r="10.7" fill="#F8766D" fill-opacity="0.3" stroke="#F8766D" stroke-opacity="0.3" stroke-width="4"/>
<circle cx="856.0" cy="2068.8" r="10.7" fill="#C77CFF" fill-opacity="0.3" stroke="#C77CFF" stroke-opacity="0.3" stroke-width="4"/>
<circle cx="848.0" cy="2075.2" r="10.7" fill="#7CAE00" fill-opacity="0.3" stroke="#7CAE00" stroke-opacity="0.3" stroke-width="4"/>
<circle cx="872.0" cy="2067.2" r="10.7" fill="#C77CFF" fill-opacity="0.3" stroke="#C77CFF" stroke-opacity="0.3" stroke-width="4"/>
<circle cx="878.4" cy="2060.8" r="10.7" fill="#F8766D" fill-opacity="0.3" stroke="#F8766D" stroke-opacity="0.3" stroke-width="4"/>
<circle cx="870.4" cy="2089.6" r="10.7" fill="#F8766D" fill-opacity="0.3" stroke="#F8766D" stroke-opacity="0.3" stroke-width="4"/>
<circle cx="864.0" cy="2088.0" r="10.7" fill="#F8766D" fill-opacity="0.3" stroke="#F8766D" stroke-opacity="0.3" stroke-width="4"/>
<circle cx="878.4" cy="2102.4" r="10.7" fill="#F8766D" fill-opacity="0.3" stroke="#F8766D" stroke-opacity="0.3" stroke-width="4"/>
<circle cx="875.2" cy="2092.8" r="10.7" fill="#F8766D" fill-opacity="0.3" stroke="#F8766D" stroke-opacity="0.3" stroke-width="4"/>
<circle cx="848.0" cy="2100.8" r="10.7" fill="#C77CFF" fill-opacity="0.3" stroke="#C77CFF" stroke-opacity="0.3" stroke-width="4"/>
<circle cx="844.8" cy="2104.0" r="10.7" fill="#7CAE00" fill-opacity="0.3" stroke="#7CAE00" stroke-opacity="0.3" stroke-width="4"/>
<circle cx="828.8" cy="2120.0" r="10.7" fill="#C77CFF" fill-opacity="0.3" stroke="#C77CFF" stroke-opacity="0.3" stroke-width="4"/>
<circle cx="844.8" cy="2123.2" r="10.7" fill="#C77CFF" fill-opacity="0.3" stroke="#C77CFF" stroke-opacity="0.3" stroke-width="4"/>
<circle cx="856.0" cy="2118.4" r="10.7" fill="#7CAE00" fill-opacity="0.3" stroke="#7CAE00" stroke-opacity="0.3" stroke-width="4"/>
<circle cx="848.0" cy="2120.0" r="10.7" fill="#F8766D" fill-opacity="0.3" stroke="#F8766D" stroke-opacity="0.3" stroke-width="4"/>
<circle cx="836.8" cy="2124.8" r="10.7" fill="#C77CFF" fill-opacity="0.3" stroke="#C77CFF" stroke-opacity="0.3" stroke-width="4"/>
<circle cx="833.6" cy="2140.8" r="10.7" fill="#7CAE00" fill-opacity="0.3" stroke="#7CAE00" stroke-opacity="0.3" stroke-width="4"/>
<circle cx="843.2" cy="2145.6" r="10.7" fill="#F8766D" fill-opacity="0.3" stroke="#F8766D" stroke-opacity="0.3" stroke-width="4"/>
<circle cx="848.0" cy="2148.8" r="10.7" fill="#F8766D" fill-opacity="0.3" stroke="#F8766D" stroke-opacity="0.3" stroke-width="4"/>
<circle cx="870.4" cy="2136.0" r="10.7" fill="#7CAE00" fill-opacity="0.3" stroke="#7CAE00" stroke-opacity="0.3" stroke-width="4"/>
<circle cx="867.2" cy="2131.2" r="10.7" fill="#F8766D" fill-opacity="0.3" stroke="#F8766D" stroke-opacity="0.3" stroke-width="4"/>
<circle cx="825.6" cy="2166.4" r="10.7" fill="#7CAE00" fill-opacity="0.3" stroke="#7CAE00" stroke-opacity="0.3" stroke-width="4"/>
<circle cx="833.6" cy="2171.2" r="10.7" fill="#C77CFF" fill-opacity="0.3" stroke="#C77CFF" stroke-opacity="0.3" stroke-width="4"/>
<circle cx="883.2" cy="2041.6" r="10.7" fill="#7CAE00" fill-opacity="0.3" stroke="#7CAE00" stroke-opacity="0.3" stroke-width="4"/>
<circle cx="899.2" cy="2046.4" r="10.7" fill="#7CAE00" fill-opacity="0.3" stroke="#7CAE00" stroke-opacity="0.3" stroke-width="4"/>
<circle cx="907.2" cy="2052.8" r="10.7" fill="#7CAE00" fill-opacity="0.3" stroke="#7CAE00" stroke-opacity="0.3" stroke-width="4"/>
<circle cx="886.4" cy="2057.6" r="10.7" fill="#F8766D" fill-opacity="0.3" stroke="#F8766D" stroke-opacity="0.3" stroke-width="4"/>
<circle cx="892.8" cy="2065.6" r="10.7" fill="#F8766D" fill-opacity="0.3" stroke="#F8766D" stroke-opacity="0.3" stroke-width="4"/>
<circle cx="883.2" cy="2070.4" r="10.7" fill="#C77CFF" fill-opacity="0.3" stroke="#C77CFF" stroke-opacity="0.3" stroke-width="4"/>
<circle cx="913.6" cy="2048.0" r="10.7" fill="#C77CFF" fill-opacity="0.3" stroke="#C77CFF" stroke-opacity="0.3" stroke-width="4"/>
<circle cx="921.6" cy="2056.0" r="10.7" fill="#C77CFF" fill-opacity="0.3" stroke="#C77CFF" stroke-opacity="0.3" stroke-width="4"/>
<circle cx="928.0" cy="2064.0" r="10.7" fill="#C77CFF" fill-opacity="0.3" stroke="#C77CFF" stroke-opacity="0.3" stroke-width="4"/>
<circle cx="915.2" cy="2062.4" r="10.7" fill="#C77CFF" fill-opacity="0.3" stroke="#C77CFF" stroke-opacity="0.3" stroke-width="4"/>
<circle cx="934.4" cy="2068.8" r="10.7" fill="#C77CFF" fill-opacity="0.3" stroke="#C77CFF" stroke-opacity="0.3" stroke-width="4"/>
<circle cx="924.8" cy="2072.0" r="10.7" fill="#C77CFF" fill-opacity="0.3" stroke="#C77CFF" stroke-opacity="0.3" stroke-width="4"/>
<circle cx="944.0" cy="2067.2" r="10.7" fill="#7CAE00" fill-opacity="0.3" stroke="#7CAE00" stroke-opacity="0.3" stroke-width="4"/>
<circle cx="940.8" cy="2049.6" r="10.7" fill="#7CAE00" fill-opacity="0.3" stroke="#7CAE00" stroke-opacity="0.3" stroke-width="4"/>
<circle cx="944.0" cy="2044.8" r="10.7" fill="#7CAE00" fill-opacity="0.3" stroke="#7CAE00" stroke-opacity="0.3" stroke-width="4"/>
<circle cx="936.0" cy="2046.4" r="10.7" fill="#7CAE00" fill-opacity="0.3" stroke="#7CAE00" stroke-opacity="0.3" stroke-width="4"/>
<circle cx="912.0" cy="2086.4" r="10.7" fill="#C77CFF" fill-opacity="0.3" stroke="#C77CFF" stroke-opacity="0.3" stroke-width="4"/>
<circle cx="936.0" cy="2081.6" r="10.7" fill="#C77CFF" fill-opacity="0.3" stroke="#C77CFF" stroke-opacity="0.3" stroke-width="4"/>
<circle cx="923.2" cy="2094.4" r="10.7" fill="#C77CFF" fill-opacity="0.3" stroke="#C77CFF" stroke-opacity="0.3" stroke-width="4"/>
<circle cx="928.0" cy="2091.2" r="10.7" fill="#C77CFF" fill-opacity="0.3" stroke="#C77CFF" stroke-opacity="0.3" stroke-width="4"/>
<circle cx="880.0" cy="2091.2" r="10.7" fill="#F8766D" fill-opacity="0.3" stroke="#F8766D" stroke-opacity="0.3" stroke-width="4"/>
<circle cx="889.6" cy="2099.2" r="10.7" fill="#C77CFF" fill-opacity="0.3" stroke="#C77CFF" stroke-opacity="0.3" stroke-width="4"/>
<circle cx="896.0" cy="2100.8" r="10.7" fill="#F8766D" fill-opacity="0.3" stroke="#F8766D" stroke-opacity="0.3" stroke-width="4"/>
<circle cx="904.0" cy="2102.4" r="10.7" fill="#F8766D" fill-opacity="0.3" stroke="#F8766D" stroke-opacity="0.3" stroke-width="4"/>
<circle cx="912.0" cy="2107.2" r="10.7" fill="#F8766D" fill-opacity="0.3" stroke="#F8766D" stroke-opacity="0.3" stroke-width="4"/>
<circle cx="945.6" cy="2100.8" r="10.7" fill="#7CAE00" fill-opacity="0.3" stroke="#7CAE00" stroke-opacity="0.3" stroke-width="4"/>
<circle cx="942.4" cy="2107.2" r="10.7" fill="#7CAE00" fill-opacity="0.3" stroke="#7CAE00" stroke-opacity="0.3" stroke-width="4"/>
<circle cx="938.4" cy="2113.6" r="10.7" fill="#7CAE00" fill-opacity="0.3" stroke="#7CAE00" stroke-opacity="0.3" stroke-width="4"/>
<circle cx="907.2" cy="2120.0" r="10.7" fill="#F8766D" fill-opacity="0.3" stroke="#F8766D" stroke-opacity="0.3" stroke-width="4"/>
<circle cx="910.4" cy="2128.0" r="10.7" fill="#7CAE00" fill-opacity="0.3" stroke="#7CAE00" stroke-opacity="0.3" stroke-width="4"/>
<circle cx="946.4" cy="2136.8" r="10.7" fill="#F8766D" fill-opacity="0.3" stroke="#F8766D" stroke-opacity="0.3" stroke-width="4"/>
<circle cx="892.0" cy="2152.0" r="10.7" fill="#F8766D" fill-opacity="0.3" stroke="#F8766D" stroke-opacity="0.3" stroke-width="4"/>
<circle cx="902.4" cy="2154.4" r="10.7" fill="#F8766D" fill-opacity="0.3" stroke="#F8766D" stroke-opacity="0.3" stroke-width="4"/>
<circle cx="955.2" cy="2056.0" r="10.7" fill="#00BFC4" fill-opacity="0.3" stroke="#00BFC4" stroke-opacity="0.3" stroke-width="4"/>
<circle cx="960.0" cy="2073.6" r="10.7" fill="#7CAE00" fill-opacity="0.3" stroke="#7CAE00" stroke-opacity="0.3" stroke-width="4"/>
<circle cx="956.8" cy="2060.8" r="10.7" fill="#00BFC4" fill-opacity="0.3" stroke="#00BFC4" stroke-opacity="0.3" stroke-width="4"/>
<circle cx="974.4" cy="2049.6" r="10.7" fill="#C77CFF" fill-opacity="0.3" stroke="#C77CFF" stroke-opacity="0.3" stroke-width="4"/>
<circle cx="969.6" cy="2052.8" r="10.7" fill="#C77CFF" fill-opacity="0.3" stroke="#C77CFF" stroke-opacity="0.3" stroke-width="4"/>
<circle cx="979.2" cy="2059.2" r="10.7" fill="#7CAE00" fill-opacity="0.3" stroke="#7CAE00" stroke-opacity="0.3" stroke-width="4"/>
<circle cx="976.0" cy="2062.4" r="10.7" fill="#C77CFF" fill-opacity="0.3" stroke="#C77CFF" stroke-opacity="0.3" stroke-width="4"/>
<circle cx="960.0" cy="2083.2" r="10.7" fill="#F8766D" fill-opacity="0.3" stroke="#F8766D" stroke-opacity="0.3" stroke-width="4"/>
<circle cx="969.6" cy="2091.2" r="10.7" fill="#F8766D" fill-opacity="0.3" stroke="#F8766D" stroke-opacity="0.3" stroke-width="4"/>
<circle cx="979.2" cy="2092.8" r="10.7" fill="#F8766D" fill-opacity="0.3" stroke="#F8766D" stroke-opacity="0.3" stroke-width="4"/>
<circle cx="971.2" cy="2100.8" r="10.7" fill="#F8766D" fill-opacity="0.3" stroke="#F8766D" stroke-opacity="0.3" stroke-width="4"/>
<circle cx="969.6" cy="2107.2" r="10.7" fill="#C77CFF" fill-opacity="0.3" stroke="#C77CFF" stroke-opacity="0.3" stroke-width="4"/>
<circle cx="970.4" cy="2126.4" r="10.7" fill="#C77CFF" fill-opacity="0.3" stroke="#C77CFF" stroke-opacity="0.3" stroke-width="4"/>
<circle cx="1001.6" cy="2049.6" r="10.7" fill="#00BFC4" fill-opacity="0.3" stroke="#00BFC4" stroke-opacity="0.3" stroke-width="4"/>
<circle cx="1003.2" cy="2044.8" r="10.7" fill="#C77CFF" fill-opacity="0.3" stroke="#C77CFF" stroke-opacity="0.3" stroke-width="4"/>
<circle cx="998.4" cy="2064.0" r="10.7" fill="#F8766D" fill-opacity="0.3" stroke="#F8766D" stroke-opacity="0.3" stroke-width="4"/>
<circle cx="1008.0" cy="2072.0" r="10.7" fill="#F8766D" fill-opacity="0.3" stroke="#F8766D" stroke-opacity="0.3" stroke-width="4"/>
<circle cx="995.2" cy="2070.4" r="10.7" fill="#C77CFF" fill-opacity="0.3" stroke="#C77CFF" stroke-opacity="0.3" stroke-width="4"/>
<circle cx="1019.2" cy="2057.6" r="10.7" fill="#F8766D" fill-opacity="0.3" stroke="#F8766D" stroke-opacity="0.3" stroke-width="4"/>
<circle cx="1024.0" cy="2054.4" r="10.7" fill="#F8766D" fill-opacity="0.3" stroke="#F8766D" stroke-opacity="0.3" stroke-width="4"/>
<circle cx="1000.0" cy="2091.2" r="10.7" fill="#C77CFF" fill-opacity="0.3" stroke="#C77CFF" stroke-opacity="0.3" stroke-width="4"/>
<circle cx="1019.2" cy="2094.4" r="10.7" fill="#C77CFF" fill-opacity="0.3" stroke="#C77CFF" stroke-opacity="0.3" stroke-width="4"/>
<circle cx="1008.0" cy="2080.0" r="10.7" fill="#F8766D" fill-opacity="0.3" stroke="#F8766D" stroke-opacity="0.3" stroke-width="4"/>
<circle cx="1020.8" cy="2076.8" r="10.7" fill="#C77CFF" fill-opacity="0.3" stroke="#C77CFF" stroke-opacity="0.3" stroke-width="4"/>
<circle cx="995.2" cy="2107.2" r="10.7" fill="#F8766D" fill-opacity="0.3" stroke="#F8766D" stroke-opacity="0.3" stroke-width="4"/>
<circle cx="1008.0" cy="2113.6" r="10.7" fill="#7CAE00" fill-opacity="0.3" stroke="#7CAE00" stroke-opacity="0.3" stroke-width="4"/>
<circle cx="1011.2" cy="2115.2" r="10.7" fill="#F8766D" fill-opacity="0.3" stroke="#F8766D" stroke-opacity="0.3" stroke-width="4"/>
<circle cx="998.4" cy="2121.6" r="10.7" fill="#F8766D" fill-opacity="0.3" stroke="#F8766D" stroke-opacity="0.3" stroke-width="4"/>
<circle cx="1001.6" cy="2131.2" r="10.7" fill="#F8766D" fill-opacity="0.3" stroke="#F8766D" stroke-opacity="0.3" stroke-width="4"/>
<circle cx="1016.0" cy="2129.6" r="10.7" fill="#F8766D" fill-opacity="0.3" stroke="#F8766D" stroke-opacity="0.3" stroke-width="4"/>
<circle cx="1024.0" cy="2120.0" r="10.7" fill="#F8766D" fill-opacity="0.3" stroke="#F8766D" stroke-opacity="0.3" stroke-width="4"/>
<circle cx="1032.0" cy="2112.0" r="10.7" fill="#F8766D" fill-opacity="0.3" stroke="#F8766D" stroke-opacity="0.3" stroke-width="4"/>
<circle cx="1025.6" cy="2126.4" r="10.7" fill="#F8766D" fill-opacity="0.3" stroke="#F8766D" stroke-opacity="0.3" stroke-width="4"/>
<circle cx="1024.0" cy="2139.2" r="10.7" fill="#C77CFF" fill-opacity="0.3" stroke="#C77CFF" stroke-opacity="0.3" stroke-width="4"/>
<circle cx="1040.0" cy="2152.8" r="10.7" fill="#F8766D" fill-opacity="0.3" stroke="#F8766D" stroke-opacity="0.3" stroke-width="4"/>
<circle cx="1033.6" cy="2048.0" r="10.7" fill="#C77CFF" fill-opacity="0.3" stroke="#C77CFF" stroke-opacity="0.3" stroke-width="4"/>
<circle cx="1052.8" cy="2046.4" r="10.7" fill="#F8766D" fill-opacity="0.3" stroke="#F8766D" stroke-opacity="0.3" stroke-width="4"/>
<circle cx="1043.2" cy="2065.6" r="10.7" fill="#C77CFF" fill-opacity="0.3" stroke="#C77CFF" stroke-opacity="0.3" stroke-width="4"/>
<circle cx="1054.4" cy="2060.8" r="10.7" fill="#C77CFF" fill-opacity="0.3" stroke="#C77CFF" stroke-opacity="0.3" stroke-width="4"/>
<circle cx="1048.0" cy="2084.8" r="10.7" fill="#F8766D" fill-opacity="0.3" stroke="#F8766D" stroke-opacity="0.3" stroke-width="4"/>
<circle cx="1040.0" cy="2075.2" r="10.7" fill="#C77CFF" fill-opacity="0.3" stroke="#C77CFF" stroke-opacity="0.3" stroke-width="4"/>
<circle cx="1051.2" cy="2100.8" r="10.7" fill="#C77CFF" fill-opacity="0.3" stroke="#C77CFF" stroke-opacity="0.3" stroke-width="4"/>
<circle cx="1064.0" cy="2092.8" r="10.7" fill="#C77CFF" fill-opacity="0.3" stroke="#C77CFF" stroke-opacity="0.3" stroke-width="4"/>
<circle cx="1072.0" cy="2094.4" r="10.7" fill="#C77CFF" fill-opacity="0.3" stroke="#C77CFF" stroke-opacity="0.3" stroke-width="4"/>
<circle cx="1044.8" cy="2096.0" r="10.7" fill="#F8766D" fill-opacity="0.3" stroke="#F8766D" stroke-opacity="0.3" stroke-width="4"/>
<circle cx="1064.0" cy="2118.4" r="10.7" fill="#C77CFF" fill-opacity="0.3" stroke="#C77CFF" stroke-opacity="0.3" stroke-width="4"/>
<circle cx="1072.0" cy="2116.8" r="10.7" fill="#F8766D" fill-opacity="0.3" stroke="#F8766D" stroke-opacity="0.3" stroke-width="4"/>
<circle cx="1084.8" cy="2126.4" r="10.7" fill="#F8766D" fill-opacity="0.3" stroke="#F8766D" stroke-opacity="0.3" stroke-width="4"/>
<circle cx="1083.2" cy="2104.0" r="10.7" fill="#F8766D" fill-opacity="0.3" stroke="#F8766D" stroke-opacity="0.3" stroke-width="4"/>
<circle cx="1083.2" cy="2052.8" r="10.7" fill="#00BFC4" fill-opacity="0.3" stroke="#00BFC4" stroke-opacity="0.3" stroke-width="4"/>
<circle cx="1072.0" cy="2060.8" r="10.7" fill="#F8766D" fill-opacity="0.3" stroke="#F8766D" stroke-opacity="0.3" stroke-width="4"/>
<circle cx="1100.8" cy="2057.6" r="10.7" fill="#F8766D" fill-opacity="0.3" stroke="#F8766D" stroke-opacity="0.3" stroke-width="4"/>
<circle cx="1088.0" cy="2048.0" r="10.7" fill="#C77CFF" fill-opacity="0.3" stroke="#C77CFF" stroke-opacity="0.3" stroke-width="4"/>
<circle cx="1104.0" cy="2049.6" r="10.7" fill="#C77CFF" fill-opacity="0.3" stroke="#C77CFF" stroke-opacity="0.3" stroke-width="4"/>
<circle cx="1112.0" cy="2059.2" r="10.7" fill="#C77CFF" fill-opacity="0.3" stroke="#C77CFF" stroke-opacity="0.3" stroke-width="4"/>
<circle cx="1120.0" cy="2044.8" r="10.7" fill="#C77CFF" fill-opacity="0.3" stroke="#C77CFF" stroke-opacity="0.3" stroke-width="4"/>
<circle cx="1126.4" cy="2052.8" r="10.7" fill="#C77CFF" fill-opacity="0.3" stroke="#C77CFF" stroke-opacity="0.3" stroke-width="4"/>
<circle cx="1136.0" cy="2049.6" r="10.7" fill="#C77CFF" fill-opacity="0.3" stroke="#C77CFF" stroke-opacity="0.3" stroke-width="4"/>
<circle cx="1139.2" cy="2065.6" r="10.7" fill="#C77CFF" fill-opacity="0.3" stroke="#C77CFF" stroke-opacity="0.3" stroke-width="4"/>
<circle cx="1129.6" cy="2072.0" r="10.7" fill="#C77CFF" fill-opacity="0.3" stroke="#C77CFF" stroke-opacity="0.3" stroke-width="4"/>
<circle cx="1152.0" cy="2046.4" r="10.7" fill="#C77CFF" fill-opacity="0.3" stroke="#C77CFF" stroke-opacity="0.3" stroke-width="4"/>
<circle cx="1153.6" cy="2052.8" r="10.7" fill="#00BFC4" fill-opacity="0.3" stroke="#00BFC4" stroke-opacity="0.3" stroke-width="4"/>
<circle cx="1152.0" cy="2067.2" r="10.7" fill="#C77CFF" fill-opacity="0.3" stroke="#C77CFF" stroke-opacity="0.3" stroke-width="4"/>
<circle cx="1091.2" cy="2073.6" r="10.7" fill="#7CAE00" fill-opacity="0.3" stroke="#7CAE00" stroke-opacity="0.3" stroke-width="4"/>
<circle cx="1092.8" cy="2091.2" r="10.7" fill="#7CAE00" fill-opacity="0.3" stroke="#7CAE00" stroke-opacity="0.3" stroke-width="4"/>
<circle cx="1097.6" cy="2084.8" r="10.7" fill="#C77CFF" fill-opacity="0.3" stroke="#C77CFF" stroke-opacity="0.3" stroke-width="4"/>
<circle cx="1107.2" cy="2080.0" r="10.7" fill="#C77CFF" fill-opacity="0.3" stroke="#C77CFF" stroke-opacity="0.3" stroke-width="4"/>
<circle cx="1128.0" cy="2080.0" r="10.7" fill="#C77CFF" fill-opacity="0.3" stroke="#C77CFF" stroke-opacity="0.3" stroke-width="4"/>
<circle cx="1140.8" cy="2081.6" r="10.7" fill="#C77CFF" fill-opacity="0.3" stroke="#C77CFF" stroke-opacity="0.3" stroke-width="4"/>
<circle cx="1153.6" cy="2088.0" r="10.7" fill="#C77CFF" fill-opacity="0.3" stroke="#C77CFF" stroke-opacity="0.3" stroke-width="4"/>
<circle cx="1110.4" cy="2102.4" r="10.7" fill="#C77CFF" fill-opacity="0.3" stroke="#C77CFF" stroke-opacity="0.3" stroke-width="4"/>
<circle cx="1129.6" cy="2105.6" r="10.7" fill="#C77CFF" fill-opacity="0.3" stroke="#C77CFF" stroke-opacity="0.3" stroke-width="4"/>
<circle cx="1126.4" cy="2110.4" r="10.7" fill="#7CAE00" fill-opacity="0.3" stroke="#7CAE00" stroke-opacity="0.3" stroke-width="4"/>
<circle cx="1104.0" cy="2116.8" r="10.7" fill="#F8766D" fill-opacity="0.3" stroke="#F8766D" stroke-opacity="0.3" stroke-width="4"/>
<circle cx="1121.6" cy="2129.6" r="10.7" fill="#F8766D" fill-opacity="0.3" stroke="#F8766D" stroke-opacity="0.3" stroke-width="4"/>
<circle cx="1152.0" cy="2136.8" r="10.7" fill="#F8766D" fill-opacity="0.3" stroke="#F8766D" stroke-opacity="0.3" stroke-width="4"/>
<circle cx="1163.2" cy="2049.6" r="10.7" fill="#C77CFF" fill-opacity="0.3" stroke="#C77CFF" stroke-opacity="0.3" stroke-width="4"/>
<circle cx="1177.6" cy="2043.2" r="10.7" fill="#00BFC4" fill-opacity="0.3" stroke="#00BFC4" stroke-opacity="0.3" stroke-width="4"/>
<circle cx="1192.0" cy="2044.8" r="10.7" fill="#00BFC4" fill-opacity="0.3" stroke="#00BFC4" stroke-opacity="0.3" stroke-width="4"/>
<circle cx="1196.8" cy="2049.6" r="10.7" fill="#00BFC4" fill-opacity="0.3" stroke="#00BFC4" stroke-opacity="0.3" stroke-width="4"/>
<circle cx="1169.6" cy="2056.0" r="10.7" fill="#C77CFF" fill-opacity="0.3" stroke="#C77CFF" stroke-opacity="0.3" stroke-width="4"/>
<circle cx="1166.4" cy="2070.4" r="10.7" fill="#7CAE00" fill-opacity="0.3" stroke="#7CAE00" stroke-opacity="0.3" stroke-width="4"/>
<circle cx="1163.2" cy="2068.8" r="10.7" fill="#F8766D" fill-opacity="0.3" stroke="#F8766D" stroke-opacity="0.3" stroke-width="4"/>
<circle cx="1191.2" cy="2072.8" r="10.7" fill="#00BFC4" fill-opacity="0.3" stroke="#00BFC4" stroke-opacity="0.3" stroke-width="4"/>
<circle cx="1190.4" cy="2072.0" r="10.7" fill="#C77CFF" fill-opacity="0.3" stroke="#C77CFF" stroke-opacity="0.3" stroke-width="4"/>
<circle cx="1163.2" cy="2089.6" r="10.7" fill="#C77CFF" fill-opacity="0.3" stroke="#C77CFF" stroke-opacity="0.3" stroke-width="4"/>
<circle cx="1177.6" cy="2091.2" r="10.7" fill="#C77CFF" fill-opacity="0.3" stroke="#C77CFF" stroke-opacity="0.3" stroke-width="4"/>
<circle cx="1191.2" cy="2092.8" r="10.7" fill="#F8766D" fill-opacity="0.3" stroke="#F8766D" stroke-opacity="0.3" stroke-width="4"/>
<circle cx="1216.0" cy="2059.2" r="10.7" fill="#7CAE00" fill-opacity="0.3" stroke="#7CAE00" stroke-opacity="0.3" stroke-width="4"/>
<circle cx="1212.8" cy="2060.8" r="10.7" fill="#C77CFF" fill-opacity="0.3" stroke="#C77CFF" stroke-opacity="0.3" stroke-width="4"/>
<circle cx="1235.2" cy="2060.8" r="10.7" fill="#7CAE00" fill-opacity="0.3" stroke="#7CAE00" stroke-opacity="0.3" stroke-width="4"/>
<circle cx="1227.2" cy="2043.2" r="10.7" fill="#7CAE00" fill-opacity="0.3" stroke="#7CAE00" stroke-opacity="0.3" stroke-width="4"/>
<circle cx="1240.0" cy="2056.0" r="10.7" fill="#00BFC4" fill-opacity="0.3" stroke="#00BFC4" stroke-opacity="0.3" stroke-width="4"/>
<circle cx="1216.0" cy="2072.0" r="10.7" fill="#00BFC4" fill-opacity="0.3" stroke="#00BFC4" stroke-opacity="0.3" stroke-width="4"/>
<circle cx="1219.2" cy="2075.2" r="10.7" fill="#7CAE00" fill-opacity="0.3" stroke="#7CAE00" stroke-opacity="0.3" stroke-width="4"/>
<circle cx="1212.8" cy="2076.8" r="10.7" fill="#00BFC4" fill-opacity="0.3" stroke="#00BFC4" stroke-opacity="0.3" stroke-width="4"/>
<circle cx="1246.4" cy="2070.4" r="10.7" fill="#C77CFF" fill-opacity="0.3" stroke="#C77CFF" stroke-opacity="0.3" stroke-width="4"/>
<circle cx="1252.8" cy="2081.6" r="10.7" fill="#00BFC4" fill-opacity="0.3" stroke="#00BFC4" stroke-opacity="0.3" stroke-width="4"/>
<circle cx="1268.8" cy="2076.8" r="10.7" fill="#00BFC4" fill-opacity="0.3" stroke="#00BFC4" stroke-opacity="0.3" stroke-width="4"/>
<circle cx="1262.4" cy="2086.4" r="10.7" fill="#C77CFF" fill-opacity="0.3" stroke="#C77CFF" stroke-opacity="0.3" stroke-width="4"/>
<circle cx="1240.0" cy="2088.0" r="10.7" fill="#00BFC4" fill-opacity="0.3" stroke="#00BFC4" stroke-opacity="0.3" stroke-width="4"/>
<circle cx="1233.6" cy="2081.6" r="10.7" fill="#C77CFF" fill-opacity="0.3" stroke="#C77CFF" stroke-opacity="0.3" stroke-width="4"/>
<circle cx="1218.4" cy="2095.2" r="10.7" fill="#00BFC4" fill-opacity="0.3" stroke="#00BFC4" stroke-opacity="0.3" stroke-width="4"/>
<circle cx="1202.9" cy="2114.4" r="10.7" fill="#C77CFF" fill-opacity="0.3" stroke="#C77CFF" stroke-opacity="0.3" stroke-width="4"/>
<circle cx="1220.8" cy="2113.6" r="10.7" fill="#00BFC4" fill-opacity="0.3" stroke="#00BFC4" stroke-opacity="0.3" stroke-width="4"/>
<circle cx="1232.8" cy="2113.6" r="10.7" fill="#00BFC4" fill-opacity="0.3" stroke="#00BFC4" stroke-opacity="0.3" stroke-width="4"/>
<circle cx="1185.3" cy="2138.4" r="10.7" fill="#F8766D" fill-opacity="0.3" stroke="#F8766D" stroke-opacity="0.3" stroke-width="4"/>
<circle cx="1249.6" cy="2044.8" r="10.7" fill="#00BFC4" fill-opacity="0.3" stroke="#00BFC4" stroke-opacity="0.3" stroke-width="4"/>
<circle cx="1264.0" cy="2048.0" r="10.7" fill="#00BFC4" fill-opacity="0.3" stroke="#00BFC4" stroke-opacity="0.3" stroke-width="4"/>
<circle cx="1256.0" cy="2040.8" r="10.7" fill="#00BFC4" fill-opacity="0.3" stroke="#00BFC4" stroke-opacity="0.3" stroke-width="4"/>
<circle cx="1284.8" cy="2060.0" r="10.7" fill="#C77CFF" fill-opacity="0.3" stroke="#C77CFF" stroke-opacity="0.3" stroke-width="4"/>
<circle cx="1288.0" cy="2041.6" r="10.7" fill="#00BFC4" fill-opacity="0.3" stroke="#00BFC4" stroke-opacity="0.3" stroke-width="4"/>
<circle cx="1300.8" cy="2046.4" r="10.7" fill="#00BFC4" fill-opacity="0.3" stroke="#00BFC4" stroke-opacity="0.3" stroke-width="4"/>
<circle cx="1312.0" cy="2052.8" r="10.7" fill="#C77CFF" fill-opacity="0.3" stroke="#C77CFF" stroke-opacity="0.3" stroke-width="4"/>
<circle cx="1320.0" cy="2049.6" r="10.7" fill="#C77CFF" fill-opacity="0.3" stroke="#C77CFF" stroke-opacity="0.3" stroke-width="4"/>
<circle cx="1329.6" cy="2054.4" r="10.7" fill="#C77CFF" fill-opacity="0.3" stroke="#C77CFF" stroke-opacity="0.3" stroke-width="4"/>
<circle cx="1334.4" cy="2051.2" r="10.7" fill="#00BFC4" fill-opacity="0.3" stroke="#00BFC4" stroke-opacity="0.3" stroke-width="4"/>
<circle cx="1307.2" cy="2062.4" r="10.7" fill="#C77CFF" fill-opacity="0.3" stroke="#C77CFF" stroke-opacity="0.3" stroke-width="4"/>
<circle cx="1312.0" cy="2064.0" r="10.7" fill="#00BFC4" fill-opacity="0.3" stroke="#00BFC4" stroke-opacity="0.3" stroke-width="4"/>
<circle cx="1316.8" cy="2072.0" r="10.7" fill="#00BFC4" fill-opacity="0.3" stroke="#00BFC4" stroke-opacity="0.3" stroke-width="4"/>
<circle cx="1320.0" cy="2078.4" r="10.7" fill="#00BFC4" fill-opacity="0.3" stroke="#00BFC4" stroke-opacity="0.3" stroke-width="4"/>
<circle cx="1321.6" cy="2076.8" r="10.7" fill="#00BFC4" fill-opacity="0.3" stroke="#00BFC4" stroke-opacity="0.3" stroke-width="4"/>
<circle cx="1294.4" cy="2084.8" r="10.7" fill="#00BFC4" fill-opacity="0.3" stroke="#00BFC4" stroke-opacity="0.3" stroke-width="4"/>
<circle cx="1294.4" cy="2102.4" r="10.7" fill="#00BFC4" fill-opacity="0.3" stroke="#00BFC4" stroke-opacity="0.3" stroke-width="4"/>
<circle cx="1316.8" cy="2086.4" r="10.7" fill="#00BFC4" fill-opacity="0.3" stroke="#00BFC4" stroke-opacity="0.3" stroke-width="4"/>
<circle cx="1332.8" cy="2092.0" r="10.7" fill="#00BFC4" fill-opacity="0.3" stroke="#00BFC4" stroke-opacity="0.3" stroke-width="4"/>
<circle cx="1358.4" cy="2094.4" r="10.7" fill="#C77CFF" fill-opacity="0.3" stroke="#C77CFF" stroke-opacity="0.3" stroke-width="4"/>
<circle cx="1356.8" cy="2048.0" r="10.7" fill="#00BFC4" fill-opacity="0.3" stroke="#00BFC4" stroke-opacity="0.3" stroke-width="4"/>
<circle cx="1360.0" cy="2054.4" r="10.7" fill="#00BFC4" fill-opacity="0.3" stroke="#00BFC4" stroke-opacity="0.3" stroke-width="4"/>
<circle cx="1352.0" cy="2043.2" r="10.7" fill="#00BFC4" fill-opacity="0.3" stroke="#00BFC4" stroke-opacity="0.3" stroke-width="4"/>
<circle cx="1368.0" cy="2041.6" r="10.7" fill="#00BFC4" fill-opacity="0.3" stroke="#00BFC4" stroke-opacity="0.3" stroke-width="4"/>
<circle cx="1380.8" cy="2052.8" r="10.7" fill="#C77CFF" fill-opacity="0.3" stroke="#C77CFF" stroke-opacity="0.3" stroke-width="4"/>
<circle cx="1404.8" cy="2044.8" r="10.7" fill="#C77CFF" fill-opacity="0.3" stroke="#C77CFF" stroke-opacity="0.3" stroke-width="4"/>
<circle cx="1400.0" cy="2065.6" r="10.7" fill="#00BFC4" fill-opacity="0.3" stroke="#00BFC4" stroke-opacity="0.3" stroke-width="4"/>
<circle cx="1419.2" cy="2040.8" r="10.7" fill="#00BFC4" fill-opacity="0.3" stroke="#00BFC4" stroke-opacity="0.3" stroke-width="4"/>
<circle cx="1362.4" cy="2144.8" r="10.7" fill="#C77CFF" fill-opacity="0.3" stroke="#C77CFF" stroke-opacity="0.3" stroke-width="4"/>
<circle cx="878.9" cy="2027.1" r="10.7" fill="#7CAE00" fill-opacity="0.3" stroke="#7CAE00" stroke-opacity="0.3" stroke-width="4"/>
<circle cx="877.1" cy="2034.0" r="10.7" fill="#7CAE00" fill-opacity="0.3" stroke="#7CAE00" stroke-opacity="0.3" stroke-width="4"/>
<circle cx="920.0" cy="2035.7" r="10.7" fill="#7CAE00" fill-opacity="0.3" stroke="#7CAE00" stroke-opacity="0.3" stroke-width="4"/>
<circle cx="920.0" cy="2039.1" r="10.7" fill="#C77CFF" fill-opacity="0.3" stroke="#C77CFF" stroke-opacity="0.3" stroke-width="4"/>
<circle cx="945.7" cy="2032.3" r="10.7" fill="#00BFC4" fill-opacity="0.3" stroke="#00BFC4" stroke-opacity="0.3" stroke-width="4"/>
<circle cx="944.0" cy="2035.7" r="10.7" fill="#7CAE00" fill-opacity="0.3" stroke="#7CAE00" stroke-opacity="0.3" stroke-width="4"/>
<circle cx="971.4" cy="2039.1" r="10.7" fill="#7CAE00" fill-opacity="0.3" stroke="#7CAE00" stroke-opacity="0.3" stroke-width="4"/>
<circle cx="1000.6" cy="2013.4" r="10.7" fill="#7CAE00" fill-opacity="0.3" stroke="#7CAE00" stroke-opacity="0.3" stroke-width="4"/>
<circle cx="1005.7" cy="2016.9" r="10.7" fill="#7CAE00" fill-opacity="0.3" stroke="#7CAE00" stroke-opacity="0.3" stroke-width="4"/>
<circle cx="1010.9" cy="2020.3" r="10.7" fill="#7CAE00" fill-opacity="0.3" stroke="#7CAE00" stroke-opacity="0.3" stroke-width="4"/>
<circle cx="997.1" cy="2023.7" r="10.7" fill="#7CAE00" fill-opacity="0.3" stroke="#7CAE00" stroke-opacity="0.3" stroke-width="4"/>
<circle cx="1014.3" cy="2022.0" r="10.7" fill="#7CAE00" fill-opacity="0.3" stroke="#7CAE00" stroke-opacity="0.3" stroke-width="4"/>
<circle cx="1002.3" cy="2018.6" r="10.7" fill="#7CAE00" fill-opacity="0.3" stroke="#7CAE00" stroke-opacity="0.3" stroke-width="4"/>
<circle cx="1055.4" cy="2016.9" r="10.7" fill="#7CAE00" fill-opacity="0.3" stroke="#7CAE00" stroke-opacity="0.3" stroke-width="4"/>
<circle cx="1055.4" cy="2027.1" r="10.7" fill="#C77CFF" fill-opacity="0.3" stroke="#C77CFF" stroke-opacity="0.3" stroke-width="4"/>
<circle cx="1074.3" cy="2010.9" r="10.7" fill="#00BFC4" fill-opacity="0.3" stroke="#00BFC4" stroke-opacity="0.3" stroke-width="4"/>
<circle cx="1089.7" cy="2003.1" r="10.7" fill="#7CAE00" fill-opacity="0.3" stroke="#7CAE00" stroke-opacity="0.3" stroke-width="4"/>
<circle cx="1088.0" cy="2015.1" r="10.7" fill="#7CAE00" fill-opacity="0.3" stroke="#7CAE00" stroke-opacity="0.3" stroke-width="4"/>
<circle cx="1103.4" cy="2010.0" r="10.7" fill="#7CAE00" fill-opacity="0.3" stroke="#7CAE00" stroke-opacity="0.3" stroke-width="4"/>
<circle cx="1112.0" cy="2013.4" r="10.7" fill="#00BFC4" fill-opacity="0.3" stroke="#00BFC4" stroke-opacity="0.3" stroke-width="4"/>
<circle cx="1106.9" cy="2027.1" r="10.7" fill="#7CAE00" fill-opacity="0.3" stroke="#7CAE00" stroke-opacity="0.3" stroke-width="4"/>
<circle cx="1110.3" cy="2023.7" r="10.7" fill="#7CAE00" fill-opacity="0.3" stroke="#7CAE00" stroke-opacity="0.3" stroke-width="4"/>
<circle cx="1100.0" cy="2022.0" r="10.7" fill="#7CAE00" fill-opacity="0.3" stroke="#7CAE00" stroke-opacity="0.3" stroke-width="4"/>
<circle cx="1137.7" cy="2016.9" r="10.7" fill="#7CAE00" fill-opacity="0.3" stroke="#7CAE00" stroke-opacity="0.3" stroke-width="4"/>
<circle cx="1151.4" cy="2013.4" r="10.7" fill="#7CAE00" fill-opacity="0.3" stroke="#7CAE00" stroke-opacity="0.3" stroke-width="4"/>
<circle cx="1159.1" cy="1993.7" r="10.7" fill="#00BFC4" fill-opacity="0.3" stroke="#00BFC4" stroke-opacity="0.3" stroke-width="4"/>
<circle cx="1031.4" cy="2035.7" r="10.7" fill="#C77CFF" fill-opacity="0.3" stroke="#C77CFF" stroke-opacity="0.3" stroke-width="4"/>
<circle cx="1048.6" cy="2035.7" r="10.7" fill="#C77CFF" fill-opacity="0.3" stroke="#C77CFF" stroke-opacity="0.3" stroke-width="4"/>
<circle cx="1074.3" cy="2035.7" r="10.7" fill="#C77CFF" fill-opacity="0.3" stroke="#C77CFF" stroke-opacity="0.3" stroke-width="4"/>
<circle cx="1082.9" cy="2038.3" r="10.7" fill="#C77CFF" fill-opacity="0.3" stroke="#C77CFF" stroke-opacity="0.3" stroke-width="4"/>
<circle cx="1127.4" cy="2034.0" r="10.7" fill="#C77CFF" fill-opacity="0.3" stroke="#C77CFF" stroke-opacity="0.3" stroke-width="4"/>
<circle cx="1142.9" cy="2030.6" r="10.7" fill="#C77CFF" fill-opacity="0.3" stroke="#C77CFF" stroke-opacity="0.3" stroke-width="4"/>
<circle cx="1151.4" cy="2035.7" r="10.7" fill="#C77CFF" fill-opacity="0.3" stroke="#C77CFF" stroke-opacity="0.3" stroke-width="4"/>
<circle cx="993.7" cy="2035.7" r="10.7" fill="#C77CFF" fill-opacity="0.3" stroke="#C77CFF" stroke-opacity="0.3" stroke-width="4"/>
<circle cx="1000.6" cy="2038.3" r="10.7" fill="#C77CFF" fill-opacity="0.3" stroke="#C77CFF" stroke-opacity="0.3" stroke-width="4"/>
<circle cx="1296.3" cy="1961.1" r="10.7" fill="#00BFC4" fill-opacity="0.3" stroke="#00BFC4" stroke-opacity="0.3" stroke-width="4"/>
<circle cx="1368.0" cy="1954.3" r="10.7" fill="#00BFC4" fill-opacity="0.3" stroke="#00BFC4" stroke-opacity="0.3" stroke-width="4"/>
<circle cx="1416.0" cy="1956.0" r="10.7" fill="#00BFC4" fill-opacity="0.3" stroke="#00BFC4" stroke-opacity="0.3" stroke-width="4"/>
<circle cx="1412.6" cy="1961.1" r="10.7" fill="#00BFC4" fill-opacity="0.3" stroke="#00BFC4" stroke-opacity="0.3" stroke-width="4"/>
<circle cx="1345.7" cy="1969.7" r="10.7" fill="#00BFC4" fill-opacity="0.3" stroke="#00BFC4" stroke-opacity="0.3" stroke-width="4"/>
<circle cx="1395.4" cy="1964.6" r="10.7" fill="#00BFC4" fill-opacity="0.3" stroke="#00BFC4" stroke-opacity="0.3" stroke-width="4"/>
<circle cx="1199.1" cy="1975.7" r="10.7" fill="#00BFC4" fill-opacity="0.3" stroke="#00BFC4" stroke-opacity="0.3" stroke-width="4"/>
<circle cx="1313.1" cy="1974.9" r="10.7" fill="#00BFC4" fill-opacity="0.3" stroke="#00BFC4" stroke-opacity="0.3" stroke-width="4"/>
<circle cx="1296.0" cy="1968.0" r="10.7" fill="#00BFC4" fill-opacity="0.3" stroke="#00BFC4" stroke-opacity="0.3" stroke-width="4"/>
<circle cx="1285.7" cy="1974.9" r="10.7" fill="#00BFC4" fill-opacity="0.3" stroke="#00BFC4" stroke-opacity="0.3" stroke-width="4"/>
<circle cx="1164.0" cy="1993.7" r="10.7" fill="#00BFC4" fill-opacity="0.3" stroke="#00BFC4" stroke-opacity="0.3" stroke-width="4"/>
<circle cx="1181.1" cy="1988.6" r="10.7" fill="#00BFC4" fill-opacity="0.3" stroke="#00BFC4" stroke-opacity="0.3" stroke-width="4"/>
<circle cx="1188.0" cy="1988.6" r="10.7" fill="#00BFC4" fill-opacity="0.3" stroke="#00BFC4" stroke-opacity="0.3" stroke-width="4"/>
<circle cx="1219.2" cy="1983.4" r="10.7" fill="#7CAE00" fill-opacity="0.3" stroke="#7CAE00" stroke-opacity="0.3" stroke-width="4"/>
<circle cx="1235.1" cy="1988.6" r="10.7" fill="#00BFC4" fill-opacity="0.3" stroke="#00BFC4" stroke-opacity="0.3" stroke-width="4"/>
<circle cx="1262.6" cy="1982.6" r="10.7" fill="#7CAE00" fill-opacity="0.3" stroke="#7CAE00" stroke-opacity="0.3" stroke-width="4"/>
<circle cx="1263.4" cy="1986.9" r="10.7" fill="#7CAE00" fill-opacity="0.3" stroke="#7CAE00" stroke-opacity="0.3" stroke-width="4"/>
<circle cx="1287.4" cy="1981.7" r="10.7" fill="#00BFC4" fill-opacity="0.3" stroke="#00BFC4" stroke-opacity="0.3" stroke-width="4"/>
<circle cx="1321.7" cy="1988.6" r="10.7" fill="#00BFC4" fill-opacity="0.3" stroke="#00BFC4" stroke-opacity="0.3" stroke-width="4"/>
<circle cx="1352.6" cy="1974.9" r="10.7" fill="#00BFC4" fill-opacity="0.3" stroke="#00BFC4" stroke-opacity="0.3" stroke-width="4"/>
<circle cx="1371.4" cy="1983.4" r="10.7" fill="#00BFC4" fill-opacity="0.3" stroke="#00BFC4" stroke-opacity="0.3" stroke-width="4"/>
<circle cx="1380.0" cy="1980.0" r="10.7" fill="#00BFC4" fill-opacity="0.3" stroke="#00BFC4" stroke-opacity="0.3" stroke-width="4"/>
<circle cx="1402.3" cy="1976.6" r="10.7" fill="#00BFC4" fill-opacity="0.3" stroke="#00BFC4" stroke-opacity="0.3" stroke-width="4"/>
<circle cx="1407.4" cy="1971.4" r="10.7" fill="#00BFC4" fill-opacity="0.3" stroke="#00BFC4" stroke-opacity="0.3" stroke-width="4"/>
<circle cx="1417.7" cy="1968.0" r="10.7" fill="#00BFC4" fill-opacity="0.3" stroke="#00BFC4" stroke-opacity="0.3" stroke-width="4"/>
<circle cx="1431.4" cy="1976.6" r="10.7" fill="#00BFC4" fill-opacity="0.3" stroke="#00BFC4" stroke-opacity="0.3" stroke-width="4"/>
<circle cx="1422.9" cy="1985.1" r="10.7" fill="#00BFC4" fill-opacity="0.3" stroke="#00BFC4" stroke-opacity="0.3" stroke-width="4"/>
<circle cx="1397.1" cy="1992.0" r="10.7" fill="#00BFC4" fill-opacity="0.3" stroke="#00BFC4" stroke-opacity="0.3" stroke-width="4"/>
<circle cx="1409.1" cy="1992.0" r="10.7" fill="#00BFC4" fill-opacity="0.3" stroke="#00BFC4" stroke-opacity="0.3" stroke-width="4"/>
<circle cx="1215.4" cy="1992.0" r="10.7" fill="#7CAE00" fill-opacity="0.3" stroke="#7CAE00" stroke-opacity="0.3" stroke-width="4"/>
<circle cx="1206.9" cy="1998.9" r="10.7" fill="#00BFC4" fill-opacity="0.3" stroke="#00BFC4" stroke-opacity="0.3" stroke-width="4"/>
<circle cx="1186.3" cy="2005.7" r="10.7" fill="#00BFC4" fill-opacity="0.3" stroke="#00BFC4" stroke-opacity="0.3" stroke-width="4"/>
<circle cx="1179.4" cy="2002.3" r="10.7" fill="#7CAE00" fill-opacity="0.3" stroke="#7CAE00" stroke-opacity="0.3" stroke-width="4"/>
<circle cx="1170.9" cy="1997.1" r="10.7" fill="#00BFC4" fill-opacity="0.3" stroke="#00BFC4" stroke-opacity="0.3" stroke-width="4"/>
<circle cx="1249.7" cy="2002.3" r="10.7" fill="#00BFC4" fill-opacity="0.3" stroke="#00BFC4" stroke-opacity="0.3" stroke-width="4"/>
<circle cx="1242.9" cy="2000.6" r="10.7" fill="#00BFC4" fill-opacity="0.3" stroke="#00BFC4" stroke-opacity="0.3" stroke-width="4"/>
<circle cx="1258.3" cy="2000.6" r="10.7" fill="#00BFC4" fill-opacity="0.3" stroke="#00BFC4" stroke-opacity="0.3" stroke-width="4"/>
<circle cx="1229.1" cy="2005.7" r="10.7" fill="#00BFC4" fill-opacity="0.3" stroke="#00BFC4" stroke-opacity="0.3" stroke-width="4"/>
<circle cx="1217.1" cy="2004.0" r="10.7" fill="#00BFC4" fill-opacity="0.3" stroke="#00BFC4" stroke-opacity="0.3" stroke-width="4"/>
<circle cx="1278.9" cy="2002.3" r="10.7" fill="#C77CFF" fill-opacity="0.3" stroke="#C77CFF" stroke-opacity="0.3" stroke-width="4"/>
<circle cx="1277.1" cy="2012.6" r="10.7" fill="#C77CFF" fill-opacity="0.3" stroke="#C77CFF" stroke-opacity="0.3" stroke-width="4"/>
<circle cx="1282.3" cy="2009.1" r="10.7" fill="#C77CFF" fill-opacity="0.3" stroke="#C77CFF" stroke-opacity="0.3" stroke-width="4"/>
<circle cx="1301.1" cy="2002.3" r="10.7" fill="#00BFC4" fill-opacity="0.3" stroke="#00BFC4" stroke-opacity="0.3" stroke-width="4"/>
<circle cx="1311.4" cy="1995.4" r="10.7" fill="#00BFC4" fill-opacity="0.3" stroke="#00BFC4" stroke-opacity="0.3" stroke-width="4"/>
<circle cx="1326.9" cy="1995.4" r="10.7" fill="#00BFC4" fill-opacity="0.3" stroke="#00BFC4" stroke-opacity="0.3" stroke-width="4"/>
<circle cx="1328.6" cy="2002.3" r="10.7" fill="#00BFC4" fill-opacity="0.3" stroke="#00BFC4" stroke-opacity="0.3" stroke-width="4"/>
<circle cx="1332.0" cy="2005.7" r="10.7" fill="#00BFC4" fill-opacity="0.3" stroke="#00BFC4" stroke-opacity="0.3" stroke-width="4"/>
<circle cx="1349.1" cy="1990.3" r="10.7" fill="#C77CFF" fill-opacity="0.3" stroke="#C77CFF" stroke-opacity="0.3" stroke-width="4"/>
<circle cx="1356.0" cy="2002.3" r="10.7" fill="#C77CFF" fill-opacity="0.3" stroke="#C77CFF" stroke-opacity="0.3" stroke-width="4"/>
<circle cx="1380.0" cy="2002.3" r="10.7" fill="#C77CFF" fill-opacity="0.3" stroke="#C77CFF" stroke-opacity="0.3" stroke-width="4"/>
<circle cx="1368.0" cy="1992.0" r="10.7" fill="#00BFC4" fill-opacity="0.3" stroke="#00BFC4" stroke-opacity="0.3" stroke-width="4"/>
<circle cx="1376.6" cy="1988.6" r="10.7" fill="#00BFC4" fill-opacity="0.3" stroke="#00BFC4" stroke-opacity="0.3" stroke-width="4"/>
<circle cx="1388.6" cy="1998.9" r="10.7" fill="#00BFC4" fill-opacity="0.3" stroke="#00BFC4" stroke-opacity="0.3" stroke-width="4"/>
<circle cx="1345.7" cy="2005.7" r="10.7" fill="#00BFC4" fill-opacity="0.3" stroke="#00BFC4" stroke-opacity="0.3" stroke-width="4"/>
<circle cx="1414.3" cy="2005.7" r="10.7" fill="#00BFC4" fill-opacity="0.3" stroke="#00BFC4" stroke-opacity="0.3" stroke-width="4"/>
<circle cx="1424.6" cy="2000.6" r="10.7" fill="#00BFC4" fill-opacity="0.3" stroke="#00BFC4" stroke-opacity="0.3" stroke-width="4"/>
<circle cx="1434.9" cy="1997.1" r="10.7" fill="#00BFC4" fill-opacity="0.3" stroke="#00BFC4" stroke-opacity="0.3" stroke-width="4"/>
<circle cx="1436.6" cy="2014.3" r="10.7" fill="#00BFC4" fill-opacity="0.3" stroke="#00BFC4" stroke-opacity="0.3" stroke-width="4"/>
<circle cx="1407.4" cy="2012.6" r="10.7" fill="#00BFC4" fill-opacity="0.3" stroke="#00BFC4" stroke-opacity="0.3" stroke-width="4"/>
<circle cx="1153.7" cy="2012.6" r="10.7" fill="#7CAE00" fill-opacity="0.3" stroke="#7CAE00" stroke-opacity="0.3" stroke-width="4"/>
<circle cx="1174.3" cy="2026.3" r="10.7" fill="#C77CFF" fill-opacity="0.3" stroke="#C77CFF" stroke-opacity="0.3" stroke-width="4"/>
<circle cx="1191.4" cy="2028.0" r="10.7" fill="#00BFC4" fill-opacity="0.3" stroke="#00BFC4" stroke-opacity="0.3" stroke-width="4"/>
<circle cx="1200.0" cy="2026.3" r="10.7" fill="#00BFC4" fill-opacity="0.3" stroke="#00BFC4" stroke-opacity="0.3" stroke-width="4"/>
<circle cx="1182.9" cy="2038.3" r="10.7" fill="#00BFC4" fill-opacity="0.3" stroke="#00BFC4" stroke-opacity="0.3" stroke-width="4"/>
<circle cx="1226.6" cy="2024.6" r="10.7" fill="#C77CFF" fill-opacity="0.3" stroke="#C77CFF" stroke-opacity="0.3" stroke-width="4"/>
<circle cx="1242.9" cy="2022.9" r="10.7" fill="#00BFC4" fill-opacity="0.3" stroke="#00BFC4" stroke-opacity="0.3" stroke-width="4"/>
<circle cx="1251.4" cy="2028.0" r="10.7" fill="#C77CFF" fill-opacity="0.3" stroke="#C77CFF" stroke-opacity="0.3" stroke-width="4"/>
<circle cx="1263.4" cy="2029.7" r="10.7" fill="#00BFC4" fill-opacity="0.3" stroke="#00BFC4" stroke-opacity="0.3" stroke-width="4"/>
<circle cx="1290.9" cy="2021.1" r="10.7" fill="#C77CFF" fill-opacity="0.3" stroke="#C77CFF" stroke-opacity="0.3" stroke-width="4"/>
<circle cx="1294.3" cy="2031.4" r="10.7" fill="#00BFC4" fill-opacity="0.3" stroke="#00BFC4" stroke-opacity="0.3" stroke-width="4"/>
<circle cx="1302.9" cy="2016.0" r="10.7" fill="#00BFC4" fill-opacity="0.3" stroke="#00BFC4" stroke-opacity="0.3" stroke-width="4"/>
<circle cx="1311.4" cy="2022.9" r="10.7" fill="#00BFC4" fill-opacity="0.3" stroke="#00BFC4" stroke-opacity="0.3" stroke-width="4"/>
<circle cx="1320.0" cy="2016.0" r="10.7" fill="#00BFC4" fill-opacity="0.3" stroke="#00BFC4" stroke-opacity="0.3" stroke-width="4"/>
<circle cx="1332.0" cy="2026.3" r="10.7" fill="#00BFC4" fill-opacity="0.3" stroke="#00BFC4" stroke-opacity="0.3" stroke-width="4"/>
<circle cx="1342.3" cy="2016.0" r="10.7" fill="#00BFC4" fill-opacity="0.3" stroke="#00BFC4" stroke-opacity="0.3" stroke-width="4"/>
<circle cx="1366.3" cy="2022.9" r="10.7" fill="#C77CFF" fill-opacity="0.3" stroke="#C77CFF" stroke-opacity="0.3" stroke-width="4"/>
<circle cx="1356.0" cy="2029.7" r="10.7" fill="#00BFC4" fill-opacity="0.3" stroke="#00BFC4" stroke-opacity="0.3" stroke-width="4"/>
<circle cx="1318.3" cy="2036.6" r="10.7" fill="#C77CFF" fill-opacity="0.3" stroke="#C77CFF" stroke-opacity="0.3" stroke-width="4"/>
<circle cx="1383.4" cy="2029.7" r="10.7" fill="#00BFC4" fill-opacity="0.3" stroke="#00BFC4" stroke-opacity="0.3" stroke-width="4"/>
<circle cx="1393.7" cy="2022.9" r="10.7" fill="#00BFC4" fill-opacity="0.3" stroke="#00BFC4" stroke-opacity="0.3" stroke-width="4"/>
<circle cx="1417.7" cy="2029.7" r="10.7" fill="#00BFC4" fill-opacity="0.3" stroke="#00BFC4" stroke-opacity="0.3" stroke-width="4"/>
<circle cx="1345.7" cy="2038.3" r="10.7" fill="#00BFC4" fill-opacity="0.3" stroke="#00BFC4" stroke-opacity="0.3" stroke-width="4"/>
<circle cx="1300.0" cy="1980.0" r="10.7" fill="#00BFC4" fill-opacity="0.3" stroke="#00BFC4" stroke-opacity="0.3" stroke-width="4"/>
<circle cx="1320.0" cy="1990.0" r="10.7" fill="#00BFC4" fill-opacity="0.3" stroke="#00BFC4" stroke-opacity="0.3" stroke-width="4"/>
<circle cx="1330.0" cy="2006.0" r="10.7" fill="#00BFC4" fill-opacity="0.3" stroke="#00BFC4" stroke-opacity="0.3" stroke-width="4"/>
<circle cx="1360.0" cy="1986.0" r="10.7" fill="#00BFC4" fill-opacity="0.3" stroke="#00BFC4" stroke-opacity="0.3" stroke-width="4"/>
<circle cx="1380.0" cy="1980.0" r="10.7" fill="#00BFC4" fill-opacity="0.3" stroke="#00BFC4" stroke-opacity="0.3" stroke-width="4"/>
<circle cx="1396.0" cy="1990.0" r="10.7" fill="#00BFC4" fill-opacity="0.3" stroke="#00BFC4" stroke-opacity="0.3" stroke-width="4"/>
<circle cx="1410.0" cy="1980.0" r="10.7" fill="#00BFC4" fill-opacity="0.3" stroke="#00BFC4" stroke-opacity="0.3" stroke-width="4"/>
<circle cx="1420.0" cy="1996.0" r="10.7" fill="#00BFC4" fill-opacity="0.3" stroke="#00BFC4" stroke-opacity="0.3" stroke-width="4"/>
<circle cx="1400.0" cy="2006.0" r="10.7" fill="#00BFC4" fill-opacity="0.3" stroke="#00BFC4" stroke-opacity="0.3" stroke-width="4"/>
<circle cx="1380.0" cy="2016.0" r="10.7" fill="#00BFC4" fill-opacity="0.3" stroke="#00BFC4" stroke-opacity="0.3" stroke-width="4"/>
<circle cx="1360.0" cy="2010.0" r="10.7" fill="#00BFC4" fill-opacity="0.3" stroke="#00BFC4" stroke-opacity="0.3" stroke-width="4"/>
<circle cx="1340.0" cy="2024.0" r="10.7" fill="#00BFC4" fill-opacity="0.3" stroke="#00BFC4" stroke-opacity="0.3" stroke-width="4"/>
<circle cx="1320.0" cy="2030.0" r="10.7" fill="#00BFC4" fill-opacity="0.3" stroke="#00BFC4" stroke-opacity="0.3" stroke-width="4"/>
<circle cx="1300.0" cy="2036.0" r="10.7" fill="#00BFC4" fill-opacity="0.3" stroke="#00BFC4" stroke-opacity="0.3" stroke-width="4"/>
<circle cx="1280.0" cy="2034.0" r="10.7" fill="#00BFC4" fill-opacity="0.3" stroke="#00BFC4" stroke-opacity="0.3" stroke-width="4"/>
<circle cx="1350.0" cy="2040.0" r="10.7" fill="#00BFC4" fill-opacity="0.3" stroke="#00BFC4" stroke-opacity="0.3" stroke-width="4"/>
<circle cx="1370.0" cy="2034.0" r="10.7" fill="#00BFC4" fill-opacity="0.3" stroke="#00BFC4" stroke-opacity="0.3" stroke-width="4"/>
<circle cx="1390.0" cy="2024.0" r="10.7" fill="#00BFC4" fill-opacity="0.3" stroke="#00BFC4" stroke-opacity="0.3" stroke-width="4"/>
<circle cx="1420.0" cy="2016.0" r="10.7" fill="#00BFC4" fill-opacity="0.3" stroke="#00BFC4" stroke-opacity="0.3" stroke-width="4"/>
<circle cx="1440.0" cy="2000.0" r="10.7" fill="#00BFC4" fill-opacity="0.3" stroke="#00BFC4" stroke-opacity="0.3" stroke-width="4"/>
<circle cx="1290.0" cy="2016.0" r="10.7" fill="#00BFC4" fill-opacity="0.3" stroke="#00BFC4" stroke-opacity="0.3" stroke-width="4"/>
<circle cx="1270.0" cy="2030.0" r="10.7" fill="#00BFC4" fill-opacity="0.3" stroke="#00BFC4" stroke-opacity="0.3" stroke-width="4"/>
<circle cx="1256.0" cy="2010.0" r="10.7" fill="#00BFC4" fill-opacity="0.3" stroke="#00BFC4" stroke-opacity="0.3" stroke-width="4"/>
<circle cx="1240.0" cy="2000.0" r="10.7" fill="#00BFC4" fill-opacity="0.3" stroke="#00BFC4" stroke-opacity="0.3" stroke-width="4"/>
<circle cx="1220.0" cy="2004.0" r="10.7" fill="#00BFC4" fill-opacity="0.3" stroke="#00BFC4" stroke-opacity="0.3" stroke-width="4"/>
<circle cx="1200.0" cy="2000.0" r="10.7" fill="#00BFC4" fill-opacity="0.3" stroke="#00BFC4" stroke-opacity="0.3" stroke-width="4"/>
<circle cx="1184.0" cy="2006.0" r="10.7" fill="#00BFC4" fill-opacity="0.3" stroke="#00BFC4" stroke-opacity="0.3" stroke-width="4"/>
<circle cx="1304.0" cy="2000.0" r="10.7" fill="#00BFC4" fill-opacity="0.3" stroke="#00BFC4" stroke-opacity="0.3" stroke-width="4"/>
<circle cx="1336.0" cy="1996.0" r="10.7" fill="#00BFC4" fill-opacity="0.3" stroke="#00BFC4" stroke-opacity="0.3" stroke-width="4"/>
<circle cx="1110.0" cy="2040.0" r="10.7" fill="#C77CFF" fill-opacity="0.3" stroke="#C77CFF" stroke-opacity="0.3" stroke-width="4"/>
<circle cx="1130.0" cy="2036.0" r="10.7" fill="#C77CFF" fill-opacity="0.3" stroke="#C77CFF" stroke-opacity="0.3" stroke-width="4"/>
<circle cx="1150.0" cy="2034.0" r="10.7" fill="#C77CFF" fill-opacity="0.3" stroke="#C77CFF" stroke-opacity="0.3" stroke-width="4"/>
<circle cx="1120.0" cy="2056.0" r="10.7" fill="#C77CFF" fill-opacity="0.3" stroke="#C77CFF" stroke-opacity="0.3" stroke-width="4"/>
<circle cx="1140.0" cy="2052.0" r="10.7" fill="#C77CFF" fill-opacity="0.3" stroke="#C77CFF" stroke-opacity="0.3" stroke-width="4"/>
<circle cx="1160.0" cy="2046.0" r="10.7" fill="#C77CFF" fill-opacity="0.3" stroke="#C77CFF" stroke-opacity="0.3" stroke-width="4"/>
<circle cx="1110.0" cy="2070.0" r="10.7" fill="#C77CFF" fill-opacity="0.3" stroke="#C77CFF" stroke-opacity="0.3" stroke-width="4"/>
<circle cx="1130.0" cy="2068.0" r="10.7" fill="#C77CFF" fill-opacity="0.3" stroke="#C77CFF" stroke-opacity="0.3" stroke-width="4"/>
<circle cx="1150.0" cy="2064.0" r="10.7" fill="#C77CFF" fill-opacity="0.3" stroke="#C77CFF" stroke-opacity="0.3" stroke-width="4"/>
<circle cx="1170.0" cy="2060.0" r="10.7" fill="#C77CFF" fill-opacity="0.3" stroke="#C77CFF" stroke-opacity="0.3" stroke-width="4"/>
<circle cx="1124.0" cy="2080.0" r="10.7" fill="#C77CFF" fill-opacity="0.3" stroke="#C77CFF" stroke-opacity="0.3" stroke-width="4"/>
<circle cx="1146.0" cy="2080.0" r="10.7" fill="#C77CFF" fill-opacity="0.3" stroke="#C77CFF" stroke-opacity="0.3" stroke-width="4"/>
<circle cx="1276.0" cy="2010.0" r="10.7" fill="#C77CFF" fill-opacity="0.3" stroke="#C77CFF" stroke-opacity="0.3" stroke-width="4"/>
<circle cx="1316.0" cy="2046.0" r="10.7" fill="#C77CFF" fill-opacity="0.3" stroke="#C77CFF" stroke-opacity="0.3" stroke-width="4"/>
<circle cx="1106.0" cy="2020.0" r="10.7" fill="#7CAE00" fill-opacity="0.3" stroke="#7CAE00" stroke-opacity="0.3" stroke-width="4"/>
<circle cx="1112.0" cy="2026.0" r="10.7" fill="#7CAE00" fill-opacity="0.3" stroke="#7CAE00" stroke-opacity="0.3" stroke-width="4"/>
<circle cx="1104.0" cy="2010.0" r="10.7" fill="#7CAE00" fill-opacity="0.3" stroke="#7CAE00" stroke-opacity="0.3" stroke-width="4"/>
<circle cx="971.4" cy="2041.4" r="10.7" fill="#C77CFF" fill-opacity="0.3" stroke="#C77CFF" stroke-opacity="0.3" stroke-width="4"/>
<circle cx="985.7" cy="2052.9" r="10.7" fill="#C77CFF" fill-opacity="0.3" stroke="#C77CFF" stroke-opacity="0.3" stroke-width="4"/>
<circle cx="1000.0" cy="2038.6" r="10.7" fill="#C77CFF" fill-opacity="0.3" stroke="#C77CFF" stroke-opacity="0.3" stroke-width="4"/>
<circle cx="1014.3" cy="2058.6" r="10.7" fill="#C77CFF" fill-opacity="0.3" stroke="#C77CFF" stroke-opacity="0.3" stroke-width="4"/>
<circle cx="1028.6" cy="2044.3" r="10.7" fill="#C77CFF" fill-opacity="0.3" stroke="#C77CFF" stroke-opacity="0.3" stroke-width="4"/>
<circle cx="1042.9" cy="2032.9" r="10.7" fill="#C77CFF" fill-opacity="0.3" stroke="#C77CFF" stroke-opacity="0.3" stroke-width="4"/>
<circle cx="1057.1" cy="2055.7" r="10.7" fill="#C77CFF" fill-opacity="0.3" stroke="#C77CFF" stroke-opacity="0.3" stroke-width="4"/>
<circle cx="1071.4" cy="2038.6" r="10.7" fill="#C77CFF" fill-opacity="0.3" stroke="#C77CFF" stroke-opacity="0.3" stroke-width="4"/>
<circle cx="1085.7" cy="2061.4" r="10.7" fill="#F8766D" fill-opacity="0.3" stroke="#F8766D" stroke-opacity="0.3" stroke-width="4"/>
<circle cx="1100.0" cy="2047.1" r="10.7" fill="#F8766D" fill-opacity="0.3" stroke="#F8766D" stroke-opacity="0.3" stroke-width="4"/>
<circle cx="1114.3" cy="2035.7" r="10.7" fill="#C77CFF" fill-opacity="0.3" stroke="#C77CFF" stroke-opacity="0.3" stroke-width="4"/>
<circle cx="1128.6" cy="2055.7" r="10.7" fill="#7CAE00" fill-opacity="0.3" stroke="#7CAE00" stroke-opacity="0.3" stroke-width="4"/>
<circle cx="1142.9" cy="2041.4" r="10.7" fill="#C77CFF" fill-opacity="0.3" stroke="#C77CFF" stroke-opacity="0.3" stroke-width="4"/>
<circle cx="1157.1" cy="2064.3" r="10.7" fill="#00BFC4" fill-opacity="0.3" stroke="#00BFC4" stroke-opacity="0.3" stroke-width="4"/>
<circle cx="1171.4" cy="2047.1" r="10.7" fill="#00BFC4" fill-opacity="0.3" stroke="#00BFC4" stroke-opacity="0.3" stroke-width="4"/>
<circle cx="1185.7" cy="2032.9" r="10.7" fill="#00BFC4" fill-opacity="0.3" stroke="#00BFC4" stroke-opacity="0.3" stroke-width="4"/>
<circle cx="1037.1" cy="2075.7" r="10.7" fill="#C77CFF" fill-opacity="0.3" stroke="#C77CFF" stroke-opacity="0.3" stroke-width="4"/>
<circle cx="1065.7" cy="2075.7" r="10.7" fill="#C77CFF" fill-opacity="0.3" stroke="#C77CFF" stroke-opacity="0.3" stroke-width="4"/>
<circle cx="1114.3" cy="2072.9" r="10.7" fill="#F8766D" fill-opacity="0.3" stroke="#F8766D" stroke-opacity="0.3" stroke-width="4"/>
<circle cx="1157.1" cy="2081.4" r="10.7" fill="#00BFC4" fill-opacity="0.3" stroke="#00BFC4" stroke-opacity="0.3" stroke-width="4"/>
<circle cx="1000.0" cy="2072.9" r="10.7" fill="#C77CFF" fill-opacity="0.3" stroke="#C77CFF" stroke-opacity="0.3" stroke-width="4"/>
<circle cx="980.0" cy="2064.3" r="10.7" fill="#C77CFF" fill-opacity="0.3" stroke="#C77CFF" stroke-opacity="0.3" stroke-width="4"/>
<circle cx="1051.4" cy="2047.1" r="10.7" fill="#F8766D" fill-opacity="0.3" stroke="#F8766D" stroke-opacity="0.3" stroke-width="4"/>
<circle cx="1071.4" cy="2064.3" r="10.7" fill="#F8766D" fill-opacity="0.3" stroke="#F8766D" stroke-opacity="0.3" stroke-width="4"/>
<circle cx="1100.0" cy="2070.0" r="10.7" fill="#F8766D" fill-opacity="0.3" stroke="#F8766D" stroke-opacity="0.3" stroke-width="4"/>
<circle cx="917.1" cy="2047.1" r="10.7" fill="#C77CFF" fill-opacity="0.3" stroke="#C77CFF" stroke-opacity="0.3" stroke-width="4"/>
<circle cx="928.6" cy="2064.3" r="10.7" fill="#C77CFF" fill-opacity="0.3" stroke="#C77CFF" stroke-opacity="0.3" stroke-width="4"/>
<circle cx="905.7" cy="2075.7" r="10.7" fill="#C77CFF" fill-opacity="0.3" stroke="#C77CFF" stroke-opacity="0.3" stroke-width="4"/>
<circle cx="558.2" cy="2082.8" r="10.7" fill="#7CAE00" fill-opacity="0.3" stroke="#7CAE00" stroke-opacity="0.3" stroke-width="4"/>
<circle cx="580.8" cy="2092.9" r="10.7" fill="#7CAE00" fill-opacity="0.3" stroke="#7CAE00" stroke-opacity="0.3" stroke-width="4"/>
<circle cx="585.8" cy="2080.3" r="10.7" fill="#F8766D" fill-opacity="0.3" stroke="#F8766D" stroke-opacity="0.3" stroke-width="4"/>
<circle cx="616.0" cy="2087.8" r="10.7" fill="#7CAE00" fill-opacity="0.3" stroke="#7CAE00" stroke-opacity="0.3" stroke-width="4"/>
<circle cx="653.7" cy="2087.8" r="10.7" fill="#F8766D" fill-opacity="0.3" stroke="#F8766D" stroke-opacity="0.3" stroke-width="4"/>
<circle cx="676.4" cy="2080.3" r="10.7" fill="#C77CFF" fill-opacity="0.3" stroke="#C77CFF" stroke-opacity="0.3" stroke-width="4"/>
<circle cx="691.4" cy="2087.8" r="10.7" fill="#7CAE00" fill-opacity="0.3" stroke="#7CAE00" stroke-opacity="0.3" stroke-width="4"/>
<circle cx="704.0" cy="2085.3" r="10.7" fill="#F8766D" fill-opacity="0.3" stroke="#F8766D" stroke-opacity="0.3" stroke-width="4"/>
<circle cx="716.6" cy="2070.2" r="10.7" fill="#7CAE00" fill-opacity="0.3" stroke="#7CAE00" stroke-opacity="0.3" stroke-width="4"/>
<circle cx="736.7" cy="2092.9" r="10.7" fill="#7CAE00" fill-opacity="0.3" stroke="#7CAE00" stroke-opacity="0.3" stroke-width="4"/>
<circle cx="751.8" cy="2105.4" r="10.7" fill="#7CAE00" fill-opacity="0.3" stroke="#7CAE00" stroke-opacity="0.3" stroke-width="4"/>
<circle cx="787.0" cy="2065.2" r="10.7" fill="#F8766D" fill-opacity="0.3" stroke="#F8766D" stroke-opacity="0.3" stroke-width="4"/>
<circle cx="797.1" cy="2080.3" r="10.7" fill="#7CAE00" fill-opacity="0.3" stroke="#7CAE00" stroke-opacity="0.3" stroke-width="4"/>
<circle cx="822.2" cy="2092.9" r="10.7" fill="#F8766D" fill-opacity="0.3" stroke="#F8766D" stroke-opacity="0.3" stroke-width="4"/>
<circle cx="842.3" cy="2045.1" r="10.7" fill="#7CAE00" fill-opacity="0.3" stroke="#7CAE00" stroke-opacity="0.3" stroke-width="4"/>
<circle cx="817.2" cy="2105.4" r="10.7" fill="#F8766D" fill-opacity="0.3" stroke="#F8766D" stroke-opacity="0.3" stroke-width="4"/>
<circle cx="854.9" cy="2092.9" r="10.7" fill="#F8766D" fill-opacity="0.3" stroke="#F8766D" stroke-opacity="0.3" stroke-width="4"/>
<circle cx="704.0" cy="2105.4" r="10.7" fill="#7CAE00" fill-opacity="0.3" stroke="#7CAE00" stroke-opacity="0.3" stroke-width="4"/>
<circle cx="666.3" cy="2105.4" r="10.7" fill="#F8766D" fill-opacity="0.3" stroke="#F8766D" stroke-opacity="0.3" stroke-width="4"/>
<rect x="272.3" y="1355.2" width="1694.6000000000001" height="855.1000000000001" fill="none" stroke="#B3B3B3" stroke-width="6"/>
</g>
<line x1="255.9" y1="2185.80" x2="272.3" y2="2185.80" stroke="#B3B3B3" stroke-width="2.9"/>
<text x="242.5" y="2205.5" font-size="53.33" fill="#4D4D4D" text-anchor="end" textLength="26.33" lengthAdjust="spacingAndGlyphs">0</text>
<line x1="255.9" y1="2033.08" x2="272.3" y2="2033.08" stroke="#B3B3B3" stroke-width="2.9"/>
<text x="242.5" y="2052.8" font-size="53.33" fill="#4D4D4D" text-anchor="end" textLength="131.64" lengthAdjust="spacingAndGlyphs">10000</text>
<line x1="255.9" y1="1880.36" x2="272.3" y2="1880.36" stroke="#B3B3B3" stroke-width="2.9"/>
<text x="242.5" y="1900.1" font-size="53.33" fill="#4D4D4D" text-anchor="end" textLength="131.64" lengthAdjust="spacingAndGlyphs">20000</text>
<line x1="255.9" y1="1727.64" x2="272.3" y2="1727.64" stroke="#B3B3B3" stroke-width="2.9"/>
<text x="242.5" y="1747.3" font-size="53.33" fill="#4D4D4D" text-anchor="end" textLength="131.64" lengthAdjust="spacingAndGlyphs">30000</text>
<line x1="255.9" y1="1574.92" x2="272.3" y2="1574.92" stroke="#B3B3B3" stroke-width="2.9"/>
<text x="242.5" y="1594.6" font-size="53.33" fill="#4D4D4D" text-anchor="end" textLength="131.64" lengthAdjust="spacingAndGlyphs">40000</text>
<line x1="255.9" y1="1422.20" x2="272.3" y2="1422.20" stroke="#B3B3B3" stroke-width="2.9"/>
<text x="242.5" y="1441.9" font-size="53.33" fill="#4D4D4D" text-anchor="end" textLength="131.64" lengthAdjust="spacingAndGlyphs">50000</text>
<line x1="478.50" y1="2210.3" x2="478.50" y2="2226.9" stroke="#B3B3B3" stroke-width="2.9"/>
<text x="478.50" y="2278.5" font-size="53.33" fill="#4D4D4D" text-anchor="middle" textLength="26.33" lengthAdjust="spacingAndGlyphs">0</text>
<line x1="956.17" y1="2210.3" x2="956.17" y2="2226.9" stroke="#B3B3B3" stroke-width="2.9"/>
<text x="956.17" y="2278.5" font-size="53.33" fill="#4D4D4D" text-anchor="middle" textLength="52.66" lengthAdjust="spacingAndGlyphs">10</text>
<line x1="1433.84" y1="2210.3" x2="1433.84" y2="2226.9" stroke="#B3B3B3" stroke-width="2.9"/>
<text x="1433.84" y="2278.5" font-size="53.33" fill="#4D4D4D" text-anchor="middle" textLength="52.66" lengthAdjust="spacingAndGlyphs">20</text>
<line x1="1911.51" y1="2210.3" x2="1911.51" y2="2226.9" stroke="#B3B3B3" stroke-width="2.9"/>
<text x="1911.51" y="2278.5" font-size="53.33" fill="#4D4D4D" text-anchor="middle" textLength="52.66" lengthAdjust="spacingAndGlyphs">30</text>
<text x="1119.8" y="2353" font-size="66.67" fill="#000" text-anchor="middle" textLength="259.11" lengthAdjust="spacingAndGlyphs">temp_feel</text>
<text transform="translate(81,1358.4) rotate(-90)" font-size="66.67" fill="#000" textLength="148.48" lengthAdjust="spacingAndGlyphs">count</text>
</svg></body></html>
